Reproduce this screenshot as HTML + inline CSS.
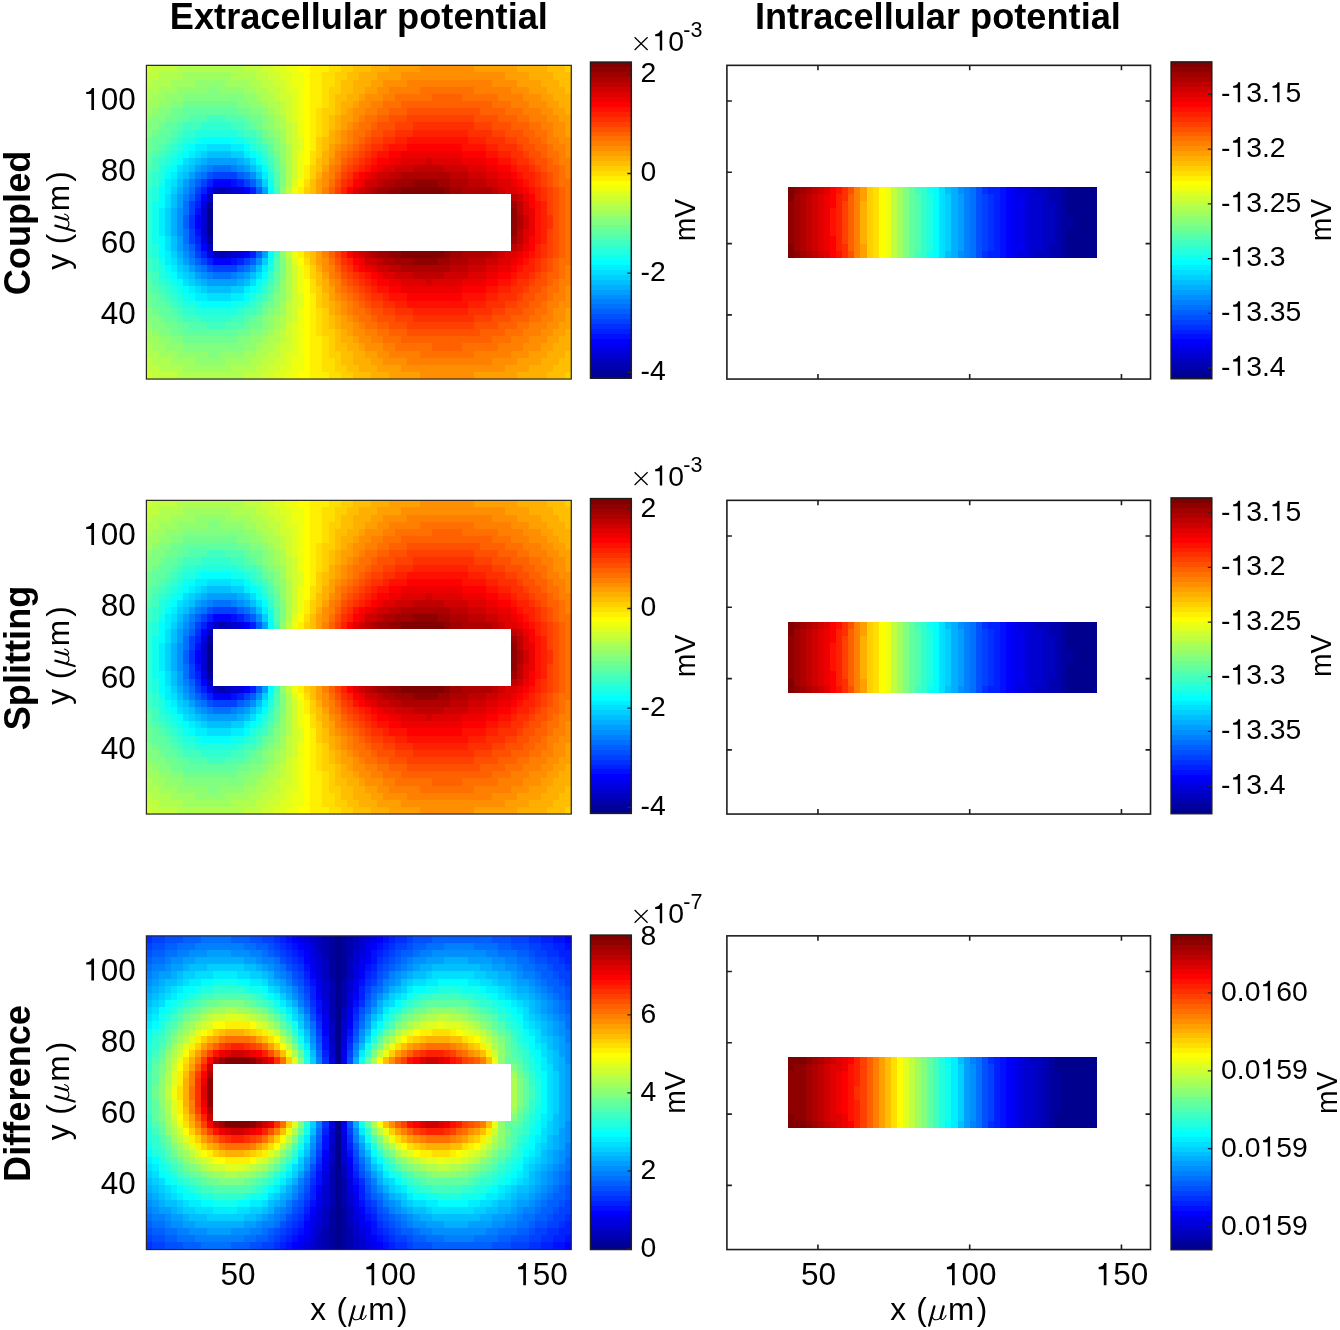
<!DOCTYPE html><html><head><meta charset="utf-8"><style>html,body{margin:0;padding:0;background:#fff;}svg{display:block;will-change:transform;}</style></head><body>
<svg width="1340" height="1330" viewBox="0 0 1340 1330">
<rect width="1340" height="1330" fill="#fff"/>
<g transform="translate(358.85 29.4) scale(1 1.0)">
<text x="0.00" y="0.00" font-size="36.20" text-anchor="middle" font-weight="bold" font-style="normal" font-family='"Liberation Sans", sans-serif' >Extracellular potential</text>
</g>
<g transform="translate(937.90 29.4) scale(1 1.0)">
<text x="0.00" y="0.00" font-size="36.20" text-anchor="middle" font-weight="bold" font-style="normal" font-family='"Liberation Sans", sans-serif' >Intracellular potential</text>
</g>
<g transform="translate(146.400 65.350) scale(6.07000 7.12955)" shape-rendering="crispEdges">
<path fill="#00008f" d="M10 20h1v1h-1zM10 21h1v1h-1zM10 22h1v1h-1zM10 23h1v1h-1z"/>
<path fill="#00009f" d="M10 19h1v1h-1zM10 24h1v1h-1z"/>
<path fill="#0000af" d="M12 17h1v1h-1zM12 26h1v1h-1z"/>
<path fill="#0000bf" d="M11 17h1v1h-1zM13 17h1v1h-1zM10 18h1v1h-1zM10 25h1v1h-1zM11 26h1v1h-1zM13 26h1v1h-1z"/>
<path fill="#0000cf" d="M14 17h1v1h-1zM9 20h1v1h-1zM9 21h1v1h-1zM9 22h1v1h-1zM9 23h1v1h-1zM14 26h1v1h-1z"/>
<path fill="#0000df" d="M15 17h1v1h-1zM9 19h1v1h-1zM9 24h1v1h-1zM15 26h1v1h-1z"/>
<path fill="#0000ef" d="M10 17h1v1h-1zM10 26h1v1h-1z"/>
<path fill="#0000ff" d="M11 16h3v1h-3zM16 17h1v1h-1zM9 18h1v1h-1zM8 21h1v1h-1zM8 22h1v1h-1zM9 25h1v1h-1zM16 26h1v1h-1zM11 27h3v1h-3z"/>
<path fill="#0010ff" d="M14 16h1v1h-1zM8 20h1v1h-1zM8 23h1v1h-1zM14 27h1v1h-1z"/>
<path fill="#0020ff" d="M10 16h1v1h-1zM15 16h1v1h-1zM9 17h1v1h-1zM17 17h1v1h-1zM8 19h1v1h-1zM8 24h1v1h-1zM9 26h1v1h-1zM17 26h1v1h-1zM10 27h1v1h-1zM15 27h1v1h-1z"/>
<path fill="#0030ff" d="M8 18h1v1h-1zM7 21h1v1h-1zM7 22h1v1h-1zM8 25h1v1h-1z"/>
<path fill="#0040ff" d="M11 15h4v1h-4zM9 16h1v1h-1zM16 16h1v1h-1zM8 17h1v1h-1zM7 19h1v1h-1zM7 20h1v1h-1zM7 23h1v1h-1zM7 24h1v1h-1zM8 26h1v1h-1zM9 27h1v1h-1zM16 27h1v1h-1zM11 28h4v1h-4z"/>
<path fill="#0050ff" d="M10 15h1v1h-1zM10 28h1v1h-1z"/>
<path fill="#0060ff" d="M15 15h1v1h-1zM8 16h1v1h-1zM17 16h1v1h-1zM18 17h1v1h-1zM7 18h1v1h-1zM6 21h1v1h-1zM6 22h1v1h-1zM7 25h1v1h-1zM18 26h1v1h-1zM8 27h1v1h-1zM17 27h1v1h-1zM15 28h1v1h-1z"/>
<path fill="#0070ff" d="M11 14h3v1h-3zM9 15h1v1h-1zM16 15h1v1h-1zM7 17h1v1h-1zM6 19h1v1h-1zM6 20h1v1h-1zM6 23h1v1h-1zM6 24h1v1h-1zM7 26h1v1h-1zM9 28h1v1h-1zM16 28h1v1h-1zM11 29h3v1h-3z"/>
<path fill="#0080ff" d="M10 14h1v1h-1zM14 14h1v1h-1zM8 15h1v1h-1zM7 16h1v1h-1zM6 18h1v1h-1zM6 25h1v1h-1zM7 27h1v1h-1zM8 28h1v1h-1zM10 29h1v1h-1zM14 29h1v1h-1z"/>
<path fill="#008fff" d="M9 14h1v1h-1zM15 14h1v1h-1zM17 15h1v1h-1zM18 16h1v1h-1zM6 17h1v1h-1zM5 20h1v1h-1zM5 21h1v1h-1zM5 22h1v1h-1zM5 23h1v1h-1zM6 26h1v1h-1zM18 27h1v1h-1zM17 28h1v1h-1zM9 29h1v1h-1zM15 29h1v1h-1z"/>
<path fill="#009fff" d="M10 13h5v1h-5zM8 14h1v1h-1zM16 14h1v1h-1zM7 15h1v1h-1zM6 16h1v1h-1zM19 17h1v1h-1zM5 18h1v1h-1zM5 19h1v1h-1zM5 24h1v1h-1zM5 25h1v1h-1zM19 26h1v1h-1zM6 27h1v1h-1zM7 28h1v1h-1zM8 29h1v1h-1zM16 29h1v1h-1zM10 30h5v1h-5z"/>
<path fill="#00afff" d="M9 13h1v1h-1zM15 13h1v1h-1zM5 17h1v1h-1zM4 20h1v1h-1zM4 21h1v1h-1zM4 22h1v1h-1zM4 23h1v1h-1zM5 26h1v1h-1zM9 30h1v1h-1zM15 30h1v1h-1z"/>
<path fill="#00bfff" d="M10 12h4v1h-4zM8 13h1v1h-1zM16 13h1v1h-1zM7 14h1v1h-1zM17 14h1v1h-1zM6 15h1v1h-1zM18 15h1v1h-1zM5 16h1v1h-1zM4 18h1v1h-1zM4 19h1v1h-1zM4 24h1v1h-1zM4 25h1v1h-1zM5 27h1v1h-1zM6 28h1v1h-1zM18 28h1v1h-1zM7 29h1v1h-1zM17 29h1v1h-1zM8 30h1v1h-1zM16 30h1v1h-1zM10 31h4v1h-4z"/>
<path fill="#00cfff" d="M9 12h1v1h-1zM14 12h2v1h-2zM7 13h1v1h-1zM6 14h1v1h-1zM5 15h1v1h-1zM19 16h1v1h-1zM4 17h1v1h-1zM3 20h1v1h-1zM3 21h1v1h-1zM3 22h1v1h-1zM3 23h1v1h-1zM4 26h1v1h-1zM19 27h1v1h-1zM5 28h1v1h-1zM6 29h1v1h-1zM7 30h1v1h-1zM9 31h1v1h-1zM14 31h2v1h-2z"/>
<path fill="#00dfff" d="M10 11h4v1h-4zM8 12h1v1h-1zM6 13h1v1h-1zM17 13h1v1h-1zM5 14h1v1h-1zM18 14h1v1h-1zM4 16h1v1h-1zM3 18h1v1h-1zM3 19h1v1h-1zM3 24h1v1h-1zM3 25h1v1h-1zM4 27h1v1h-1zM5 29h1v1h-1zM18 29h1v1h-1zM6 30h1v1h-1zM17 30h1v1h-1zM8 31h1v1h-1zM10 32h4v1h-4z"/>
<path fill="#00efff" d="M8 11h2v1h-2zM14 11h2v1h-2zM7 12h1v1h-1zM16 12h1v1h-1zM4 15h1v1h-1zM19 15h1v1h-1zM3 16h1v1h-1zM3 17h1v1h-1zM2 20h1v1h-1zM2 21h1v1h-1zM2 22h1v1h-1zM2 23h1v1h-1zM3 26h1v1h-1zM3 27h1v1h-1zM4 28h1v1h-1zM19 28h1v1h-1zM7 31h1v1h-1zM16 31h1v1h-1zM8 32h2v1h-2zM14 32h2v1h-2z"/>
<path fill="#00ffff" d="M9 10h5v1h-5zM7 11h1v1h-1zM16 11h1v1h-1zM6 12h1v1h-1zM17 12h1v1h-1zM5 13h1v1h-1zM18 13h1v1h-1zM4 14h1v1h-1zM19 14h1v1h-1zM3 15h1v1h-1zM2 17h1v1h-1zM20 17h1v1h-1zM2 18h1v1h-1zM2 19h1v1h-1zM2 24h1v1h-1zM2 25h1v1h-1zM2 26h1v1h-1zM20 26h1v1h-1zM3 28h1v1h-1zM4 29h1v1h-1zM19 29h1v1h-1zM5 30h1v1h-1zM18 30h1v1h-1zM6 31h1v1h-1zM17 31h1v1h-1zM7 32h1v1h-1zM16 32h1v1h-1zM9 33h5v1h-5z"/>
<path fill="#10ffef" d="M8 10h1v1h-1zM14 10h2v1h-2zM6 11h1v1h-1zM5 12h1v1h-1zM18 12h1v1h-1zM4 13h1v1h-1zM3 14h1v1h-1zM2 16h1v1h-1zM20 16h1v1h-1zM1 19h1v1h-1zM1 20h1v1h-1zM1 21h1v1h-1zM1 22h1v1h-1zM1 23h1v1h-1zM1 24h1v1h-1zM2 27h1v1h-1zM20 27h1v1h-1zM3 29h1v1h-1zM4 30h1v1h-1zM5 31h1v1h-1zM18 31h1v1h-1zM6 32h1v1h-1zM8 33h1v1h-1zM14 33h2v1h-2z"/>
<path fill="#20ffdf" d="M8 9h7v1h-7zM6 10h2v1h-2zM16 10h1v1h-1zM5 11h1v1h-1zM17 11h1v1h-1zM4 12h1v1h-1zM3 13h1v1h-1zM19 13h1v1h-1zM2 14h1v1h-1zM2 15h1v1h-1zM20 15h1v1h-1zM1 17h1v1h-1zM1 18h1v1h-1zM1 25h1v1h-1zM1 26h1v1h-1zM2 28h1v1h-1zM20 28h1v1h-1zM2 29h1v1h-1zM3 30h1v1h-1zM19 30h1v1h-1zM4 31h1v1h-1zM5 32h1v1h-1zM17 32h1v1h-1zM6 33h2v1h-2zM16 33h1v1h-1zM8 34h7v1h-7z"/>
<path fill="#30ffcf" d="M9 8h5v1h-5zM6 9h2v1h-2zM15 9h1v1h-1zM5 10h1v1h-1zM17 10h1v1h-1zM4 11h1v1h-1zM18 11h1v1h-1zM3 12h1v1h-1zM19 12h1v1h-1zM2 13h1v1h-1zM20 14h1v1h-1zM1 15h1v1h-1zM1 16h1v1h-1zM0 17h1v1h-1zM0 18h1v1h-1zM0 19h1v1h-1zM0 20h1v1h-1zM0 21h1v1h-1zM0 22h1v1h-1zM0 23h1v1h-1zM0 24h1v1h-1zM0 25h1v1h-1zM0 26h1v1h-1zM1 27h1v1h-1zM1 28h1v1h-1zM20 29h1v1h-1zM2 30h1v1h-1zM3 31h1v1h-1zM19 31h1v1h-1zM4 32h1v1h-1zM18 32h1v1h-1zM5 33h1v1h-1zM17 33h1v1h-1zM6 34h2v1h-2zM15 34h1v1h-1zM9 35h5v1h-5z"/>
<path fill="#40ffbf" d="M10 7h3v1h-3zM6 8h3v1h-3zM14 8h2v1h-2zM5 9h1v1h-1zM16 9h2v1h-2zM4 10h1v1h-1zM18 10h1v1h-1zM3 11h1v1h-1zM19 11h1v1h-1zM2 12h1v1h-1zM1 13h1v1h-1zM20 13h1v1h-1zM1 14h1v1h-1zM0 15h1v1h-1zM0 16h1v1h-1zM21 17h1v1h-1zM21 26h1v1h-1zM0 27h1v1h-1zM0 28h1v1h-1zM1 29h1v1h-1zM1 30h1v1h-1zM20 30h1v1h-1zM2 31h1v1h-1zM3 32h1v1h-1zM19 32h1v1h-1zM4 33h1v1h-1zM18 33h1v1h-1zM5 34h1v1h-1zM16 34h2v1h-2zM6 35h3v1h-3zM14 35h2v1h-2zM10 36h3v1h-3z"/>
<path fill="#50ffaf" d="M7 7h3v1h-3zM13 7h3v1h-3zM5 8h1v1h-1zM16 8h1v1h-1zM4 9h1v1h-1zM18 9h1v1h-1zM3 10h1v1h-1zM2 11h1v1h-1zM1 12h1v1h-1zM20 12h1v1h-1zM0 14h1v1h-1zM21 15h1v1h-1zM21 16h1v1h-1zM21 27h1v1h-1zM21 28h1v1h-1zM0 29h1v1h-1zM1 31h1v1h-1zM20 31h1v1h-1zM2 32h1v1h-1zM3 33h1v1h-1zM4 34h1v1h-1zM18 34h1v1h-1zM5 35h1v1h-1zM16 35h1v1h-1zM7 36h3v1h-3zM13 36h3v1h-3z"/>
<path fill="#60ff9f" d="M6 6h9v1h-9zM5 7h2v1h-2zM16 7h1v1h-1zM3 8h2v1h-2zM17 8h1v1h-1zM2 9h2v1h-2zM1 10h2v1h-2zM19 10h1v1h-1zM1 11h1v1h-1zM20 11h1v1h-1zM0 12h1v1h-1zM0 13h1v1h-1zM21 13h1v1h-1zM21 14h1v1h-1zM21 29h1v1h-1zM0 30h1v1h-1zM21 30h1v1h-1zM0 31h1v1h-1zM1 32h1v1h-1zM20 32h1v1h-1zM1 33h2v1h-2zM19 33h1v1h-1zM2 34h2v1h-2zM3 35h2v1h-2zM17 35h1v1h-1zM5 36h2v1h-2zM16 36h1v1h-1zM6 37h9v1h-9z"/>
<path fill="#70ff8f" d="M6 5h9v1h-9zM4 6h2v1h-2zM15 6h2v1h-2zM3 7h2v1h-2zM17 7h2v1h-2zM2 8h1v1h-1zM18 8h1v1h-1zM1 9h1v1h-1zM19 9h1v1h-1zM0 10h1v1h-1zM20 10h1v1h-1zM0 11h1v1h-1zM21 12h1v1h-1zM21 31h1v1h-1zM0 32h1v1h-1zM0 33h1v1h-1zM20 33h1v1h-1zM1 34h1v1h-1zM19 34h1v1h-1zM2 35h1v1h-1zM18 35h1v1h-1zM3 36h2v1h-2zM17 36h2v1h-2zM4 37h2v1h-2zM15 37h2v1h-2zM6 38h9v1h-9z"/>
<path fill="#80ff80" d="M10 3h2v1h-2zM6 4h10v1h-10zM4 5h2v1h-2zM15 5h2v1h-2zM2 6h2v1h-2zM17 6h2v1h-2zM1 7h2v1h-2zM19 7h1v1h-1zM0 8h2v1h-2zM19 8h1v1h-1zM0 9h1v1h-1zM20 9h1v1h-1zM21 10h1v1h-1zM21 11h1v1h-1zM22 14h1v1h-1zM22 15h1v1h-1zM22 16h1v1h-1zM22 27h1v1h-1zM22 28h1v1h-1zM22 29h1v1h-1zM21 32h1v1h-1zM21 33h1v1h-1zM0 34h1v1h-1zM20 34h1v1h-1zM0 35h2v1h-2zM19 35h1v1h-1zM1 36h2v1h-2zM19 36h1v1h-1zM2 37h2v1h-2zM17 37h2v1h-2zM4 38h2v1h-2zM15 38h2v1h-2zM6 39h10v1h-10zM10 40h2v1h-2z"/>
<path fill="#8fff70" d="M8 2h5v1h-5zM5 3h5v1h-5zM12 3h4v1h-4zM3 4h3v1h-3zM16 4h2v1h-2zM2 5h2v1h-2zM17 5h2v1h-2zM1 6h1v1h-1zM19 6h1v1h-1zM0 7h1v1h-1zM20 7h1v1h-1zM20 8h1v1h-1zM21 9h1v1h-1zM22 11h1v1h-1zM22 12h1v1h-1zM22 13h1v1h-1zM22 17h1v1h-1zM22 26h1v1h-1zM22 30h1v1h-1zM22 31h1v1h-1zM22 32h1v1h-1zM21 34h1v1h-1zM20 35h1v1h-1zM0 36h1v1h-1zM20 36h1v1h-1zM1 37h1v1h-1zM19 37h1v1h-1zM2 38h2v1h-2zM17 38h2v1h-2zM3 39h3v1h-3zM16 39h2v1h-2zM5 40h5v1h-5zM12 40h4v1h-4zM8 41h5v1h-5z"/>
<path fill="#9fff60" d="M6 1h8v1h-8zM4 2h4v1h-4zM13 2h4v1h-4zM2 3h3v1h-3zM16 3h2v1h-2zM1 4h2v1h-2zM18 4h1v1h-1zM0 5h2v1h-2zM19 5h1v1h-1zM0 6h1v1h-1zM20 6h1v1h-1zM21 7h1v1h-1zM21 8h1v1h-1zM22 9h1v1h-1zM22 10h1v1h-1zM22 33h1v1h-1zM22 34h1v1h-1zM21 35h1v1h-1zM21 36h1v1h-1zM0 37h1v1h-1zM20 37h1v1h-1zM0 38h2v1h-2zM19 38h1v1h-1zM1 39h2v1h-2zM18 39h1v1h-1zM2 40h3v1h-3zM16 40h2v1h-2zM4 41h4v1h-4zM13 41h4v1h-4zM6 42h8v1h-8z"/>
<path fill="#afff50" d="M5 0h11v1h-11zM2 1h4v1h-4zM14 1h4v1h-4zM1 2h3v1h-3zM17 2h2v1h-2zM0 3h2v1h-2zM18 3h2v1h-2zM0 4h1v1h-1zM19 4h2v1h-2zM20 5h2v1h-2zM21 6h1v1h-1zM22 7h1v1h-1zM22 8h1v1h-1zM23 11h1v1h-1zM23 12h1v1h-1zM23 13h1v1h-1zM23 14h1v1h-1zM23 15h1v1h-1zM23 16h1v1h-1zM23 27h1v1h-1zM23 28h1v1h-1zM23 29h1v1h-1zM23 30h1v1h-1zM23 31h1v1h-1zM23 32h1v1h-1zM22 35h1v1h-1zM22 36h1v1h-1zM21 37h1v1h-1zM20 38h2v1h-2zM0 39h1v1h-1zM19 39h2v1h-2zM0 40h2v1h-2zM18 40h2v1h-2zM1 41h3v1h-3zM17 41h2v1h-2zM2 42h4v1h-4zM14 42h4v1h-4zM5 43h11v1h-11z"/>
<path fill="#bfff40" d="M1 0h4v1h-4zM16 0h3v1h-3zM0 1h2v1h-2zM18 1h2v1h-2zM0 2h1v1h-1zM19 2h2v1h-2zM20 3h2v1h-2zM21 4h1v1h-1zM22 5h1v1h-1zM22 6h1v1h-1zM23 8h1v1h-1zM23 9h1v1h-1zM23 10h1v1h-1zM23 17h1v1h-1zM23 26h1v1h-1zM23 33h1v1h-1zM23 34h1v1h-1zM23 35h1v1h-1zM22 37h1v1h-1zM22 38h1v1h-1zM21 39h1v1h-1zM20 40h2v1h-2zM0 41h1v1h-1zM19 41h2v1h-2zM0 42h2v1h-2zM18 42h2v1h-2zM1 43h4v1h-4zM16 43h3v1h-3z"/>
<path fill="#cfff30" d="M0 0h1v1h-1zM19 0h2v1h-2zM20 1h2v1h-2zM21 2h2v1h-2zM22 3h1v1h-1zM22 4h2v1h-2zM23 5h1v1h-1zM23 6h1v1h-1zM23 7h1v1h-1zM24 8h1v1h-1zM24 9h1v1h-1zM24 10h1v1h-1zM24 11h1v1h-1zM24 12h1v1h-1zM24 13h1v1h-1zM24 14h1v1h-1zM24 15h1v1h-1zM24 28h1v1h-1zM24 29h1v1h-1zM24 30h1v1h-1zM24 31h1v1h-1zM24 32h1v1h-1zM24 33h1v1h-1zM24 34h1v1h-1zM24 35h1v1h-1zM23 36h1v1h-1zM23 37h1v1h-1zM23 38h1v1h-1zM22 39h2v1h-2zM22 40h1v1h-1zM21 41h2v1h-2zM20 42h2v1h-2zM0 43h1v1h-1zM19 43h2v1h-2z"/>
<path fill="#dfff20" d="M21 0h2v1h-2zM22 1h2v1h-2zM23 2h1v1h-1zM23 3h2v1h-2zM24 4h1v1h-1zM24 5h1v1h-1zM24 6h1v1h-1zM24 7h1v1h-1zM25 10h1v1h-1zM25 11h1v1h-1zM24 16h1v1h-1zM24 27h1v1h-1zM25 32h1v1h-1zM25 33h1v1h-1zM24 36h1v1h-1zM24 37h1v1h-1zM24 38h1v1h-1zM24 39h1v1h-1zM23 40h2v1h-2zM23 41h1v1h-1zM22 42h2v1h-2zM21 43h2v1h-2z"/>
<path fill="#efff10" d="M23 0h2v1h-2zM24 1h2v1h-2zM24 2h2v1h-2zM25 3h1v1h-1zM25 4h1v1h-1zM25 5h1v1h-1zM25 6h1v1h-1zM25 7h1v1h-1zM25 8h1v1h-1zM25 9h1v1h-1zM25 12h1v1h-1zM25 13h1v1h-1zM25 14h1v1h-1zM25 15h1v1h-1zM24 17h1v1h-1zM24 26h1v1h-1zM25 28h1v1h-1zM25 29h1v1h-1zM25 30h1v1h-1zM25 31h1v1h-1zM25 34h1v1h-1zM25 35h1v1h-1zM25 36h1v1h-1zM25 37h1v1h-1zM25 38h1v1h-1zM25 39h1v1h-1zM25 40h1v1h-1zM24 41h2v1h-2zM24 42h2v1h-2zM23 43h2v1h-2z"/>
<path fill="#ffff00" d="M25 0h2v1h-2zM26 1h1v1h-1zM26 2h1v1h-1zM26 3h1v1h-1zM26 4h1v1h-1zM26 5h1v1h-1zM26 6h1v1h-1zM26 7h1v1h-1zM26 8h1v1h-1zM26 9h1v1h-1zM26 10h1v1h-1zM26 11h1v1h-1zM26 12h1v1h-1zM26 13h1v1h-1zM25 16h1v1h-1zM25 27h1v1h-1zM26 30h1v1h-1zM26 31h1v1h-1zM26 32h1v1h-1zM26 33h1v1h-1zM26 34h1v1h-1zM26 35h1v1h-1zM26 36h1v1h-1zM26 37h1v1h-1zM26 38h1v1h-1zM26 39h1v1h-1zM26 40h1v1h-1zM26 41h1v1h-1zM26 42h1v1h-1zM25 43h2v1h-2z"/>
<path fill="#ffef00" d="M27 0h3v1h-3zM27 1h2v1h-2zM27 2h2v1h-2zM27 3h2v1h-2zM27 4h2v1h-2zM27 5h2v1h-2zM27 6h1v1h-1zM27 7h1v1h-1zM27 8h1v1h-1zM27 9h1v1h-1zM27 10h1v1h-1zM27 11h1v1h-1zM26 14h1v1h-1zM26 15h1v1h-1zM25 17h1v1h-1zM25 26h1v1h-1zM26 28h1v1h-1zM26 29h1v1h-1zM27 32h1v1h-1zM27 33h1v1h-1zM27 34h1v1h-1zM27 35h1v1h-1zM27 36h1v1h-1zM27 37h1v1h-1zM27 38h2v1h-2zM27 39h2v1h-2zM27 40h2v1h-2zM27 41h2v1h-2zM27 42h2v1h-2zM27 43h3v1h-3z"/>
<path fill="#ffdf00" d="M30 0h2v1h-2zM29 1h2v1h-2zM29 2h2v1h-2zM29 3h1v1h-1zM29 4h1v1h-1zM29 5h1v1h-1zM28 6h1v1h-1zM28 7h1v1h-1zM28 8h1v1h-1zM28 9h1v1h-1zM27 12h1v1h-1zM27 13h1v1h-1zM26 16h1v1h-1zM26 27h1v1h-1zM27 30h1v1h-1zM27 31h1v1h-1zM28 34h1v1h-1zM28 35h1v1h-1zM28 36h1v1h-1zM28 37h1v1h-1zM29 38h1v1h-1zM29 39h1v1h-1zM29 40h1v1h-1zM29 41h2v1h-2zM29 42h2v1h-2zM30 43h2v1h-2z"/>
<path fill="#ffcf00" d="M32 0h2v1h-2zM69 0h1v1h-1zM31 1h2v1h-2zM31 2h1v1h-1zM30 3h2v1h-2zM30 4h1v1h-1zM30 5h1v1h-1zM29 6h2v1h-2zM29 7h1v1h-1zM29 8h1v1h-1zM29 9h1v1h-1zM28 10h1v1h-1zM28 11h1v1h-1zM28 12h1v1h-1zM27 14h1v1h-1zM27 15h1v1h-1zM26 17h1v1h-1zM26 26h1v1h-1zM27 28h1v1h-1zM27 29h1v1h-1zM28 31h1v1h-1zM28 32h1v1h-1zM28 33h1v1h-1zM29 34h1v1h-1zM29 35h1v1h-1zM29 36h1v1h-1zM29 37h2v1h-2zM30 38h1v1h-1zM30 39h1v1h-1zM30 40h2v1h-2zM31 41h1v1h-1zM31 42h2v1h-2zM32 43h2v1h-2zM69 43h1v1h-1z"/>
<path fill="#ffbf00" d="M34 0h3v1h-3zM66 0h3v1h-3zM33 1h2v1h-2zM67 1h3v1h-3zM32 2h2v1h-2zM68 2h2v1h-2zM32 3h2v1h-2zM69 3h1v1h-1zM31 4h2v1h-2zM31 5h1v1h-1zM31 6h1v1h-1zM30 7h1v1h-1zM30 8h1v1h-1zM29 10h1v1h-1zM29 11h1v1h-1zM28 13h1v1h-1zM28 14h1v1h-1zM27 16h1v1h-1zM27 17h1v1h-1zM27 26h1v1h-1zM27 27h1v1h-1zM28 29h1v1h-1zM28 30h1v1h-1zM29 32h1v1h-1zM29 33h1v1h-1zM30 35h1v1h-1zM30 36h1v1h-1zM31 37h1v1h-1zM31 38h1v1h-1zM31 39h2v1h-2zM32 40h2v1h-2zM69 40h1v1h-1zM32 41h2v1h-2zM68 41h2v1h-2zM33 42h2v1h-2zM67 42h3v1h-3zM34 43h3v1h-3zM66 43h3v1h-3z"/>
<path fill="#ffaf00" d="M37 0h3v1h-3zM61 0h5v1h-5zM35 1h3v1h-3zM63 1h4v1h-4zM34 2h3v1h-3zM65 2h3v1h-3zM34 3h2v1h-2zM66 3h3v1h-3zM33 4h2v1h-2zM67 4h3v1h-3zM32 5h2v1h-2zM68 5h2v1h-2zM32 6h1v1h-1zM69 6h1v1h-1zM31 7h1v1h-1zM31 8h1v1h-1zM30 9h1v1h-1zM30 10h1v1h-1zM29 12h1v1h-1zM29 13h1v1h-1zM28 15h1v1h-1zM28 28h1v1h-1zM29 30h1v1h-1zM29 31h1v1h-1zM30 33h1v1h-1zM30 34h1v1h-1zM31 35h1v1h-1zM31 36h1v1h-1zM32 37h1v1h-1zM69 37h1v1h-1zM32 38h2v1h-2zM68 38h2v1h-2zM33 39h2v1h-2zM67 39h3v1h-3zM34 40h2v1h-2zM66 40h3v1h-3zM34 41h3v1h-3zM65 41h3v1h-3zM35 42h3v1h-3zM63 42h4v1h-4zM37 43h3v1h-3zM61 43h5v1h-5z"/>
<path fill="#ff9f00" d="M40 0h5v1h-5zM54 0h7v1h-7zM38 1h4v1h-4zM59 1h4v1h-4zM37 2h2v1h-2zM61 2h4v1h-4zM36 3h2v1h-2zM63 3h3v1h-3zM35 4h1v1h-1zM65 4h2v1h-2zM34 5h1v1h-1zM66 5h2v1h-2zM33 6h1v1h-1zM67 6h2v1h-2zM32 7h2v1h-2zM68 7h2v1h-2zM32 8h1v1h-1zM69 8h1v1h-1zM31 9h1v1h-1zM69 9h1v1h-1zM31 10h1v1h-1zM30 11h1v1h-1zM30 12h1v1h-1zM29 14h1v1h-1zM28 16h1v1h-1zM28 17h1v1h-1zM28 26h1v1h-1zM28 27h1v1h-1zM29 29h1v1h-1zM30 31h1v1h-1zM30 32h1v1h-1zM31 33h1v1h-1zM31 34h1v1h-1zM69 34h1v1h-1zM32 35h1v1h-1zM69 35h1v1h-1zM32 36h2v1h-2zM68 36h2v1h-2zM33 37h1v1h-1zM67 37h2v1h-2zM34 38h1v1h-1zM66 38h2v1h-2zM35 39h1v1h-1zM65 39h2v1h-2zM36 40h2v1h-2zM63 40h3v1h-3zM37 41h2v1h-2zM61 41h4v1h-4zM38 42h4v1h-4zM59 42h4v1h-4zM40 43h5v1h-5zM54 43h7v1h-7z"/>
<path fill="#ff8f00" d="M45 0h9v1h-9zM42 1h17v1h-17zM39 2h4v1h-4zM57 2h4v1h-4zM38 3h2v1h-2zM60 3h3v1h-3zM36 4h3v1h-3zM62 4h3v1h-3zM35 5h2v1h-2zM63 5h3v1h-3zM34 6h2v1h-2zM65 6h2v1h-2zM34 7h1v1h-1zM66 7h2v1h-2zM33 8h1v1h-1zM67 8h2v1h-2zM32 9h1v1h-1zM67 9h2v1h-2zM32 10h1v1h-1zM68 10h2v1h-2zM31 11h1v1h-1zM69 11h1v1h-1zM69 12h1v1h-1zM30 13h1v1h-1zM29 15h1v1h-1zM29 16h1v1h-1zM29 27h1v1h-1zM29 28h1v1h-1zM30 30h1v1h-1zM69 31h1v1h-1zM31 32h1v1h-1zM69 32h1v1h-1zM32 33h1v1h-1zM68 33h2v1h-2zM32 34h1v1h-1zM67 34h2v1h-2zM33 35h1v1h-1zM67 35h2v1h-2zM34 36h1v1h-1zM66 36h2v1h-2zM34 37h2v1h-2zM65 37h2v1h-2zM35 38h2v1h-2zM63 38h3v1h-3zM36 39h3v1h-3zM62 39h3v1h-3zM38 40h2v1h-2zM60 40h3v1h-3zM39 41h4v1h-4zM57 41h4v1h-4zM42 42h17v1h-17zM45 43h9v1h-9z"/>
<path fill="#ff8000" d="M43 2h14v1h-14zM40 3h5v1h-5zM54 3h6v1h-6zM39 4h2v1h-2zM58 4h4v1h-4zM37 5h2v1h-2zM60 5h3v1h-3zM36 6h2v1h-2zM62 6h3v1h-3zM35 7h1v1h-1zM63 7h3v1h-3zM34 8h1v1h-1zM65 8h2v1h-2zM33 9h1v1h-1zM66 9h1v1h-1zM33 10h1v1h-1zM66 10h2v1h-2zM32 11h1v1h-1zM67 11h2v1h-2zM31 12h1v1h-1zM68 12h1v1h-1zM31 13h1v1h-1zM68 13h2v1h-2zM30 14h1v1h-1zM69 14h1v1h-1zM30 15h1v1h-1zM69 15h1v1h-1zM29 17h1v1h-1zM29 26h1v1h-1zM30 28h1v1h-1zM69 28h1v1h-1zM30 29h1v1h-1zM69 29h1v1h-1zM31 30h1v1h-1zM68 30h2v1h-2zM31 31h1v1h-1zM68 31h1v1h-1zM32 32h1v1h-1zM67 32h2v1h-2zM33 33h1v1h-1zM66 33h2v1h-2zM33 34h1v1h-1zM66 34h1v1h-1zM34 35h1v1h-1zM65 35h2v1h-2zM35 36h1v1h-1zM63 36h3v1h-3zM36 37h2v1h-2zM62 37h3v1h-3zM37 38h2v1h-2zM60 38h3v1h-3zM39 39h2v1h-2zM58 39h4v1h-4zM40 40h5v1h-5zM54 40h6v1h-6zM43 41h14v1h-14z"/>
<path fill="#ff7000" d="M45 3h9v1h-9zM41 4h6v1h-6zM52 4h6v1h-6zM39 5h3v1h-3zM57 5h3v1h-3zM38 6h2v1h-2zM59 6h3v1h-3zM36 7h2v1h-2zM61 7h2v1h-2zM35 8h2v1h-2zM63 8h2v1h-2zM34 9h2v1h-2zM64 9h2v1h-2zM34 10h1v1h-1zM65 10h1v1h-1zM33 11h1v1h-1zM66 11h1v1h-1zM32 12h1v1h-1zM66 12h2v1h-2zM67 13h1v1h-1zM31 14h1v1h-1zM68 14h1v1h-1zM68 15h1v1h-1zM30 16h1v1h-1zM68 16h2v1h-2zM69 17h1v1h-1zM69 18h1v1h-1zM69 19h1v1h-1zM69 20h1v1h-1zM69 21h1v1h-1zM69 22h1v1h-1zM69 23h1v1h-1zM69 24h1v1h-1zM69 25h1v1h-1zM69 26h1v1h-1zM30 27h1v1h-1zM68 27h2v1h-2zM68 28h1v1h-1zM31 29h1v1h-1zM68 29h1v1h-1zM67 30h1v1h-1zM32 31h1v1h-1zM66 31h2v1h-2zM33 32h1v1h-1zM66 32h1v1h-1zM34 33h1v1h-1zM65 33h1v1h-1zM34 34h2v1h-2zM64 34h2v1h-2zM35 35h2v1h-2zM63 35h2v1h-2zM36 36h2v1h-2zM61 36h2v1h-2zM38 37h2v1h-2zM59 37h3v1h-3zM39 38h3v1h-3zM57 38h3v1h-3zM41 39h6v1h-6zM52 39h6v1h-6zM45 40h9v1h-9z"/>
<path fill="#ff6000" d="M47 4h5v1h-5zM42 5h15v1h-15zM40 6h3v1h-3zM55 6h4v1h-4zM38 7h2v1h-2zM58 7h3v1h-3zM37 8h1v1h-1zM60 8h3v1h-3zM36 9h1v1h-1zM62 9h2v1h-2zM35 10h1v1h-1zM63 10h2v1h-2zM34 11h1v1h-1zM64 11h2v1h-2zM33 12h1v1h-1zM65 12h1v1h-1zM32 13h1v1h-1zM66 13h1v1h-1zM66 14h2v1h-2zM31 15h1v1h-1zM67 15h1v1h-1zM67 16h1v1h-1zM30 17h1v1h-1zM68 17h1v1h-1zM68 18h1v1h-1zM68 19h1v1h-1zM68 20h1v1h-1zM68 21h1v1h-1zM68 22h1v1h-1zM68 23h1v1h-1zM68 24h1v1h-1zM68 25h1v1h-1zM30 26h1v1h-1zM68 26h1v1h-1zM67 27h1v1h-1zM31 28h1v1h-1zM67 28h1v1h-1zM66 29h2v1h-2zM32 30h1v1h-1zM66 30h1v1h-1zM33 31h1v1h-1zM65 31h1v1h-1zM34 32h1v1h-1zM64 32h2v1h-2zM35 33h1v1h-1zM63 33h2v1h-2zM36 34h1v1h-1zM62 34h2v1h-2zM37 35h1v1h-1zM60 35h3v1h-3zM38 36h2v1h-2zM58 36h3v1h-3zM40 37h3v1h-3zM55 37h4v1h-4zM42 38h15v1h-15zM47 39h5v1h-5z"/>
<path fill="#ff5000" d="M43 6h12v1h-12zM40 7h3v1h-3zM54 7h4v1h-4zM38 8h3v1h-3zM57 8h3v1h-3zM37 9h2v1h-2zM59 9h3v1h-3zM36 10h1v1h-1zM61 10h2v1h-2zM35 11h1v1h-1zM62 11h2v1h-2zM34 12h1v1h-1zM63 12h2v1h-2zM33 13h1v1h-1zM64 13h2v1h-2zM32 14h1v1h-1zM65 14h1v1h-1zM66 15h1v1h-1zM31 16h1v1h-1zM66 16h1v1h-1zM67 17h1v1h-1zM67 18h1v1h-1zM67 19h1v1h-1zM67 20h1v1h-1zM67 21h1v1h-1zM67 22h1v1h-1zM67 23h1v1h-1zM67 24h1v1h-1zM67 25h1v1h-1zM67 26h1v1h-1zM31 27h1v1h-1zM66 27h1v1h-1zM66 28h1v1h-1zM32 29h1v1h-1zM65 29h1v1h-1zM33 30h1v1h-1zM64 30h2v1h-2zM34 31h1v1h-1zM63 31h2v1h-2zM35 32h1v1h-1zM62 32h2v1h-2zM36 33h1v1h-1zM61 33h2v1h-2zM37 34h2v1h-2zM59 34h3v1h-3zM38 35h3v1h-3zM57 35h3v1h-3zM40 36h3v1h-3zM54 36h4v1h-4zM43 37h12v1h-12z"/>
<path fill="#ff4000" d="M43 7h11v1h-11zM41 8h3v1h-3zM54 8h3v1h-3zM39 9h2v1h-2zM57 9h2v1h-2zM37 10h2v1h-2zM59 10h2v1h-2zM36 11h1v1h-1zM61 11h1v1h-1zM35 12h1v1h-1zM62 12h1v1h-1zM34 13h1v1h-1zM63 13h1v1h-1zM33 14h1v1h-1zM64 14h1v1h-1zM32 15h1v1h-1zM65 15h1v1h-1zM65 16h1v1h-1zM31 17h1v1h-1zM66 17h1v1h-1zM66 18h1v1h-1zM66 19h1v1h-1zM66 20h1v1h-1zM66 23h1v1h-1zM66 24h1v1h-1zM66 25h1v1h-1zM31 26h1v1h-1zM66 26h1v1h-1zM65 27h1v1h-1zM32 28h1v1h-1zM65 28h1v1h-1zM33 29h1v1h-1zM64 29h1v1h-1zM34 30h1v1h-1zM63 30h1v1h-1zM35 31h1v1h-1zM62 31h1v1h-1zM36 32h1v1h-1zM61 32h1v1h-1zM37 33h2v1h-2zM59 33h2v1h-2zM39 34h2v1h-2zM57 34h2v1h-2zM41 35h3v1h-3zM54 35h3v1h-3zM43 36h11v1h-11z"/>
<path fill="#ff3000" d="M44 8h10v1h-10zM41 9h3v1h-3zM53 9h4v1h-4zM39 10h2v1h-2zM56 10h3v1h-3zM37 11h2v1h-2zM58 11h3v1h-3zM36 12h1v1h-1zM60 12h2v1h-2zM35 13h1v1h-1zM61 13h2v1h-2zM34 14h1v1h-1zM63 14h1v1h-1zM33 15h1v1h-1zM64 15h1v1h-1zM32 16h1v1h-1zM64 16h1v1h-1zM65 17h1v1h-1zM65 18h1v1h-1zM66 21h1v1h-1zM66 22h1v1h-1zM65 25h1v1h-1zM65 26h1v1h-1zM32 27h1v1h-1zM64 27h1v1h-1zM33 28h1v1h-1zM64 28h1v1h-1zM34 29h1v1h-1zM63 29h1v1h-1zM35 30h1v1h-1zM61 30h2v1h-2zM36 31h1v1h-1zM60 31h2v1h-2zM37 32h2v1h-2zM58 32h3v1h-3zM39 33h2v1h-2zM56 33h3v1h-3zM41 34h3v1h-3zM53 34h4v1h-4zM44 35h10v1h-10z"/>
<path fill="#ff2000" d="M44 9h9v1h-9zM41 10h2v1h-2zM53 10h3v1h-3zM39 11h1v1h-1zM56 11h2v1h-2zM37 12h1v1h-1zM58 12h2v1h-2zM36 13h1v1h-1zM60 13h1v1h-1zM35 14h1v1h-1zM61 14h2v1h-2zM62 15h2v1h-2zM33 16h1v1h-1zM63 16h1v1h-1zM32 17h1v1h-1zM64 17h1v1h-1zM64 18h1v1h-1zM65 19h1v1h-1zM65 20h1v1h-1zM65 21h1v1h-1zM65 22h1v1h-1zM65 23h1v1h-1zM65 24h1v1h-1zM64 25h1v1h-1zM32 26h1v1h-1zM64 26h1v1h-1zM33 27h1v1h-1zM63 27h1v1h-1zM62 28h2v1h-2zM35 29h1v1h-1zM61 29h2v1h-2zM36 30h1v1h-1zM60 30h1v1h-1zM37 31h1v1h-1zM58 31h2v1h-2zM39 32h1v1h-1zM56 32h2v1h-2zM41 33h2v1h-2zM53 33h3v1h-3zM44 34h9v1h-9z"/>
<path fill="#ff1000" d="M43 10h10v1h-10zM40 11h3v1h-3zM52 11h4v1h-4zM38 12h2v1h-2zM56 12h2v1h-2zM37 13h1v1h-1zM58 13h2v1h-2zM36 14h1v1h-1zM60 14h1v1h-1zM34 15h1v1h-1zM61 15h1v1h-1zM62 16h1v1h-1zM63 17h1v1h-1zM64 19h1v1h-1zM64 20h1v1h-1zM64 21h1v1h-1zM64 22h1v1h-1zM64 23h1v1h-1zM64 24h1v1h-1zM63 26h1v1h-1zM62 27h1v1h-1zM34 28h1v1h-1zM61 28h1v1h-1zM36 29h1v1h-1zM60 29h1v1h-1zM37 30h1v1h-1zM58 30h2v1h-2zM38 31h2v1h-2zM56 31h2v1h-2zM40 32h3v1h-3zM52 32h4v1h-4zM43 33h10v1h-10z"/>
<path fill="#ff0000" d="M43 11h9v1h-9zM40 12h2v1h-2zM52 12h4v1h-4zM38 13h2v1h-2zM56 13h2v1h-2zM37 14h1v1h-1zM58 14h2v1h-2zM35 15h1v1h-1zM60 15h1v1h-1zM34 16h1v1h-1zM61 16h1v1h-1zM33 17h1v1h-1zM62 17h1v1h-1zM63 18h1v1h-1zM63 19h1v1h-1zM63 24h1v1h-1zM63 25h1v1h-1zM33 26h1v1h-1zM62 26h1v1h-1zM34 27h1v1h-1zM61 27h1v1h-1zM35 28h1v1h-1zM60 28h1v1h-1zM37 29h1v1h-1zM58 29h2v1h-2zM38 30h2v1h-2zM56 30h2v1h-2zM40 31h2v1h-2zM52 31h4v1h-4zM43 32h9v1h-9z"/>
<path fill="#ef0000" d="M42 12h10v1h-10zM40 13h2v1h-2zM52 13h4v1h-4zM38 14h1v1h-1zM56 14h2v1h-2zM36 15h1v1h-1zM58 15h2v1h-2zM35 16h1v1h-1zM60 16h1v1h-1zM61 17h1v1h-1zM62 18h1v1h-1zM63 20h1v1h-1zM63 21h1v1h-1zM63 22h1v1h-1zM63 23h1v1h-1zM62 25h1v1h-1zM61 26h1v1h-1zM35 27h1v1h-1zM60 27h1v1h-1zM36 28h1v1h-1zM58 28h2v1h-2zM38 29h1v1h-1zM56 29h2v1h-2zM40 30h2v1h-2zM52 30h4v1h-4zM42 31h10v1h-10z"/>
<path fill="#df0000" d="M42 13h4v1h-4zM47 13h5v1h-5zM39 14h2v1h-2zM53 14h3v1h-3zM37 15h1v1h-1zM56 15h2v1h-2zM58 16h2v1h-2zM34 17h1v1h-1zM59 17h2v1h-2zM62 19h1v1h-1zM62 20h1v1h-1zM62 23h1v1h-1zM62 24h1v1h-1zM34 26h1v1h-1zM59 26h2v1h-2zM58 27h2v1h-2zM37 28h1v1h-1zM56 28h2v1h-2zM39 29h2v1h-2zM53 29h3v1h-3zM42 30h4v1h-4zM47 30h5v1h-5z"/>
<path fill="#cf0000" d="M46 13h1v1h-1zM41 14h3v1h-3zM49 14h4v1h-4zM38 15h2v1h-2zM53 15h3v1h-3zM36 16h2v1h-2zM56 16h2v1h-2zM35 17h1v1h-1zM58 17h1v1h-1zM61 18h1v1h-1zM62 21h1v1h-1zM62 22h1v1h-1zM61 25h1v1h-1zM35 26h1v1h-1zM58 26h1v1h-1zM36 27h2v1h-2zM56 27h2v1h-2zM38 28h2v1h-2zM53 28h3v1h-3zM41 29h3v1h-3zM49 29h4v1h-4zM46 30h1v1h-1z"/>
<path fill="#bf0000" d="M44 14h5v1h-5zM40 15h2v1h-2zM50 15h3v1h-3zM38 16h1v1h-1zM53 16h3v1h-3zM36 17h1v1h-1zM57 17h1v1h-1zM60 18h1v1h-1zM61 19h1v1h-1zM61 20h1v1h-1zM61 23h1v1h-1zM61 24h1v1h-1zM60 25h1v1h-1zM36 26h1v1h-1zM57 26h1v1h-1zM38 27h1v1h-1zM53 27h3v1h-3zM40 28h2v1h-2zM50 28h3v1h-3zM44 29h5v1h-5z"/>
<path fill="#af0000" d="M42 15h8v1h-8zM39 16h2v1h-2zM50 16h3v1h-3zM37 17h1v1h-1zM52 17h5v1h-5zM61 21h1v1h-1zM61 22h1v1h-1zM37 26h1v1h-1zM52 26h5v1h-5zM39 27h2v1h-2zM50 27h3v1h-3zM42 28h8v1h-8z"/>
<path fill="#9f0000" d="M41 16h3v1h-3zM48 16h2v1h-2zM38 17h2v1h-2zM50 17h2v1h-2zM60 19h1v1h-1zM60 24h1v1h-1zM38 26h2v1h-2zM50 26h2v1h-2zM41 27h3v1h-3zM48 27h2v1h-2z"/>
<path fill="#8f0000" d="M44 16h4v1h-4zM40 17h2v1h-2zM49 17h1v1h-1zM60 20h1v1h-1zM60 21h1v1h-1zM60 22h1v1h-1zM60 23h1v1h-1zM40 26h2v1h-2zM49 26h1v1h-1zM44 27h4v1h-4z"/>
<path fill="#800000" d="M42 17h7v1h-7zM42 26h7v1h-7z"/>
</g>
<rect x="146.40" y="65.35" width="424.90" height="313.70" fill="none" stroke="#262626" stroke-width="1.2"/>
<g transform="translate(787.600 186.552) scale(6.07000 7.12955)" shape-rendering="crispEdges">
<path fill="#00008f" d="M46 0h5v1h-5zM46 1h5v1h-5zM46 2h5v1h-5zM46 3h5v1h-5zM47 4h4v1h-4zM47 5h4v1h-4zM46 6h5v1h-5zM46 7h5v1h-5zM46 8h5v1h-5zM46 9h5v1h-5z"/>
<path fill="#00009f" d="M45 0h1v1h-1zM45 1h1v1h-1zM45 2h1v1h-1zM45 3h1v1h-1zM45 4h2v1h-2zM45 5h2v1h-2zM45 6h1v1h-1zM45 7h1v1h-1zM45 8h1v1h-1zM45 9h1v1h-1z"/>
<path fill="#0000af" d="M43 0h2v1h-2zM43 1h2v1h-2zM44 2h1v1h-1zM44 3h1v1h-1zM44 4h1v1h-1zM44 5h1v1h-1zM44 6h1v1h-1zM44 7h1v1h-1zM43 8h2v1h-2zM43 9h2v1h-2z"/>
<path fill="#0000bf" d="M41 0h2v1h-2zM42 1h1v1h-1zM42 2h2v1h-2zM42 3h2v1h-2zM42 4h2v1h-2zM42 5h2v1h-2zM42 6h2v1h-2zM42 7h2v1h-2zM42 8h1v1h-1zM41 9h2v1h-2z"/>
<path fill="#0000cf" d="M40 0h1v1h-1zM40 1h2v1h-2zM40 2h2v1h-2zM40 3h2v1h-2zM40 4h2v1h-2zM40 5h2v1h-2zM40 6h2v1h-2zM40 7h2v1h-2zM40 8h2v1h-2zM40 9h1v1h-1z"/>
<path fill="#0000df" d="M38 0h2v1h-2zM39 1h1v1h-1zM39 2h1v1h-1zM39 3h1v1h-1zM39 4h1v1h-1zM39 5h1v1h-1zM39 6h1v1h-1zM39 7h1v1h-1zM39 8h1v1h-1zM38 9h2v1h-2z"/>
<path fill="#0000ef" d="M37 0h1v1h-1zM37 1h2v1h-2zM37 2h2v1h-2zM37 3h2v1h-2zM37 4h2v1h-2zM37 5h2v1h-2zM37 6h2v1h-2zM37 7h2v1h-2zM37 8h2v1h-2zM37 9h1v1h-1z"/>
<path fill="#0000ff" d="M36 0h1v1h-1zM36 1h1v1h-1zM36 2h1v1h-1zM36 3h1v1h-1zM36 4h1v1h-1zM36 5h1v1h-1zM36 6h1v1h-1zM36 7h1v1h-1zM36 8h1v1h-1zM36 9h1v1h-1z"/>
<path fill="#0010ff" d="M35 0h1v1h-1zM35 1h1v1h-1zM35 2h1v1h-1zM35 3h1v1h-1zM35 4h1v1h-1zM35 5h1v1h-1zM35 6h1v1h-1zM35 7h1v1h-1zM35 8h1v1h-1zM35 9h1v1h-1z"/>
<path fill="#0020ff" d="M33 0h2v1h-2zM34 1h1v1h-1zM34 2h1v1h-1zM34 3h1v1h-1zM34 4h1v1h-1zM34 5h1v1h-1zM34 6h1v1h-1zM34 7h1v1h-1zM34 8h1v1h-1zM33 9h2v1h-2z"/>
<path fill="#0030ff" d="M32 0h1v1h-1zM33 1h1v1h-1zM33 2h1v1h-1zM33 3h1v1h-1zM33 4h1v1h-1zM33 5h1v1h-1zM33 6h1v1h-1zM33 7h1v1h-1zM33 8h1v1h-1zM32 9h1v1h-1z"/>
<path fill="#0040ff" d="M32 1h1v1h-1zM32 2h1v1h-1zM32 3h1v1h-1zM32 4h1v1h-1zM32 5h1v1h-1zM32 6h1v1h-1zM32 7h1v1h-1zM32 8h1v1h-1z"/>
<path fill="#0050ff" d="M31 0h1v1h-1zM31 1h1v1h-1zM31 2h1v1h-1zM31 3h1v1h-1zM31 4h1v1h-1zM31 5h1v1h-1zM31 6h1v1h-1zM31 7h1v1h-1zM31 8h1v1h-1zM31 9h1v1h-1z"/>
<path fill="#0070ff" d="M30 0h1v1h-1zM30 1h1v1h-1zM30 2h1v1h-1zM30 3h1v1h-1zM30 4h1v1h-1zM30 5h1v1h-1zM30 6h1v1h-1zM30 7h1v1h-1zM30 8h1v1h-1zM30 9h1v1h-1z"/>
<path fill="#0080ff" d="M29 0h1v1h-1zM29 1h1v1h-1zM29 2h1v1h-1zM29 3h1v1h-1zM29 4h1v1h-1zM29 5h1v1h-1zM29 6h1v1h-1zM29 7h1v1h-1zM29 8h1v1h-1zM29 9h1v1h-1z"/>
<path fill="#008fff" d="M28 0h1v1h-1zM28 9h1v1h-1z"/>
<path fill="#009fff" d="M28 1h1v1h-1zM28 2h1v1h-1zM28 3h1v1h-1zM28 4h1v1h-1zM28 5h1v1h-1zM28 6h1v1h-1zM28 7h1v1h-1zM28 8h1v1h-1z"/>
<path fill="#00afff" d="M27 0h1v1h-1zM27 1h1v1h-1zM27 2h1v1h-1zM27 3h1v1h-1zM27 4h1v1h-1zM27 5h1v1h-1zM27 6h1v1h-1zM27 7h1v1h-1zM27 8h1v1h-1zM27 9h1v1h-1z"/>
<path fill="#00bfff" d="M26 0h1v1h-1zM26 9h1v1h-1z"/>
<path fill="#00cfff" d="M26 1h1v1h-1zM26 2h1v1h-1zM26 3h1v1h-1zM26 4h1v1h-1zM26 5h1v1h-1zM26 6h1v1h-1zM26 7h1v1h-1zM26 8h1v1h-1z"/>
<path fill="#00dfff" d="M25 0h1v1h-1zM25 1h1v1h-1zM25 2h1v1h-1zM25 3h1v1h-1zM25 4h1v1h-1zM25 5h1v1h-1zM25 6h1v1h-1zM25 7h1v1h-1zM25 8h1v1h-1zM25 9h1v1h-1z"/>
<path fill="#00ffff" d="M24 0h1v1h-1zM24 1h1v1h-1zM24 2h1v1h-1zM24 3h1v1h-1zM24 4h1v1h-1zM24 5h1v1h-1zM24 6h1v1h-1zM24 7h1v1h-1zM24 8h1v1h-1zM24 9h1v1h-1z"/>
<path fill="#10ffef" d="M23 0h1v1h-1zM23 9h1v1h-1z"/>
<path fill="#20ffdf" d="M23 1h1v1h-1zM23 2h1v1h-1zM23 3h1v1h-1zM23 4h1v1h-1zM23 5h1v1h-1zM23 6h1v1h-1zM23 7h1v1h-1zM23 8h1v1h-1z"/>
<path fill="#30ffcf" d="M22 0h1v1h-1zM22 1h1v1h-1zM22 2h1v1h-1zM22 3h1v1h-1zM22 4h1v1h-1zM22 5h1v1h-1zM22 6h1v1h-1zM22 7h1v1h-1zM22 8h1v1h-1zM22 9h1v1h-1z"/>
<path fill="#40ffbf" d="M21 0h1v1h-1zM21 9h1v1h-1z"/>
<path fill="#50ffaf" d="M21 1h1v1h-1zM21 2h1v1h-1zM21 3h1v1h-1zM21 4h1v1h-1zM21 5h1v1h-1zM21 6h1v1h-1zM21 7h1v1h-1zM21 8h1v1h-1z"/>
<path fill="#60ff9f" d="M20 0h1v1h-1zM20 1h1v1h-1zM20 2h1v1h-1zM20 3h1v1h-1zM20 4h1v1h-1zM20 5h1v1h-1zM20 6h1v1h-1zM20 7h1v1h-1zM20 8h1v1h-1zM20 9h1v1h-1z"/>
<path fill="#80ff80" d="M19 0h1v1h-1zM19 1h1v1h-1zM19 2h1v1h-1zM19 3h1v1h-1zM19 4h1v1h-1zM19 5h1v1h-1zM19 6h1v1h-1zM19 7h1v1h-1zM19 8h1v1h-1zM19 9h1v1h-1z"/>
<path fill="#9fff60" d="M18 0h1v1h-1zM18 1h1v1h-1zM18 2h1v1h-1zM18 3h1v1h-1zM18 4h1v1h-1zM18 5h1v1h-1zM18 6h1v1h-1zM18 7h1v1h-1zM18 8h1v1h-1zM18 9h1v1h-1z"/>
<path fill="#bfff40" d="M17 0h1v1h-1zM17 1h1v1h-1zM17 2h1v1h-1zM17 3h1v1h-1zM17 4h1v1h-1zM17 5h1v1h-1zM17 6h1v1h-1zM17 7h1v1h-1zM17 8h1v1h-1zM17 9h1v1h-1z"/>
<path fill="#efff10" d="M16 0h1v1h-1zM16 1h1v1h-1zM16 2h1v1h-1zM16 3h1v1h-1zM16 4h1v1h-1zM16 5h1v1h-1zM16 6h1v1h-1zM16 7h1v1h-1zM16 8h1v1h-1zM16 9h1v1h-1z"/>
<path fill="#ffff00" d="M15 0h1v1h-1zM15 1h1v1h-1zM15 2h1v1h-1zM15 3h1v1h-1zM15 4h1v1h-1zM15 5h1v1h-1zM15 6h1v1h-1zM15 7h1v1h-1zM15 8h1v1h-1zM15 9h1v1h-1z"/>
<path fill="#ffdf00" d="M14 0h1v1h-1zM14 1h1v1h-1zM14 2h1v1h-1zM14 3h1v1h-1zM14 4h1v1h-1zM14 5h1v1h-1zM14 6h1v1h-1zM14 7h1v1h-1zM14 8h1v1h-1zM14 9h1v1h-1z"/>
<path fill="#ffcf00" d="M13 0h1v1h-1zM13 1h1v1h-1zM13 2h1v1h-1zM13 3h1v1h-1zM13 4h1v1h-1zM13 5h1v1h-1zM13 6h1v1h-1zM13 7h1v1h-1zM13 8h1v1h-1zM13 9h1v1h-1z"/>
<path fill="#ffaf00" d="M12 2h1v1h-1zM12 3h1v1h-1zM12 4h1v1h-1zM12 5h1v1h-1zM12 6h1v1h-1zM12 7h1v1h-1z"/>
<path fill="#ff9f00" d="M12 0h1v1h-1zM12 1h1v1h-1zM12 8h1v1h-1zM12 9h1v1h-1z"/>
<path fill="#ff8000" d="M11 0h1v1h-1zM11 1h1v1h-1zM11 2h1v1h-1zM11 3h1v1h-1zM11 4h1v1h-1zM11 5h1v1h-1zM11 6h1v1h-1zM11 7h1v1h-1zM11 8h1v1h-1zM11 9h1v1h-1z"/>
<path fill="#ff6000" d="M10 1h1v1h-1zM10 2h1v1h-1zM10 3h1v1h-1zM10 4h1v1h-1zM10 5h1v1h-1zM10 6h1v1h-1zM10 7h1v1h-1zM10 8h1v1h-1z"/>
<path fill="#ff5000" d="M10 0h1v1h-1zM10 9h1v1h-1z"/>
<path fill="#ff4000" d="M9 2h1v1h-1zM9 3h1v1h-1zM9 4h1v1h-1zM9 5h1v1h-1zM9 6h1v1h-1zM9 7h1v1h-1z"/>
<path fill="#ff3000" d="M9 0h1v1h-1zM9 1h1v1h-1zM9 8h1v1h-1zM9 9h1v1h-1z"/>
<path fill="#ff2000" d="M8 1h1v1h-1zM8 2h1v1h-1zM8 3h1v1h-1zM8 4h1v1h-1zM8 5h1v1h-1zM8 6h1v1h-1zM8 7h1v1h-1zM8 8h1v1h-1z"/>
<path fill="#ff1000" d="M8 0h1v1h-1zM7 3h1v1h-1zM7 4h1v1h-1zM7 5h1v1h-1zM7 6h1v1h-1zM8 9h1v1h-1z"/>
<path fill="#ff0000" d="M7 0h1v1h-1zM7 1h1v1h-1zM7 2h1v1h-1zM7 7h1v1h-1zM7 8h1v1h-1zM7 9h1v1h-1z"/>
<path fill="#ef0000" d="M6 1h1v1h-1zM6 2h1v1h-1zM6 3h1v1h-1zM6 4h1v1h-1zM6 5h1v1h-1zM6 6h1v1h-1zM6 7h1v1h-1zM6 8h1v1h-1z"/>
<path fill="#df0000" d="M6 0h1v1h-1zM5 1h1v1h-1zM5 2h1v1h-1zM5 3h1v1h-1zM5 4h1v1h-1zM5 5h1v1h-1zM5 6h1v1h-1zM5 7h1v1h-1zM5 8h1v1h-1zM6 9h1v1h-1z"/>
<path fill="#cf0000" d="M5 0h1v1h-1zM4 1h1v1h-1zM4 2h1v1h-1zM4 3h1v1h-1zM4 4h1v1h-1zM4 5h1v1h-1zM4 6h1v1h-1zM4 7h1v1h-1zM4 8h1v1h-1zM5 9h1v1h-1z"/>
<path fill="#bf0000" d="M4 0h1v1h-1zM3 1h1v1h-1zM3 2h1v1h-1zM3 3h1v1h-1zM3 4h1v1h-1zM3 5h1v1h-1zM3 6h1v1h-1zM3 7h1v1h-1zM3 8h1v1h-1zM4 9h1v1h-1z"/>
<path fill="#af0000" d="M3 0h1v1h-1zM2 1h1v1h-1zM2 2h1v1h-1zM2 3h1v1h-1zM2 4h1v1h-1zM2 5h1v1h-1zM2 6h1v1h-1zM2 7h1v1h-1zM2 8h1v1h-1zM3 9h1v1h-1z"/>
<path fill="#9f0000" d="M2 0h1v1h-1zM1 1h1v1h-1zM1 2h1v1h-1zM1 3h1v1h-1zM1 4h1v1h-1zM1 5h1v1h-1zM1 6h1v1h-1zM1 7h1v1h-1zM1 8h1v1h-1zM2 9h1v1h-1z"/>
<path fill="#8f0000" d="M1 0h1v1h-1zM0 2h1v1h-1zM0 3h1v1h-1zM0 4h1v1h-1zM0 5h1v1h-1zM0 6h1v1h-1zM0 7h1v1h-1zM1 9h1v1h-1z"/>
<path fill="#800000" d="M0 0h1v1h-1zM0 1h1v1h-1zM0 8h1v1h-1zM0 9h1v1h-1z"/>
</g>
<rect x="726.90" y="65.35" width="423.60" height="313.70" fill="none" stroke="#1e1e1e" stroke-width="1.6"/>
<path d="M817.95 379.05v-5M817.95 65.35v5M969.70 379.05v-5M969.70 65.35v5M1121.45 379.05v-5M1121.45 65.35v5M726.90 314.88h5M1150.50 314.88h-5M726.90 243.59h5M1150.50 243.59h-5M726.90 172.29h5M1150.50 172.29h-5M726.90 101.00h5M1150.50 101.00h-5" stroke="#1e1e1e" stroke-width="1.6" fill="none"/>
<text x="100.77 118.29" y="110.05" font-size="31.50" font-family='"Liberation Sans", sans-serif'>00</text>
<path transform="translate(83.26 110.05) scale(31.500)" d="M0.342 0L0.342 -0.703L0.273 -0.703C0.258 -0.632 0.200 -0.582 0.094 -0.575L0.094 -0.506L0.257 -0.506L0.257 0Z"/>
<text x="100.77 118.29" y="181.34" font-size="31.50" font-family='"Liberation Sans", sans-serif'>80</text>
<text x="100.77 118.29" y="252.64" font-size="31.50" font-family='"Liberation Sans", sans-serif'>60</text>
<text x="100.77 118.29" y="323.93" font-size="31.50" font-family='"Liberation Sans", sans-serif'>40</text>
<g transform="translate(29.5 223.00) rotate(-90) scale(1 1.0)">
<text x="0.00" y="0.00" font-size="36.20" text-anchor="middle" font-weight="bold" font-style="normal" font-family='"Liberation Sans", sans-serif' >Coupled</text>
</g>
<g transform="translate(68.6 222.20) rotate(-90)">
<text y="0" font-size="31.50" font-family='"Liberation Sans", sans-serif'><tspan x="-47.56">y</tspan><tspan x="-22.10">(</tspan><tspan x="10.86">m</tspan><tspan x="40.50">)</tspan></text>
<g transform="translate(-9.80 0.00)" fill="none" stroke="#000" stroke-linecap="round">
<path d="M6.3 -13.2L1.0 6.0M15.5 -13.2L12.4 -1.6" stroke-width="2.3"/>
<path d="M4.3 -2.2C4.9 0.8 9.9 1.2 12.4 -1.8M12.4 -1.8C12.8 1.2 16.2 0.6 17.9 -4.1" stroke-width="1.1"/>
</g>
</g>
<g shape-rendering="crispEdges">
<rect x="590.50" y="373.26" width="40.80" height="5.24" fill="#00008f"/>
<rect x="590.50" y="368.32" width="40.80" height="5.24" fill="#00009f"/>
<rect x="590.50" y="363.38" width="40.80" height="5.24" fill="#0000af"/>
<rect x="590.50" y="358.44" width="40.80" height="5.24" fill="#0000bf"/>
<rect x="590.50" y="353.50" width="40.80" height="5.24" fill="#0000cf"/>
<rect x="590.50" y="348.57" width="40.80" height="5.24" fill="#0000df"/>
<rect x="590.50" y="343.63" width="40.80" height="5.24" fill="#0000ef"/>
<rect x="590.50" y="338.69" width="40.80" height="5.24" fill="#0000ff"/>
<rect x="590.50" y="333.75" width="40.80" height="5.24" fill="#0010ff"/>
<rect x="590.50" y="328.81" width="40.80" height="5.24" fill="#0020ff"/>
<rect x="590.50" y="323.87" width="40.80" height="5.24" fill="#0030ff"/>
<rect x="590.50" y="318.93" width="40.80" height="5.24" fill="#0040ff"/>
<rect x="590.50" y="313.99" width="40.80" height="5.24" fill="#0050ff"/>
<rect x="590.50" y="309.05" width="40.80" height="5.24" fill="#0060ff"/>
<rect x="590.50" y="304.11" width="40.80" height="5.24" fill="#0070ff"/>
<rect x="590.50" y="299.18" width="40.80" height="5.24" fill="#0080ff"/>
<rect x="590.50" y="294.24" width="40.80" height="5.24" fill="#008fff"/>
<rect x="590.50" y="289.30" width="40.80" height="5.24" fill="#009fff"/>
<rect x="590.50" y="284.36" width="40.80" height="5.24" fill="#00afff"/>
<rect x="590.50" y="279.42" width="40.80" height="5.24" fill="#00bfff"/>
<rect x="590.50" y="274.48" width="40.80" height="5.24" fill="#00cfff"/>
<rect x="590.50" y="269.54" width="40.80" height="5.24" fill="#00dfff"/>
<rect x="590.50" y="264.60" width="40.80" height="5.24" fill="#00efff"/>
<rect x="590.50" y="259.66" width="40.80" height="5.24" fill="#00ffff"/>
<rect x="590.50" y="254.72" width="40.80" height="5.24" fill="#10ffef"/>
<rect x="590.50" y="249.78" width="40.80" height="5.24" fill="#20ffdf"/>
<rect x="590.50" y="244.85" width="40.80" height="5.24" fill="#30ffcf"/>
<rect x="590.50" y="239.91" width="40.80" height="5.24" fill="#40ffbf"/>
<rect x="590.50" y="234.97" width="40.80" height="5.24" fill="#50ffaf"/>
<rect x="590.50" y="230.03" width="40.80" height="5.24" fill="#60ff9f"/>
<rect x="590.50" y="225.09" width="40.80" height="5.24" fill="#70ff8f"/>
<rect x="590.50" y="220.15" width="40.80" height="5.24" fill="#80ff80"/>
<rect x="590.50" y="215.21" width="40.80" height="5.24" fill="#8fff70"/>
<rect x="590.50" y="210.27" width="40.80" height="5.24" fill="#9fff60"/>
<rect x="590.50" y="205.33" width="40.80" height="5.24" fill="#afff50"/>
<rect x="590.50" y="200.39" width="40.80" height="5.24" fill="#bfff40"/>
<rect x="590.50" y="195.45" width="40.80" height="5.24" fill="#cfff30"/>
<rect x="590.50" y="190.52" width="40.80" height="5.24" fill="#dfff20"/>
<rect x="590.50" y="185.58" width="40.80" height="5.24" fill="#efff10"/>
<rect x="590.50" y="180.64" width="40.80" height="5.24" fill="#ffff00"/>
<rect x="590.50" y="175.70" width="40.80" height="5.24" fill="#ffef00"/>
<rect x="590.50" y="170.76" width="40.80" height="5.24" fill="#ffdf00"/>
<rect x="590.50" y="165.82" width="40.80" height="5.24" fill="#ffcf00"/>
<rect x="590.50" y="160.88" width="40.80" height="5.24" fill="#ffbf00"/>
<rect x="590.50" y="155.94" width="40.80" height="5.24" fill="#ffaf00"/>
<rect x="590.50" y="151.00" width="40.80" height="5.24" fill="#ff9f00"/>
<rect x="590.50" y="146.06" width="40.80" height="5.24" fill="#ff8f00"/>
<rect x="590.50" y="141.12" width="40.80" height="5.24" fill="#ff8000"/>
<rect x="590.50" y="136.19" width="40.80" height="5.24" fill="#ff7000"/>
<rect x="590.50" y="131.25" width="40.80" height="5.24" fill="#ff6000"/>
<rect x="590.50" y="126.31" width="40.80" height="5.24" fill="#ff5000"/>
<rect x="590.50" y="121.37" width="40.80" height="5.24" fill="#ff4000"/>
<rect x="590.50" y="116.43" width="40.80" height="5.24" fill="#ff3000"/>
<rect x="590.50" y="111.49" width="40.80" height="5.24" fill="#ff2000"/>
<rect x="590.50" y="106.55" width="40.80" height="5.24" fill="#ff1000"/>
<rect x="590.50" y="101.61" width="40.80" height="5.24" fill="#ff0000"/>
<rect x="590.50" y="96.67" width="40.80" height="5.24" fill="#ef0000"/>
<rect x="590.50" y="91.73" width="40.80" height="5.24" fill="#df0000"/>
<rect x="590.50" y="86.80" width="40.80" height="5.24" fill="#cf0000"/>
<rect x="590.50" y="81.86" width="40.80" height="5.24" fill="#bf0000"/>
<rect x="590.50" y="76.92" width="40.80" height="5.24" fill="#af0000"/>
<rect x="590.50" y="71.98" width="40.80" height="5.24" fill="#9f0000"/>
<rect x="590.50" y="67.04" width="40.80" height="5.24" fill="#8f0000"/>
<rect x="590.50" y="62.10" width="40.80" height="4.94" fill="#800000"/>
</g>
<rect x="590.50" y="62.10" width="40.80" height="316.10" fill="none" stroke="#1e1e1e" stroke-width="1.5"/>
<g shape-rendering="crispEdges">
<rect x="1171.10" y="373.75" width="40.70" height="5.25" fill="#00008f"/>
<rect x="1171.10" y="368.80" width="40.70" height="5.25" fill="#00009f"/>
<rect x="1171.10" y="363.85" width="40.70" height="5.25" fill="#0000af"/>
<rect x="1171.10" y="358.90" width="40.70" height="5.25" fill="#0000bf"/>
<rect x="1171.10" y="353.95" width="40.70" height="5.25" fill="#0000cf"/>
<rect x="1171.10" y="349.00" width="40.70" height="5.25" fill="#0000df"/>
<rect x="1171.10" y="344.05" width="40.70" height="5.25" fill="#0000ef"/>
<rect x="1171.10" y="339.10" width="40.70" height="5.25" fill="#0000ff"/>
<rect x="1171.10" y="334.15" width="40.70" height="5.25" fill="#0010ff"/>
<rect x="1171.10" y="329.20" width="40.70" height="5.25" fill="#0020ff"/>
<rect x="1171.10" y="324.25" width="40.70" height="5.25" fill="#0030ff"/>
<rect x="1171.10" y="319.30" width="40.70" height="5.25" fill="#0040ff"/>
<rect x="1171.10" y="314.35" width="40.70" height="5.25" fill="#0050ff"/>
<rect x="1171.10" y="309.40" width="40.70" height="5.25" fill="#0060ff"/>
<rect x="1171.10" y="304.45" width="40.70" height="5.25" fill="#0070ff"/>
<rect x="1171.10" y="299.50" width="40.70" height="5.25" fill="#0080ff"/>
<rect x="1171.10" y="294.55" width="40.70" height="5.25" fill="#008fff"/>
<rect x="1171.10" y="289.60" width="40.70" height="5.25" fill="#009fff"/>
<rect x="1171.10" y="284.65" width="40.70" height="5.25" fill="#00afff"/>
<rect x="1171.10" y="279.70" width="40.70" height="5.25" fill="#00bfff"/>
<rect x="1171.10" y="274.75" width="40.70" height="5.25" fill="#00cfff"/>
<rect x="1171.10" y="269.80" width="40.70" height="5.25" fill="#00dfff"/>
<rect x="1171.10" y="264.85" width="40.70" height="5.25" fill="#00efff"/>
<rect x="1171.10" y="259.90" width="40.70" height="5.25" fill="#00ffff"/>
<rect x="1171.10" y="254.95" width="40.70" height="5.25" fill="#10ffef"/>
<rect x="1171.10" y="250.00" width="40.70" height="5.25" fill="#20ffdf"/>
<rect x="1171.10" y="245.05" width="40.70" height="5.25" fill="#30ffcf"/>
<rect x="1171.10" y="240.10" width="40.70" height="5.25" fill="#40ffbf"/>
<rect x="1171.10" y="235.15" width="40.70" height="5.25" fill="#50ffaf"/>
<rect x="1171.10" y="230.20" width="40.70" height="5.25" fill="#60ff9f"/>
<rect x="1171.10" y="225.25" width="40.70" height="5.25" fill="#70ff8f"/>
<rect x="1171.10" y="220.30" width="40.70" height="5.25" fill="#80ff80"/>
<rect x="1171.10" y="215.35" width="40.70" height="5.25" fill="#8fff70"/>
<rect x="1171.10" y="210.40" width="40.70" height="5.25" fill="#9fff60"/>
<rect x="1171.10" y="205.45" width="40.70" height="5.25" fill="#afff50"/>
<rect x="1171.10" y="200.50" width="40.70" height="5.25" fill="#bfff40"/>
<rect x="1171.10" y="195.55" width="40.70" height="5.25" fill="#cfff30"/>
<rect x="1171.10" y="190.60" width="40.70" height="5.25" fill="#dfff20"/>
<rect x="1171.10" y="185.65" width="40.70" height="5.25" fill="#efff10"/>
<rect x="1171.10" y="180.70" width="40.70" height="5.25" fill="#ffff00"/>
<rect x="1171.10" y="175.75" width="40.70" height="5.25" fill="#ffef00"/>
<rect x="1171.10" y="170.80" width="40.70" height="5.25" fill="#ffdf00"/>
<rect x="1171.10" y="165.85" width="40.70" height="5.25" fill="#ffcf00"/>
<rect x="1171.10" y="160.90" width="40.70" height="5.25" fill="#ffbf00"/>
<rect x="1171.10" y="155.95" width="40.70" height="5.25" fill="#ffaf00"/>
<rect x="1171.10" y="151.00" width="40.70" height="5.25" fill="#ff9f00"/>
<rect x="1171.10" y="146.05" width="40.70" height="5.25" fill="#ff8f00"/>
<rect x="1171.10" y="141.10" width="40.70" height="5.25" fill="#ff8000"/>
<rect x="1171.10" y="136.15" width="40.70" height="5.25" fill="#ff7000"/>
<rect x="1171.10" y="131.20" width="40.70" height="5.25" fill="#ff6000"/>
<rect x="1171.10" y="126.25" width="40.70" height="5.25" fill="#ff5000"/>
<rect x="1171.10" y="121.30" width="40.70" height="5.25" fill="#ff4000"/>
<rect x="1171.10" y="116.35" width="40.70" height="5.25" fill="#ff3000"/>
<rect x="1171.10" y="111.40" width="40.70" height="5.25" fill="#ff2000"/>
<rect x="1171.10" y="106.45" width="40.70" height="5.25" fill="#ff1000"/>
<rect x="1171.10" y="101.50" width="40.70" height="5.25" fill="#ff0000"/>
<rect x="1171.10" y="96.55" width="40.70" height="5.25" fill="#ef0000"/>
<rect x="1171.10" y="91.60" width="40.70" height="5.25" fill="#df0000"/>
<rect x="1171.10" y="86.65" width="40.70" height="5.25" fill="#cf0000"/>
<rect x="1171.10" y="81.70" width="40.70" height="5.25" fill="#bf0000"/>
<rect x="1171.10" y="76.75" width="40.70" height="5.25" fill="#af0000"/>
<rect x="1171.10" y="71.80" width="40.70" height="5.25" fill="#9f0000"/>
<rect x="1171.10" y="66.85" width="40.70" height="5.25" fill="#8f0000"/>
<rect x="1171.10" y="61.90" width="40.70" height="4.95" fill="#800000"/>
</g>
<rect x="1171.10" y="61.90" width="40.70" height="316.80" fill="none" stroke="#1e1e1e" stroke-width="1.5"/>
<g transform="translate(146.400 500.350) scale(6.07000 7.12955)" shape-rendering="crispEdges">
<path fill="#00008f" d="M10 20h1v1h-1zM10 21h1v1h-1zM10 22h1v1h-1zM10 23h1v1h-1z"/>
<path fill="#00009f" d="M10 19h1v1h-1zM10 24h1v1h-1z"/>
<path fill="#0000af" d="M12 17h1v1h-1zM12 26h1v1h-1z"/>
<path fill="#0000bf" d="M11 17h1v1h-1zM13 17h1v1h-1zM10 18h1v1h-1zM10 25h1v1h-1zM11 26h1v1h-1zM13 26h1v1h-1z"/>
<path fill="#0000cf" d="M14 17h1v1h-1zM9 20h1v1h-1zM9 21h1v1h-1zM9 22h1v1h-1zM9 23h1v1h-1zM14 26h1v1h-1z"/>
<path fill="#0000df" d="M15 17h1v1h-1zM9 19h1v1h-1zM9 24h1v1h-1zM15 26h1v1h-1z"/>
<path fill="#0000ef" d="M10 17h1v1h-1zM10 26h1v1h-1z"/>
<path fill="#0000ff" d="M11 16h3v1h-3zM16 17h1v1h-1zM9 18h1v1h-1zM8 21h1v1h-1zM8 22h1v1h-1zM9 25h1v1h-1zM16 26h1v1h-1zM11 27h3v1h-3z"/>
<path fill="#0010ff" d="M14 16h1v1h-1zM8 20h1v1h-1zM8 23h1v1h-1zM14 27h1v1h-1z"/>
<path fill="#0020ff" d="M10 16h1v1h-1zM15 16h1v1h-1zM9 17h1v1h-1zM17 17h1v1h-1zM8 19h1v1h-1zM8 24h1v1h-1zM9 26h1v1h-1zM17 26h1v1h-1zM10 27h1v1h-1zM15 27h1v1h-1z"/>
<path fill="#0030ff" d="M8 18h1v1h-1zM7 21h1v1h-1zM7 22h1v1h-1zM8 25h1v1h-1z"/>
<path fill="#0040ff" d="M11 15h4v1h-4zM9 16h1v1h-1zM16 16h1v1h-1zM8 17h1v1h-1zM7 19h1v1h-1zM7 20h1v1h-1zM7 23h1v1h-1zM7 24h1v1h-1zM8 26h1v1h-1zM9 27h1v1h-1zM16 27h1v1h-1zM11 28h4v1h-4z"/>
<path fill="#0050ff" d="M10 15h1v1h-1zM10 28h1v1h-1z"/>
<path fill="#0060ff" d="M15 15h1v1h-1zM8 16h1v1h-1zM17 16h1v1h-1zM18 17h1v1h-1zM7 18h1v1h-1zM6 21h1v1h-1zM6 22h1v1h-1zM7 25h1v1h-1zM18 26h1v1h-1zM8 27h1v1h-1zM17 27h1v1h-1zM15 28h1v1h-1z"/>
<path fill="#0070ff" d="M11 14h3v1h-3zM9 15h1v1h-1zM16 15h1v1h-1zM7 17h1v1h-1zM6 19h1v1h-1zM6 20h1v1h-1zM6 23h1v1h-1zM6 24h1v1h-1zM7 26h1v1h-1zM9 28h1v1h-1zM16 28h1v1h-1zM11 29h3v1h-3z"/>
<path fill="#0080ff" d="M10 14h1v1h-1zM14 14h1v1h-1zM8 15h1v1h-1zM7 16h1v1h-1zM6 18h1v1h-1zM6 25h1v1h-1zM7 27h1v1h-1zM8 28h1v1h-1zM10 29h1v1h-1zM14 29h1v1h-1z"/>
<path fill="#008fff" d="M9 14h1v1h-1zM15 14h1v1h-1zM17 15h1v1h-1zM18 16h1v1h-1zM6 17h1v1h-1zM5 20h1v1h-1zM5 21h1v1h-1zM5 22h1v1h-1zM5 23h1v1h-1zM6 26h1v1h-1zM18 27h1v1h-1zM17 28h1v1h-1zM9 29h1v1h-1zM15 29h1v1h-1z"/>
<path fill="#009fff" d="M10 13h5v1h-5zM8 14h1v1h-1zM16 14h1v1h-1zM7 15h1v1h-1zM6 16h1v1h-1zM19 17h1v1h-1zM5 18h1v1h-1zM5 19h1v1h-1zM5 24h1v1h-1zM5 25h1v1h-1zM19 26h1v1h-1zM6 27h1v1h-1zM7 28h1v1h-1zM8 29h1v1h-1zM16 29h1v1h-1zM10 30h5v1h-5z"/>
<path fill="#00afff" d="M9 13h1v1h-1zM15 13h1v1h-1zM5 17h1v1h-1zM4 20h1v1h-1zM4 21h1v1h-1zM4 22h1v1h-1zM4 23h1v1h-1zM5 26h1v1h-1zM9 30h1v1h-1zM15 30h1v1h-1z"/>
<path fill="#00bfff" d="M10 12h4v1h-4zM8 13h1v1h-1zM16 13h1v1h-1zM7 14h1v1h-1zM17 14h1v1h-1zM6 15h1v1h-1zM18 15h1v1h-1zM5 16h1v1h-1zM4 18h1v1h-1zM4 19h1v1h-1zM4 24h1v1h-1zM4 25h1v1h-1zM5 27h1v1h-1zM6 28h1v1h-1zM18 28h1v1h-1zM7 29h1v1h-1zM17 29h1v1h-1zM8 30h1v1h-1zM16 30h1v1h-1zM10 31h4v1h-4z"/>
<path fill="#00cfff" d="M9 12h1v1h-1zM14 12h2v1h-2zM7 13h1v1h-1zM6 14h1v1h-1zM5 15h1v1h-1zM19 16h1v1h-1zM4 17h1v1h-1zM3 20h1v1h-1zM3 21h1v1h-1zM3 22h1v1h-1zM3 23h1v1h-1zM4 26h1v1h-1zM19 27h1v1h-1zM5 28h1v1h-1zM6 29h1v1h-1zM7 30h1v1h-1zM9 31h1v1h-1zM14 31h2v1h-2z"/>
<path fill="#00dfff" d="M10 11h4v1h-4zM8 12h1v1h-1zM6 13h1v1h-1zM17 13h1v1h-1zM5 14h1v1h-1zM18 14h1v1h-1zM4 16h1v1h-1zM3 18h1v1h-1zM3 19h1v1h-1zM3 24h1v1h-1zM3 25h1v1h-1zM4 27h1v1h-1zM5 29h1v1h-1zM18 29h1v1h-1zM6 30h1v1h-1zM17 30h1v1h-1zM8 31h1v1h-1zM10 32h4v1h-4z"/>
<path fill="#00efff" d="M8 11h2v1h-2zM14 11h2v1h-2zM7 12h1v1h-1zM16 12h1v1h-1zM4 15h1v1h-1zM19 15h1v1h-1zM3 16h1v1h-1zM3 17h1v1h-1zM2 20h1v1h-1zM2 21h1v1h-1zM2 22h1v1h-1zM2 23h1v1h-1zM3 26h1v1h-1zM3 27h1v1h-1zM4 28h1v1h-1zM19 28h1v1h-1zM7 31h1v1h-1zM16 31h1v1h-1zM8 32h2v1h-2zM14 32h2v1h-2z"/>
<path fill="#00ffff" d="M9 10h5v1h-5zM7 11h1v1h-1zM16 11h1v1h-1zM6 12h1v1h-1zM17 12h1v1h-1zM5 13h1v1h-1zM18 13h1v1h-1zM4 14h1v1h-1zM19 14h1v1h-1zM3 15h1v1h-1zM2 17h1v1h-1zM20 17h1v1h-1zM2 18h1v1h-1zM2 19h1v1h-1zM2 24h1v1h-1zM2 25h1v1h-1zM2 26h1v1h-1zM20 26h1v1h-1zM3 28h1v1h-1zM4 29h1v1h-1zM19 29h1v1h-1zM5 30h1v1h-1zM18 30h1v1h-1zM6 31h1v1h-1zM17 31h1v1h-1zM7 32h1v1h-1zM16 32h1v1h-1zM9 33h5v1h-5z"/>
<path fill="#10ffef" d="M8 10h1v1h-1zM14 10h2v1h-2zM6 11h1v1h-1zM5 12h1v1h-1zM18 12h1v1h-1zM4 13h1v1h-1zM3 14h1v1h-1zM2 16h1v1h-1zM20 16h1v1h-1zM1 19h1v1h-1zM1 20h1v1h-1zM1 21h1v1h-1zM1 22h1v1h-1zM1 23h1v1h-1zM1 24h1v1h-1zM2 27h1v1h-1zM20 27h1v1h-1zM3 29h1v1h-1zM4 30h1v1h-1zM5 31h1v1h-1zM18 31h1v1h-1zM6 32h1v1h-1zM8 33h1v1h-1zM14 33h2v1h-2z"/>
<path fill="#20ffdf" d="M8 9h7v1h-7zM6 10h2v1h-2zM16 10h1v1h-1zM5 11h1v1h-1zM17 11h1v1h-1zM4 12h1v1h-1zM3 13h1v1h-1zM19 13h1v1h-1zM2 14h1v1h-1zM2 15h1v1h-1zM20 15h1v1h-1zM1 17h1v1h-1zM1 18h1v1h-1zM1 25h1v1h-1zM1 26h1v1h-1zM2 28h1v1h-1zM20 28h1v1h-1zM2 29h1v1h-1zM3 30h1v1h-1zM19 30h1v1h-1zM4 31h1v1h-1zM5 32h1v1h-1zM17 32h1v1h-1zM6 33h2v1h-2zM16 33h1v1h-1zM8 34h7v1h-7z"/>
<path fill="#30ffcf" d="M9 8h5v1h-5zM6 9h2v1h-2zM15 9h1v1h-1zM5 10h1v1h-1zM17 10h1v1h-1zM4 11h1v1h-1zM18 11h1v1h-1zM3 12h1v1h-1zM19 12h1v1h-1zM2 13h1v1h-1zM20 14h1v1h-1zM1 15h1v1h-1zM1 16h1v1h-1zM0 17h1v1h-1zM0 18h1v1h-1zM0 19h1v1h-1zM0 20h1v1h-1zM0 21h1v1h-1zM0 22h1v1h-1zM0 23h1v1h-1zM0 24h1v1h-1zM0 25h1v1h-1zM0 26h1v1h-1zM1 27h1v1h-1zM1 28h1v1h-1zM20 29h1v1h-1zM2 30h1v1h-1zM3 31h1v1h-1zM19 31h1v1h-1zM4 32h1v1h-1zM18 32h1v1h-1zM5 33h1v1h-1zM17 33h1v1h-1zM6 34h2v1h-2zM15 34h1v1h-1zM9 35h5v1h-5z"/>
<path fill="#40ffbf" d="M10 7h3v1h-3zM6 8h3v1h-3zM14 8h2v1h-2zM5 9h1v1h-1zM16 9h2v1h-2zM4 10h1v1h-1zM18 10h1v1h-1zM3 11h1v1h-1zM19 11h1v1h-1zM2 12h1v1h-1zM1 13h1v1h-1zM20 13h1v1h-1zM1 14h1v1h-1zM0 15h1v1h-1zM0 16h1v1h-1zM21 17h1v1h-1zM21 26h1v1h-1zM0 27h1v1h-1zM0 28h1v1h-1zM1 29h1v1h-1zM1 30h1v1h-1zM20 30h1v1h-1zM2 31h1v1h-1zM3 32h1v1h-1zM19 32h1v1h-1zM4 33h1v1h-1zM18 33h1v1h-1zM5 34h1v1h-1zM16 34h2v1h-2zM6 35h3v1h-3zM14 35h2v1h-2zM10 36h3v1h-3z"/>
<path fill="#50ffaf" d="M7 7h3v1h-3zM13 7h3v1h-3zM5 8h1v1h-1zM16 8h1v1h-1zM4 9h1v1h-1zM18 9h1v1h-1zM3 10h1v1h-1zM2 11h1v1h-1zM1 12h1v1h-1zM20 12h1v1h-1zM0 14h1v1h-1zM21 15h1v1h-1zM21 16h1v1h-1zM21 27h1v1h-1zM21 28h1v1h-1zM0 29h1v1h-1zM1 31h1v1h-1zM20 31h1v1h-1zM2 32h1v1h-1zM3 33h1v1h-1zM4 34h1v1h-1zM18 34h1v1h-1zM5 35h1v1h-1zM16 35h1v1h-1zM7 36h3v1h-3zM13 36h3v1h-3z"/>
<path fill="#60ff9f" d="M6 6h9v1h-9zM5 7h2v1h-2zM16 7h1v1h-1zM3 8h2v1h-2zM17 8h1v1h-1zM2 9h2v1h-2zM1 10h2v1h-2zM19 10h1v1h-1zM1 11h1v1h-1zM20 11h1v1h-1zM0 12h1v1h-1zM0 13h1v1h-1zM21 13h1v1h-1zM21 14h1v1h-1zM21 29h1v1h-1zM0 30h1v1h-1zM21 30h1v1h-1zM0 31h1v1h-1zM1 32h1v1h-1zM20 32h1v1h-1zM1 33h2v1h-2zM19 33h1v1h-1zM2 34h2v1h-2zM3 35h2v1h-2zM17 35h1v1h-1zM5 36h2v1h-2zM16 36h1v1h-1zM6 37h9v1h-9z"/>
<path fill="#70ff8f" d="M6 5h9v1h-9zM4 6h2v1h-2zM15 6h2v1h-2zM3 7h2v1h-2zM17 7h2v1h-2zM2 8h1v1h-1zM18 8h1v1h-1zM1 9h1v1h-1zM19 9h1v1h-1zM0 10h1v1h-1zM20 10h1v1h-1zM0 11h1v1h-1zM21 12h1v1h-1zM21 31h1v1h-1zM0 32h1v1h-1zM0 33h1v1h-1zM20 33h1v1h-1zM1 34h1v1h-1zM19 34h1v1h-1zM2 35h1v1h-1zM18 35h1v1h-1zM3 36h2v1h-2zM17 36h2v1h-2zM4 37h2v1h-2zM15 37h2v1h-2zM6 38h9v1h-9z"/>
<path fill="#80ff80" d="M10 3h2v1h-2zM6 4h10v1h-10zM4 5h2v1h-2zM15 5h2v1h-2zM2 6h2v1h-2zM17 6h2v1h-2zM1 7h2v1h-2zM19 7h1v1h-1zM0 8h2v1h-2zM19 8h1v1h-1zM0 9h1v1h-1zM20 9h1v1h-1zM21 10h1v1h-1zM21 11h1v1h-1zM22 14h1v1h-1zM22 15h1v1h-1zM22 16h1v1h-1zM22 27h1v1h-1zM22 28h1v1h-1zM22 29h1v1h-1zM21 32h1v1h-1zM21 33h1v1h-1zM0 34h1v1h-1zM20 34h1v1h-1zM0 35h2v1h-2zM19 35h1v1h-1zM1 36h2v1h-2zM19 36h1v1h-1zM2 37h2v1h-2zM17 37h2v1h-2zM4 38h2v1h-2zM15 38h2v1h-2zM6 39h10v1h-10zM10 40h2v1h-2z"/>
<path fill="#8fff70" d="M8 2h5v1h-5zM5 3h5v1h-5zM12 3h4v1h-4zM3 4h3v1h-3zM16 4h2v1h-2zM2 5h2v1h-2zM17 5h2v1h-2zM1 6h1v1h-1zM19 6h1v1h-1zM0 7h1v1h-1zM20 7h1v1h-1zM20 8h1v1h-1zM21 9h1v1h-1zM22 11h1v1h-1zM22 12h1v1h-1zM22 13h1v1h-1zM22 17h1v1h-1zM22 26h1v1h-1zM22 30h1v1h-1zM22 31h1v1h-1zM22 32h1v1h-1zM21 34h1v1h-1zM20 35h1v1h-1zM0 36h1v1h-1zM20 36h1v1h-1zM1 37h1v1h-1zM19 37h1v1h-1zM2 38h2v1h-2zM17 38h2v1h-2zM3 39h3v1h-3zM16 39h2v1h-2zM5 40h5v1h-5zM12 40h4v1h-4zM8 41h5v1h-5z"/>
<path fill="#9fff60" d="M6 1h8v1h-8zM4 2h4v1h-4zM13 2h4v1h-4zM2 3h3v1h-3zM16 3h2v1h-2zM1 4h2v1h-2zM18 4h1v1h-1zM0 5h2v1h-2zM19 5h1v1h-1zM0 6h1v1h-1zM20 6h1v1h-1zM21 7h1v1h-1zM21 8h1v1h-1zM22 9h1v1h-1zM22 10h1v1h-1zM22 33h1v1h-1zM22 34h1v1h-1zM21 35h1v1h-1zM21 36h1v1h-1zM0 37h1v1h-1zM20 37h1v1h-1zM0 38h2v1h-2zM19 38h1v1h-1zM1 39h2v1h-2zM18 39h1v1h-1zM2 40h3v1h-3zM16 40h2v1h-2zM4 41h4v1h-4zM13 41h4v1h-4zM6 42h8v1h-8z"/>
<path fill="#afff50" d="M5 0h11v1h-11zM2 1h4v1h-4zM14 1h4v1h-4zM1 2h3v1h-3zM17 2h2v1h-2zM0 3h2v1h-2zM18 3h2v1h-2zM0 4h1v1h-1zM19 4h2v1h-2zM20 5h2v1h-2zM21 6h1v1h-1zM22 7h1v1h-1zM22 8h1v1h-1zM23 11h1v1h-1zM23 12h1v1h-1zM23 13h1v1h-1zM23 14h1v1h-1zM23 15h1v1h-1zM23 16h1v1h-1zM23 27h1v1h-1zM23 28h1v1h-1zM23 29h1v1h-1zM23 30h1v1h-1zM23 31h1v1h-1zM23 32h1v1h-1zM22 35h1v1h-1zM22 36h1v1h-1zM21 37h1v1h-1zM20 38h2v1h-2zM0 39h1v1h-1zM19 39h2v1h-2zM0 40h2v1h-2zM18 40h2v1h-2zM1 41h3v1h-3zM17 41h2v1h-2zM2 42h4v1h-4zM14 42h4v1h-4zM5 43h11v1h-11z"/>
<path fill="#bfff40" d="M1 0h4v1h-4zM16 0h3v1h-3zM0 1h2v1h-2zM18 1h2v1h-2zM0 2h1v1h-1zM19 2h2v1h-2zM20 3h2v1h-2zM21 4h1v1h-1zM22 5h1v1h-1zM22 6h1v1h-1zM23 8h1v1h-1zM23 9h1v1h-1zM23 10h1v1h-1zM23 17h1v1h-1zM23 26h1v1h-1zM23 33h1v1h-1zM23 34h1v1h-1zM23 35h1v1h-1zM22 37h1v1h-1zM22 38h1v1h-1zM21 39h1v1h-1zM20 40h2v1h-2zM0 41h1v1h-1zM19 41h2v1h-2zM0 42h2v1h-2zM18 42h2v1h-2zM1 43h4v1h-4zM16 43h3v1h-3z"/>
<path fill="#cfff30" d="M0 0h1v1h-1zM19 0h2v1h-2zM20 1h2v1h-2zM21 2h2v1h-2zM22 3h1v1h-1zM22 4h2v1h-2zM23 5h1v1h-1zM23 6h1v1h-1zM23 7h1v1h-1zM24 8h1v1h-1zM24 9h1v1h-1zM24 10h1v1h-1zM24 11h1v1h-1zM24 12h1v1h-1zM24 13h1v1h-1zM24 14h1v1h-1zM24 15h1v1h-1zM24 28h1v1h-1zM24 29h1v1h-1zM24 30h1v1h-1zM24 31h1v1h-1zM24 32h1v1h-1zM24 33h1v1h-1zM24 34h1v1h-1zM24 35h1v1h-1zM23 36h1v1h-1zM23 37h1v1h-1zM23 38h1v1h-1zM22 39h2v1h-2zM22 40h1v1h-1zM21 41h2v1h-2zM20 42h2v1h-2zM0 43h1v1h-1zM19 43h2v1h-2z"/>
<path fill="#dfff20" d="M21 0h2v1h-2zM22 1h2v1h-2zM23 2h1v1h-1zM23 3h2v1h-2zM24 4h1v1h-1zM24 5h1v1h-1zM24 6h1v1h-1zM24 7h1v1h-1zM25 10h1v1h-1zM25 11h1v1h-1zM24 16h1v1h-1zM24 27h1v1h-1zM25 32h1v1h-1zM25 33h1v1h-1zM24 36h1v1h-1zM24 37h1v1h-1zM24 38h1v1h-1zM24 39h1v1h-1zM23 40h2v1h-2zM23 41h1v1h-1zM22 42h2v1h-2zM21 43h2v1h-2z"/>
<path fill="#efff10" d="M23 0h2v1h-2zM24 1h2v1h-2zM24 2h2v1h-2zM25 3h1v1h-1zM25 4h1v1h-1zM25 5h1v1h-1zM25 6h1v1h-1zM25 7h1v1h-1zM25 8h1v1h-1zM25 9h1v1h-1zM25 12h1v1h-1zM25 13h1v1h-1zM25 14h1v1h-1zM25 15h1v1h-1zM24 17h1v1h-1zM24 26h1v1h-1zM25 28h1v1h-1zM25 29h1v1h-1zM25 30h1v1h-1zM25 31h1v1h-1zM25 34h1v1h-1zM25 35h1v1h-1zM25 36h1v1h-1zM25 37h1v1h-1zM25 38h1v1h-1zM25 39h1v1h-1zM25 40h1v1h-1zM24 41h2v1h-2zM24 42h2v1h-2zM23 43h2v1h-2z"/>
<path fill="#ffff00" d="M25 0h2v1h-2zM26 1h1v1h-1zM26 2h1v1h-1zM26 3h1v1h-1zM26 4h1v1h-1zM26 5h1v1h-1zM26 6h1v1h-1zM26 7h1v1h-1zM26 8h1v1h-1zM26 9h1v1h-1zM26 10h1v1h-1zM26 11h1v1h-1zM26 12h1v1h-1zM26 13h1v1h-1zM25 16h1v1h-1zM25 27h1v1h-1zM26 30h1v1h-1zM26 31h1v1h-1zM26 32h1v1h-1zM26 33h1v1h-1zM26 34h1v1h-1zM26 35h1v1h-1zM26 36h1v1h-1zM26 37h1v1h-1zM26 38h1v1h-1zM26 39h1v1h-1zM26 40h1v1h-1zM26 41h1v1h-1zM26 42h1v1h-1zM25 43h2v1h-2z"/>
<path fill="#ffef00" d="M27 0h3v1h-3zM27 1h2v1h-2zM27 2h2v1h-2zM27 3h2v1h-2zM27 4h2v1h-2zM27 5h2v1h-2zM27 6h1v1h-1zM27 7h1v1h-1zM27 8h1v1h-1zM27 9h1v1h-1zM27 10h1v1h-1zM27 11h1v1h-1zM26 14h1v1h-1zM26 15h1v1h-1zM25 17h1v1h-1zM25 26h1v1h-1zM26 28h1v1h-1zM26 29h1v1h-1zM27 32h1v1h-1zM27 33h1v1h-1zM27 34h1v1h-1zM27 35h1v1h-1zM27 36h1v1h-1zM27 37h1v1h-1zM27 38h2v1h-2zM27 39h2v1h-2zM27 40h2v1h-2zM27 41h2v1h-2zM27 42h2v1h-2zM27 43h3v1h-3z"/>
<path fill="#ffdf00" d="M30 0h2v1h-2zM29 1h2v1h-2zM29 2h2v1h-2zM29 3h1v1h-1zM29 4h1v1h-1zM29 5h1v1h-1zM28 6h1v1h-1zM28 7h1v1h-1zM28 8h1v1h-1zM28 9h1v1h-1zM27 12h1v1h-1zM27 13h1v1h-1zM26 16h1v1h-1zM26 27h1v1h-1zM27 30h1v1h-1zM27 31h1v1h-1zM28 34h1v1h-1zM28 35h1v1h-1zM28 36h1v1h-1zM28 37h1v1h-1zM29 38h1v1h-1zM29 39h1v1h-1zM29 40h1v1h-1zM29 41h2v1h-2zM29 42h2v1h-2zM30 43h2v1h-2z"/>
<path fill="#ffcf00" d="M32 0h2v1h-2zM69 0h1v1h-1zM31 1h2v1h-2zM31 2h1v1h-1zM30 3h2v1h-2zM30 4h1v1h-1zM30 5h1v1h-1zM29 6h2v1h-2zM29 7h1v1h-1zM29 8h1v1h-1zM29 9h1v1h-1zM28 10h1v1h-1zM28 11h1v1h-1zM28 12h1v1h-1zM27 14h1v1h-1zM27 15h1v1h-1zM26 17h1v1h-1zM26 26h1v1h-1zM27 28h1v1h-1zM27 29h1v1h-1zM28 31h1v1h-1zM28 32h1v1h-1zM28 33h1v1h-1zM29 34h1v1h-1zM29 35h1v1h-1zM29 36h1v1h-1zM29 37h2v1h-2zM30 38h1v1h-1zM30 39h1v1h-1zM30 40h2v1h-2zM31 41h1v1h-1zM31 42h2v1h-2zM32 43h2v1h-2zM69 43h1v1h-1z"/>
<path fill="#ffbf00" d="M34 0h3v1h-3zM66 0h3v1h-3zM33 1h2v1h-2zM67 1h3v1h-3zM32 2h2v1h-2zM68 2h2v1h-2zM32 3h2v1h-2zM69 3h1v1h-1zM31 4h2v1h-2zM31 5h1v1h-1zM31 6h1v1h-1zM30 7h1v1h-1zM30 8h1v1h-1zM29 10h1v1h-1zM29 11h1v1h-1zM28 13h1v1h-1zM28 14h1v1h-1zM27 16h1v1h-1zM27 17h1v1h-1zM27 26h1v1h-1zM27 27h1v1h-1zM28 29h1v1h-1zM28 30h1v1h-1zM29 32h1v1h-1zM29 33h1v1h-1zM30 35h1v1h-1zM30 36h1v1h-1zM31 37h1v1h-1zM31 38h1v1h-1zM31 39h2v1h-2zM32 40h2v1h-2zM69 40h1v1h-1zM32 41h2v1h-2zM68 41h2v1h-2zM33 42h2v1h-2zM67 42h3v1h-3zM34 43h3v1h-3zM66 43h3v1h-3z"/>
<path fill="#ffaf00" d="M37 0h3v1h-3zM61 0h5v1h-5zM35 1h3v1h-3zM63 1h4v1h-4zM34 2h3v1h-3zM65 2h3v1h-3zM34 3h2v1h-2zM66 3h3v1h-3zM33 4h2v1h-2zM67 4h3v1h-3zM32 5h2v1h-2zM68 5h2v1h-2zM32 6h1v1h-1zM69 6h1v1h-1zM31 7h1v1h-1zM31 8h1v1h-1zM30 9h1v1h-1zM30 10h1v1h-1zM29 12h1v1h-1zM29 13h1v1h-1zM28 15h1v1h-1zM28 28h1v1h-1zM29 30h1v1h-1zM29 31h1v1h-1zM30 33h1v1h-1zM30 34h1v1h-1zM31 35h1v1h-1zM31 36h1v1h-1zM32 37h1v1h-1zM69 37h1v1h-1zM32 38h2v1h-2zM68 38h2v1h-2zM33 39h2v1h-2zM67 39h3v1h-3zM34 40h2v1h-2zM66 40h3v1h-3zM34 41h3v1h-3zM65 41h3v1h-3zM35 42h3v1h-3zM63 42h4v1h-4zM37 43h3v1h-3zM61 43h5v1h-5z"/>
<path fill="#ff9f00" d="M40 0h5v1h-5zM54 0h7v1h-7zM38 1h4v1h-4zM59 1h4v1h-4zM37 2h2v1h-2zM61 2h4v1h-4zM36 3h2v1h-2zM63 3h3v1h-3zM35 4h1v1h-1zM65 4h2v1h-2zM34 5h1v1h-1zM66 5h2v1h-2zM33 6h1v1h-1zM67 6h2v1h-2zM32 7h2v1h-2zM68 7h2v1h-2zM32 8h1v1h-1zM69 8h1v1h-1zM31 9h1v1h-1zM69 9h1v1h-1zM31 10h1v1h-1zM30 11h1v1h-1zM30 12h1v1h-1zM29 14h1v1h-1zM28 16h1v1h-1zM28 17h1v1h-1zM28 26h1v1h-1zM28 27h1v1h-1zM29 29h1v1h-1zM30 31h1v1h-1zM30 32h1v1h-1zM31 33h1v1h-1zM31 34h1v1h-1zM69 34h1v1h-1zM32 35h1v1h-1zM69 35h1v1h-1zM32 36h2v1h-2zM68 36h2v1h-2zM33 37h1v1h-1zM67 37h2v1h-2zM34 38h1v1h-1zM66 38h2v1h-2zM35 39h1v1h-1zM65 39h2v1h-2zM36 40h2v1h-2zM63 40h3v1h-3zM37 41h2v1h-2zM61 41h4v1h-4zM38 42h4v1h-4zM59 42h4v1h-4zM40 43h5v1h-5zM54 43h7v1h-7z"/>
<path fill="#ff8f00" d="M45 0h9v1h-9zM42 1h17v1h-17zM39 2h4v1h-4zM57 2h4v1h-4zM38 3h2v1h-2zM60 3h3v1h-3zM36 4h3v1h-3zM62 4h3v1h-3zM35 5h2v1h-2zM63 5h3v1h-3zM34 6h2v1h-2zM65 6h2v1h-2zM34 7h1v1h-1zM66 7h2v1h-2zM33 8h1v1h-1zM67 8h2v1h-2zM32 9h1v1h-1zM67 9h2v1h-2zM32 10h1v1h-1zM68 10h2v1h-2zM31 11h1v1h-1zM69 11h1v1h-1zM69 12h1v1h-1zM30 13h1v1h-1zM29 15h1v1h-1zM29 16h1v1h-1zM29 27h1v1h-1zM29 28h1v1h-1zM30 30h1v1h-1zM69 31h1v1h-1zM31 32h1v1h-1zM69 32h1v1h-1zM32 33h1v1h-1zM68 33h2v1h-2zM32 34h1v1h-1zM67 34h2v1h-2zM33 35h1v1h-1zM67 35h2v1h-2zM34 36h1v1h-1zM66 36h2v1h-2zM34 37h2v1h-2zM65 37h2v1h-2zM35 38h2v1h-2zM63 38h3v1h-3zM36 39h3v1h-3zM62 39h3v1h-3zM38 40h2v1h-2zM60 40h3v1h-3zM39 41h4v1h-4zM57 41h4v1h-4zM42 42h17v1h-17zM45 43h9v1h-9z"/>
<path fill="#ff8000" d="M43 2h14v1h-14zM40 3h5v1h-5zM54 3h6v1h-6zM39 4h2v1h-2zM58 4h4v1h-4zM37 5h2v1h-2zM60 5h3v1h-3zM36 6h2v1h-2zM62 6h3v1h-3zM35 7h1v1h-1zM63 7h3v1h-3zM34 8h1v1h-1zM65 8h2v1h-2zM33 9h1v1h-1zM66 9h1v1h-1zM33 10h1v1h-1zM66 10h2v1h-2zM32 11h1v1h-1zM67 11h2v1h-2zM31 12h1v1h-1zM68 12h1v1h-1zM31 13h1v1h-1zM68 13h2v1h-2zM30 14h1v1h-1zM69 14h1v1h-1zM30 15h1v1h-1zM69 15h1v1h-1zM29 17h1v1h-1zM29 26h1v1h-1zM30 28h1v1h-1zM69 28h1v1h-1zM30 29h1v1h-1zM69 29h1v1h-1zM31 30h1v1h-1zM68 30h2v1h-2zM31 31h1v1h-1zM68 31h1v1h-1zM32 32h1v1h-1zM67 32h2v1h-2zM33 33h1v1h-1zM66 33h2v1h-2zM33 34h1v1h-1zM66 34h1v1h-1zM34 35h1v1h-1zM65 35h2v1h-2zM35 36h1v1h-1zM63 36h3v1h-3zM36 37h2v1h-2zM62 37h3v1h-3zM37 38h2v1h-2zM60 38h3v1h-3zM39 39h2v1h-2zM58 39h4v1h-4zM40 40h5v1h-5zM54 40h6v1h-6zM43 41h14v1h-14z"/>
<path fill="#ff7000" d="M45 3h9v1h-9zM41 4h6v1h-6zM52 4h6v1h-6zM39 5h3v1h-3zM57 5h3v1h-3zM38 6h2v1h-2zM59 6h3v1h-3zM36 7h2v1h-2zM61 7h2v1h-2zM35 8h2v1h-2zM63 8h2v1h-2zM34 9h2v1h-2zM64 9h2v1h-2zM34 10h1v1h-1zM65 10h1v1h-1zM33 11h1v1h-1zM66 11h1v1h-1zM32 12h1v1h-1zM66 12h2v1h-2zM67 13h1v1h-1zM31 14h1v1h-1zM68 14h1v1h-1zM68 15h1v1h-1zM30 16h1v1h-1zM68 16h2v1h-2zM69 17h1v1h-1zM69 18h1v1h-1zM69 19h1v1h-1zM69 20h1v1h-1zM69 21h1v1h-1zM69 22h1v1h-1zM69 23h1v1h-1zM69 24h1v1h-1zM69 25h1v1h-1zM69 26h1v1h-1zM30 27h1v1h-1zM68 27h2v1h-2zM68 28h1v1h-1zM31 29h1v1h-1zM68 29h1v1h-1zM67 30h1v1h-1zM32 31h1v1h-1zM66 31h2v1h-2zM33 32h1v1h-1zM66 32h1v1h-1zM34 33h1v1h-1zM65 33h1v1h-1zM34 34h2v1h-2zM64 34h2v1h-2zM35 35h2v1h-2zM63 35h2v1h-2zM36 36h2v1h-2zM61 36h2v1h-2zM38 37h2v1h-2zM59 37h3v1h-3zM39 38h3v1h-3zM57 38h3v1h-3zM41 39h6v1h-6zM52 39h6v1h-6zM45 40h9v1h-9z"/>
<path fill="#ff6000" d="M47 4h5v1h-5zM42 5h15v1h-15zM40 6h3v1h-3zM55 6h4v1h-4zM38 7h2v1h-2zM58 7h3v1h-3zM37 8h1v1h-1zM60 8h3v1h-3zM36 9h1v1h-1zM62 9h2v1h-2zM35 10h1v1h-1zM63 10h2v1h-2zM34 11h1v1h-1zM64 11h2v1h-2zM33 12h1v1h-1zM65 12h1v1h-1zM32 13h1v1h-1zM66 13h1v1h-1zM66 14h2v1h-2zM31 15h1v1h-1zM67 15h1v1h-1zM67 16h1v1h-1zM30 17h1v1h-1zM68 17h1v1h-1zM68 18h1v1h-1zM68 19h1v1h-1zM68 20h1v1h-1zM68 21h1v1h-1zM68 22h1v1h-1zM68 23h1v1h-1zM68 24h1v1h-1zM68 25h1v1h-1zM30 26h1v1h-1zM68 26h1v1h-1zM67 27h1v1h-1zM31 28h1v1h-1zM67 28h1v1h-1zM66 29h2v1h-2zM32 30h1v1h-1zM66 30h1v1h-1zM33 31h1v1h-1zM65 31h1v1h-1zM34 32h1v1h-1zM64 32h2v1h-2zM35 33h1v1h-1zM63 33h2v1h-2zM36 34h1v1h-1zM62 34h2v1h-2zM37 35h1v1h-1zM60 35h3v1h-3zM38 36h2v1h-2zM58 36h3v1h-3zM40 37h3v1h-3zM55 37h4v1h-4zM42 38h15v1h-15zM47 39h5v1h-5z"/>
<path fill="#ff5000" d="M43 6h12v1h-12zM40 7h3v1h-3zM54 7h4v1h-4zM38 8h3v1h-3zM57 8h3v1h-3zM37 9h2v1h-2zM59 9h3v1h-3zM36 10h1v1h-1zM61 10h2v1h-2zM35 11h1v1h-1zM62 11h2v1h-2zM34 12h1v1h-1zM63 12h2v1h-2zM33 13h1v1h-1zM64 13h2v1h-2zM32 14h1v1h-1zM65 14h1v1h-1zM66 15h1v1h-1zM31 16h1v1h-1zM66 16h1v1h-1zM67 17h1v1h-1zM67 18h1v1h-1zM67 19h1v1h-1zM67 20h1v1h-1zM67 21h1v1h-1zM67 22h1v1h-1zM67 23h1v1h-1zM67 24h1v1h-1zM67 25h1v1h-1zM67 26h1v1h-1zM31 27h1v1h-1zM66 27h1v1h-1zM66 28h1v1h-1zM32 29h1v1h-1zM65 29h1v1h-1zM33 30h1v1h-1zM64 30h2v1h-2zM34 31h1v1h-1zM63 31h2v1h-2zM35 32h1v1h-1zM62 32h2v1h-2zM36 33h1v1h-1zM61 33h2v1h-2zM37 34h2v1h-2zM59 34h3v1h-3zM38 35h3v1h-3zM57 35h3v1h-3zM40 36h3v1h-3zM54 36h4v1h-4zM43 37h12v1h-12z"/>
<path fill="#ff4000" d="M43 7h11v1h-11zM41 8h3v1h-3zM54 8h3v1h-3zM39 9h2v1h-2zM57 9h2v1h-2zM37 10h2v1h-2zM59 10h2v1h-2zM36 11h1v1h-1zM61 11h1v1h-1zM35 12h1v1h-1zM62 12h1v1h-1zM34 13h1v1h-1zM63 13h1v1h-1zM33 14h1v1h-1zM64 14h1v1h-1zM32 15h1v1h-1zM65 15h1v1h-1zM65 16h1v1h-1zM31 17h1v1h-1zM66 17h1v1h-1zM66 18h1v1h-1zM66 19h1v1h-1zM66 20h1v1h-1zM66 23h1v1h-1zM66 24h1v1h-1zM66 25h1v1h-1zM31 26h1v1h-1zM66 26h1v1h-1zM65 27h1v1h-1zM32 28h1v1h-1zM65 28h1v1h-1zM33 29h1v1h-1zM64 29h1v1h-1zM34 30h1v1h-1zM63 30h1v1h-1zM35 31h1v1h-1zM62 31h1v1h-1zM36 32h1v1h-1zM61 32h1v1h-1zM37 33h2v1h-2zM59 33h2v1h-2zM39 34h2v1h-2zM57 34h2v1h-2zM41 35h3v1h-3zM54 35h3v1h-3zM43 36h11v1h-11z"/>
<path fill="#ff3000" d="M44 8h10v1h-10zM41 9h3v1h-3zM53 9h4v1h-4zM39 10h2v1h-2zM56 10h3v1h-3zM37 11h2v1h-2zM58 11h3v1h-3zM36 12h1v1h-1zM60 12h2v1h-2zM35 13h1v1h-1zM61 13h2v1h-2zM34 14h1v1h-1zM63 14h1v1h-1zM33 15h1v1h-1zM64 15h1v1h-1zM32 16h1v1h-1zM64 16h1v1h-1zM65 17h1v1h-1zM65 18h1v1h-1zM66 21h1v1h-1zM66 22h1v1h-1zM65 25h1v1h-1zM65 26h1v1h-1zM32 27h1v1h-1zM64 27h1v1h-1zM33 28h1v1h-1zM64 28h1v1h-1zM34 29h1v1h-1zM63 29h1v1h-1zM35 30h1v1h-1zM61 30h2v1h-2zM36 31h1v1h-1zM60 31h2v1h-2zM37 32h2v1h-2zM58 32h3v1h-3zM39 33h2v1h-2zM56 33h3v1h-3zM41 34h3v1h-3zM53 34h4v1h-4zM44 35h10v1h-10z"/>
<path fill="#ff2000" d="M44 9h9v1h-9zM41 10h2v1h-2zM53 10h3v1h-3zM39 11h1v1h-1zM56 11h2v1h-2zM37 12h1v1h-1zM58 12h2v1h-2zM36 13h1v1h-1zM60 13h1v1h-1zM35 14h1v1h-1zM61 14h2v1h-2zM62 15h2v1h-2zM33 16h1v1h-1zM63 16h1v1h-1zM32 17h1v1h-1zM64 17h1v1h-1zM64 18h1v1h-1zM65 19h1v1h-1zM65 20h1v1h-1zM65 21h1v1h-1zM65 22h1v1h-1zM65 23h1v1h-1zM65 24h1v1h-1zM64 25h1v1h-1zM32 26h1v1h-1zM64 26h1v1h-1zM33 27h1v1h-1zM63 27h1v1h-1zM62 28h2v1h-2zM35 29h1v1h-1zM61 29h2v1h-2zM36 30h1v1h-1zM60 30h1v1h-1zM37 31h1v1h-1zM58 31h2v1h-2zM39 32h1v1h-1zM56 32h2v1h-2zM41 33h2v1h-2zM53 33h3v1h-3zM44 34h9v1h-9z"/>
<path fill="#ff1000" d="M43 10h10v1h-10zM40 11h3v1h-3zM52 11h4v1h-4zM38 12h2v1h-2zM56 12h2v1h-2zM37 13h1v1h-1zM58 13h2v1h-2zM36 14h1v1h-1zM60 14h1v1h-1zM34 15h1v1h-1zM61 15h1v1h-1zM62 16h1v1h-1zM63 17h1v1h-1zM64 19h1v1h-1zM64 20h1v1h-1zM64 21h1v1h-1zM64 22h1v1h-1zM64 23h1v1h-1zM64 24h1v1h-1zM63 26h1v1h-1zM62 27h1v1h-1zM34 28h1v1h-1zM61 28h1v1h-1zM36 29h1v1h-1zM60 29h1v1h-1zM37 30h1v1h-1zM58 30h2v1h-2zM38 31h2v1h-2zM56 31h2v1h-2zM40 32h3v1h-3zM52 32h4v1h-4zM43 33h10v1h-10z"/>
<path fill="#ff0000" d="M43 11h9v1h-9zM40 12h2v1h-2zM52 12h4v1h-4zM38 13h2v1h-2zM56 13h2v1h-2zM37 14h1v1h-1zM58 14h2v1h-2zM35 15h1v1h-1zM60 15h1v1h-1zM34 16h1v1h-1zM61 16h1v1h-1zM33 17h1v1h-1zM62 17h1v1h-1zM63 18h1v1h-1zM63 19h1v1h-1zM63 24h1v1h-1zM63 25h1v1h-1zM33 26h1v1h-1zM62 26h1v1h-1zM34 27h1v1h-1zM61 27h1v1h-1zM35 28h1v1h-1zM60 28h1v1h-1zM37 29h1v1h-1zM58 29h2v1h-2zM38 30h2v1h-2zM56 30h2v1h-2zM40 31h2v1h-2zM52 31h4v1h-4zM43 32h9v1h-9z"/>
<path fill="#ef0000" d="M42 12h10v1h-10zM40 13h2v1h-2zM52 13h4v1h-4zM38 14h1v1h-1zM56 14h2v1h-2zM36 15h1v1h-1zM58 15h2v1h-2zM35 16h1v1h-1zM60 16h1v1h-1zM61 17h1v1h-1zM62 18h1v1h-1zM63 20h1v1h-1zM63 21h1v1h-1zM63 22h1v1h-1zM63 23h1v1h-1zM62 25h1v1h-1zM61 26h1v1h-1zM35 27h1v1h-1zM60 27h1v1h-1zM36 28h1v1h-1zM58 28h2v1h-2zM38 29h1v1h-1zM56 29h2v1h-2zM40 30h2v1h-2zM52 30h4v1h-4zM42 31h10v1h-10z"/>
<path fill="#df0000" d="M42 13h4v1h-4zM47 13h5v1h-5zM39 14h2v1h-2zM53 14h3v1h-3zM37 15h1v1h-1zM56 15h2v1h-2zM58 16h2v1h-2zM34 17h1v1h-1zM59 17h2v1h-2zM62 19h1v1h-1zM62 20h1v1h-1zM62 23h1v1h-1zM62 24h1v1h-1zM34 26h1v1h-1zM59 26h2v1h-2zM58 27h2v1h-2zM37 28h1v1h-1zM56 28h2v1h-2zM39 29h2v1h-2zM53 29h3v1h-3zM42 30h4v1h-4zM47 30h5v1h-5z"/>
<path fill="#cf0000" d="M46 13h1v1h-1zM41 14h3v1h-3zM49 14h4v1h-4zM38 15h2v1h-2zM53 15h3v1h-3zM36 16h2v1h-2zM56 16h2v1h-2zM35 17h1v1h-1zM58 17h1v1h-1zM61 18h1v1h-1zM62 21h1v1h-1zM62 22h1v1h-1zM61 25h1v1h-1zM35 26h1v1h-1zM58 26h1v1h-1zM36 27h2v1h-2zM56 27h2v1h-2zM38 28h2v1h-2zM53 28h3v1h-3zM41 29h3v1h-3zM49 29h4v1h-4zM46 30h1v1h-1z"/>
<path fill="#bf0000" d="M44 14h5v1h-5zM40 15h2v1h-2zM50 15h3v1h-3zM38 16h1v1h-1zM53 16h3v1h-3zM36 17h1v1h-1zM57 17h1v1h-1zM60 18h1v1h-1zM61 19h1v1h-1zM61 20h1v1h-1zM61 23h1v1h-1zM61 24h1v1h-1zM60 25h1v1h-1zM36 26h1v1h-1zM57 26h1v1h-1zM38 27h1v1h-1zM53 27h3v1h-3zM40 28h2v1h-2zM50 28h3v1h-3zM44 29h5v1h-5z"/>
<path fill="#af0000" d="M42 15h8v1h-8zM39 16h2v1h-2zM50 16h3v1h-3zM37 17h1v1h-1zM52 17h5v1h-5zM61 21h1v1h-1zM61 22h1v1h-1zM37 26h1v1h-1zM52 26h5v1h-5zM39 27h2v1h-2zM50 27h3v1h-3zM42 28h8v1h-8z"/>
<path fill="#9f0000" d="M41 16h3v1h-3zM48 16h2v1h-2zM38 17h2v1h-2zM50 17h2v1h-2zM60 19h1v1h-1zM60 24h1v1h-1zM38 26h2v1h-2zM50 26h2v1h-2zM41 27h3v1h-3zM48 27h2v1h-2z"/>
<path fill="#8f0000" d="M44 16h4v1h-4zM40 17h2v1h-2zM49 17h1v1h-1zM60 20h1v1h-1zM60 21h1v1h-1zM60 22h1v1h-1zM60 23h1v1h-1zM40 26h2v1h-2zM49 26h1v1h-1zM44 27h4v1h-4z"/>
<path fill="#800000" d="M42 17h7v1h-7zM42 26h7v1h-7z"/>
</g>
<rect x="146.40" y="500.35" width="424.90" height="313.70" fill="none" stroke="#262626" stroke-width="1.2"/>
<g transform="translate(787.600 621.552) scale(6.07000 7.12955)" shape-rendering="crispEdges">
<path fill="#00008f" d="M46 0h5v1h-5zM46 1h5v1h-5zM46 2h5v1h-5zM46 3h5v1h-5zM47 4h4v1h-4zM47 5h4v1h-4zM46 6h5v1h-5zM46 7h5v1h-5zM46 8h5v1h-5zM46 9h5v1h-5z"/>
<path fill="#00009f" d="M45 0h1v1h-1zM45 1h1v1h-1zM45 2h1v1h-1zM45 3h1v1h-1zM45 4h2v1h-2zM45 5h2v1h-2zM45 6h1v1h-1zM45 7h1v1h-1zM45 8h1v1h-1zM45 9h1v1h-1z"/>
<path fill="#0000af" d="M43 0h2v1h-2zM43 1h2v1h-2zM44 2h1v1h-1zM44 3h1v1h-1zM44 4h1v1h-1zM44 5h1v1h-1zM44 6h1v1h-1zM44 7h1v1h-1zM43 8h2v1h-2zM43 9h2v1h-2z"/>
<path fill="#0000bf" d="M41 0h2v1h-2zM42 1h1v1h-1zM42 2h2v1h-2zM42 3h2v1h-2zM42 4h2v1h-2zM42 5h2v1h-2zM42 6h2v1h-2zM42 7h2v1h-2zM42 8h1v1h-1zM41 9h2v1h-2z"/>
<path fill="#0000cf" d="M40 0h1v1h-1zM40 1h2v1h-2zM40 2h2v1h-2zM40 3h2v1h-2zM40 4h2v1h-2zM40 5h2v1h-2zM40 6h2v1h-2zM40 7h2v1h-2zM40 8h2v1h-2zM40 9h1v1h-1z"/>
<path fill="#0000df" d="M38 0h2v1h-2zM39 1h1v1h-1zM39 2h1v1h-1zM39 3h1v1h-1zM39 4h1v1h-1zM39 5h1v1h-1zM39 6h1v1h-1zM39 7h1v1h-1zM39 8h1v1h-1zM38 9h2v1h-2z"/>
<path fill="#0000ef" d="M37 0h1v1h-1zM37 1h2v1h-2zM37 2h2v1h-2zM37 3h2v1h-2zM37 4h2v1h-2zM37 5h2v1h-2zM37 6h2v1h-2zM37 7h2v1h-2zM37 8h2v1h-2zM37 9h1v1h-1z"/>
<path fill="#0000ff" d="M36 0h1v1h-1zM36 1h1v1h-1zM36 2h1v1h-1zM36 3h1v1h-1zM36 4h1v1h-1zM36 5h1v1h-1zM36 6h1v1h-1zM36 7h1v1h-1zM36 8h1v1h-1zM36 9h1v1h-1z"/>
<path fill="#0010ff" d="M35 0h1v1h-1zM35 1h1v1h-1zM35 2h1v1h-1zM35 3h1v1h-1zM35 4h1v1h-1zM35 5h1v1h-1zM35 6h1v1h-1zM35 7h1v1h-1zM35 8h1v1h-1zM35 9h1v1h-1z"/>
<path fill="#0020ff" d="M33 0h2v1h-2zM34 1h1v1h-1zM34 2h1v1h-1zM34 3h1v1h-1zM34 4h1v1h-1zM34 5h1v1h-1zM34 6h1v1h-1zM34 7h1v1h-1zM34 8h1v1h-1zM33 9h2v1h-2z"/>
<path fill="#0030ff" d="M32 0h1v1h-1zM33 1h1v1h-1zM33 2h1v1h-1zM33 3h1v1h-1zM33 4h1v1h-1zM33 5h1v1h-1zM33 6h1v1h-1zM33 7h1v1h-1zM33 8h1v1h-1zM32 9h1v1h-1z"/>
<path fill="#0040ff" d="M32 1h1v1h-1zM32 2h1v1h-1zM32 3h1v1h-1zM32 4h1v1h-1zM32 5h1v1h-1zM32 6h1v1h-1zM32 7h1v1h-1zM32 8h1v1h-1z"/>
<path fill="#0050ff" d="M31 0h1v1h-1zM31 1h1v1h-1zM31 2h1v1h-1zM31 3h1v1h-1zM31 4h1v1h-1zM31 5h1v1h-1zM31 6h1v1h-1zM31 7h1v1h-1zM31 8h1v1h-1zM31 9h1v1h-1z"/>
<path fill="#0070ff" d="M30 0h1v1h-1zM30 1h1v1h-1zM30 2h1v1h-1zM30 3h1v1h-1zM30 4h1v1h-1zM30 5h1v1h-1zM30 6h1v1h-1zM30 7h1v1h-1zM30 8h1v1h-1zM30 9h1v1h-1z"/>
<path fill="#0080ff" d="M29 0h1v1h-1zM29 1h1v1h-1zM29 2h1v1h-1zM29 3h1v1h-1zM29 4h1v1h-1zM29 5h1v1h-1zM29 6h1v1h-1zM29 7h1v1h-1zM29 8h1v1h-1zM29 9h1v1h-1z"/>
<path fill="#008fff" d="M28 0h1v1h-1zM28 9h1v1h-1z"/>
<path fill="#009fff" d="M28 1h1v1h-1zM28 2h1v1h-1zM28 3h1v1h-1zM28 4h1v1h-1zM28 5h1v1h-1zM28 6h1v1h-1zM28 7h1v1h-1zM28 8h1v1h-1z"/>
<path fill="#00afff" d="M27 0h1v1h-1zM27 1h1v1h-1zM27 2h1v1h-1zM27 3h1v1h-1zM27 4h1v1h-1zM27 5h1v1h-1zM27 6h1v1h-1zM27 7h1v1h-1zM27 8h1v1h-1zM27 9h1v1h-1z"/>
<path fill="#00bfff" d="M26 0h1v1h-1zM26 9h1v1h-1z"/>
<path fill="#00cfff" d="M26 1h1v1h-1zM26 2h1v1h-1zM26 3h1v1h-1zM26 4h1v1h-1zM26 5h1v1h-1zM26 6h1v1h-1zM26 7h1v1h-1zM26 8h1v1h-1z"/>
<path fill="#00dfff" d="M25 0h1v1h-1zM25 1h1v1h-1zM25 2h1v1h-1zM25 3h1v1h-1zM25 4h1v1h-1zM25 5h1v1h-1zM25 6h1v1h-1zM25 7h1v1h-1zM25 8h1v1h-1zM25 9h1v1h-1z"/>
<path fill="#00ffff" d="M24 0h1v1h-1zM24 1h1v1h-1zM24 2h1v1h-1zM24 3h1v1h-1zM24 4h1v1h-1zM24 5h1v1h-1zM24 6h1v1h-1zM24 7h1v1h-1zM24 8h1v1h-1zM24 9h1v1h-1z"/>
<path fill="#10ffef" d="M23 0h1v1h-1zM23 9h1v1h-1z"/>
<path fill="#20ffdf" d="M23 1h1v1h-1zM23 2h1v1h-1zM23 3h1v1h-1zM23 4h1v1h-1zM23 5h1v1h-1zM23 6h1v1h-1zM23 7h1v1h-1zM23 8h1v1h-1z"/>
<path fill="#30ffcf" d="M22 0h1v1h-1zM22 1h1v1h-1zM22 2h1v1h-1zM22 3h1v1h-1zM22 4h1v1h-1zM22 5h1v1h-1zM22 6h1v1h-1zM22 7h1v1h-1zM22 8h1v1h-1zM22 9h1v1h-1z"/>
<path fill="#40ffbf" d="M21 0h1v1h-1zM21 9h1v1h-1z"/>
<path fill="#50ffaf" d="M21 1h1v1h-1zM21 2h1v1h-1zM21 3h1v1h-1zM21 4h1v1h-1zM21 5h1v1h-1zM21 6h1v1h-1zM21 7h1v1h-1zM21 8h1v1h-1z"/>
<path fill="#60ff9f" d="M20 0h1v1h-1zM20 1h1v1h-1zM20 2h1v1h-1zM20 3h1v1h-1zM20 4h1v1h-1zM20 5h1v1h-1zM20 6h1v1h-1zM20 7h1v1h-1zM20 8h1v1h-1zM20 9h1v1h-1z"/>
<path fill="#80ff80" d="M19 0h1v1h-1zM19 1h1v1h-1zM19 2h1v1h-1zM19 3h1v1h-1zM19 4h1v1h-1zM19 5h1v1h-1zM19 6h1v1h-1zM19 7h1v1h-1zM19 8h1v1h-1zM19 9h1v1h-1z"/>
<path fill="#9fff60" d="M18 0h1v1h-1zM18 1h1v1h-1zM18 2h1v1h-1zM18 3h1v1h-1zM18 4h1v1h-1zM18 5h1v1h-1zM18 6h1v1h-1zM18 7h1v1h-1zM18 8h1v1h-1zM18 9h1v1h-1z"/>
<path fill="#bfff40" d="M17 0h1v1h-1zM17 1h1v1h-1zM17 2h1v1h-1zM17 3h1v1h-1zM17 4h1v1h-1zM17 5h1v1h-1zM17 6h1v1h-1zM17 7h1v1h-1zM17 8h1v1h-1zM17 9h1v1h-1z"/>
<path fill="#efff10" d="M16 0h1v1h-1zM16 1h1v1h-1zM16 2h1v1h-1zM16 3h1v1h-1zM16 4h1v1h-1zM16 5h1v1h-1zM16 6h1v1h-1zM16 7h1v1h-1zM16 8h1v1h-1zM16 9h1v1h-1z"/>
<path fill="#ffff00" d="M15 0h1v1h-1zM15 1h1v1h-1zM15 2h1v1h-1zM15 3h1v1h-1zM15 4h1v1h-1zM15 5h1v1h-1zM15 6h1v1h-1zM15 7h1v1h-1zM15 8h1v1h-1zM15 9h1v1h-1z"/>
<path fill="#ffdf00" d="M14 0h1v1h-1zM14 1h1v1h-1zM14 2h1v1h-1zM14 3h1v1h-1zM14 4h1v1h-1zM14 5h1v1h-1zM14 6h1v1h-1zM14 7h1v1h-1zM14 8h1v1h-1zM14 9h1v1h-1z"/>
<path fill="#ffcf00" d="M13 0h1v1h-1zM13 1h1v1h-1zM13 2h1v1h-1zM13 3h1v1h-1zM13 4h1v1h-1zM13 5h1v1h-1zM13 6h1v1h-1zM13 7h1v1h-1zM13 8h1v1h-1zM13 9h1v1h-1z"/>
<path fill="#ffaf00" d="M12 2h1v1h-1zM12 3h1v1h-1zM12 4h1v1h-1zM12 5h1v1h-1zM12 6h1v1h-1zM12 7h1v1h-1z"/>
<path fill="#ff9f00" d="M12 0h1v1h-1zM12 1h1v1h-1zM12 8h1v1h-1zM12 9h1v1h-1z"/>
<path fill="#ff8000" d="M11 0h1v1h-1zM11 1h1v1h-1zM11 2h1v1h-1zM11 3h1v1h-1zM11 4h1v1h-1zM11 5h1v1h-1zM11 6h1v1h-1zM11 7h1v1h-1zM11 8h1v1h-1zM11 9h1v1h-1z"/>
<path fill="#ff6000" d="M10 1h1v1h-1zM10 2h1v1h-1zM10 3h1v1h-1zM10 4h1v1h-1zM10 5h1v1h-1zM10 6h1v1h-1zM10 7h1v1h-1zM10 8h1v1h-1z"/>
<path fill="#ff5000" d="M10 0h1v1h-1zM10 9h1v1h-1z"/>
<path fill="#ff4000" d="M9 2h1v1h-1zM9 3h1v1h-1zM9 4h1v1h-1zM9 5h1v1h-1zM9 6h1v1h-1zM9 7h1v1h-1z"/>
<path fill="#ff3000" d="M9 0h1v1h-1zM9 1h1v1h-1zM9 8h1v1h-1zM9 9h1v1h-1z"/>
<path fill="#ff2000" d="M8 1h1v1h-1zM8 2h1v1h-1zM8 3h1v1h-1zM8 4h1v1h-1zM8 5h1v1h-1zM8 6h1v1h-1zM8 7h1v1h-1zM8 8h1v1h-1z"/>
<path fill="#ff1000" d="M8 0h1v1h-1zM7 3h1v1h-1zM7 4h1v1h-1zM7 5h1v1h-1zM7 6h1v1h-1zM8 9h1v1h-1z"/>
<path fill="#ff0000" d="M7 0h1v1h-1zM7 1h1v1h-1zM7 2h1v1h-1zM7 7h1v1h-1zM7 8h1v1h-1zM7 9h1v1h-1z"/>
<path fill="#ef0000" d="M6 1h1v1h-1zM6 2h1v1h-1zM6 3h1v1h-1zM6 4h1v1h-1zM6 5h1v1h-1zM6 6h1v1h-1zM6 7h1v1h-1zM6 8h1v1h-1z"/>
<path fill="#df0000" d="M6 0h1v1h-1zM5 1h1v1h-1zM5 2h1v1h-1zM5 3h1v1h-1zM5 4h1v1h-1zM5 5h1v1h-1zM5 6h1v1h-1zM5 7h1v1h-1zM5 8h1v1h-1zM6 9h1v1h-1z"/>
<path fill="#cf0000" d="M5 0h1v1h-1zM4 1h1v1h-1zM4 2h1v1h-1zM4 3h1v1h-1zM4 4h1v1h-1zM4 5h1v1h-1zM4 6h1v1h-1zM4 7h1v1h-1zM4 8h1v1h-1zM5 9h1v1h-1z"/>
<path fill="#bf0000" d="M4 0h1v1h-1zM3 1h1v1h-1zM3 2h1v1h-1zM3 3h1v1h-1zM3 4h1v1h-1zM3 5h1v1h-1zM3 6h1v1h-1zM3 7h1v1h-1zM3 8h1v1h-1zM4 9h1v1h-1z"/>
<path fill="#af0000" d="M3 0h1v1h-1zM2 1h1v1h-1zM2 2h1v1h-1zM2 3h1v1h-1zM2 4h1v1h-1zM2 5h1v1h-1zM2 6h1v1h-1zM2 7h1v1h-1zM2 8h1v1h-1zM3 9h1v1h-1z"/>
<path fill="#9f0000" d="M2 0h1v1h-1zM1 1h1v1h-1zM1 2h1v1h-1zM1 3h1v1h-1zM1 4h1v1h-1zM1 5h1v1h-1zM1 6h1v1h-1zM1 7h1v1h-1zM1 8h1v1h-1zM2 9h1v1h-1z"/>
<path fill="#8f0000" d="M1 0h1v1h-1zM0 2h1v1h-1zM0 3h1v1h-1zM0 4h1v1h-1zM0 5h1v1h-1zM0 6h1v1h-1zM0 7h1v1h-1zM1 9h1v1h-1z"/>
<path fill="#800000" d="M0 0h1v1h-1zM0 1h1v1h-1zM0 8h1v1h-1zM0 9h1v1h-1z"/>
</g>
<rect x="726.90" y="500.35" width="423.60" height="313.70" fill="none" stroke="#1e1e1e" stroke-width="1.6"/>
<path d="M817.95 814.05v-5M817.95 500.35v5M969.70 814.05v-5M969.70 500.35v5M1121.45 814.05v-5M1121.45 500.35v5M726.90 749.88h5M1150.50 749.88h-5M726.90 678.59h5M1150.50 678.59h-5M726.90 607.29h5M1150.50 607.29h-5M726.90 536.00h5M1150.50 536.00h-5" stroke="#1e1e1e" stroke-width="1.6" fill="none"/>
<text x="100.77 118.29" y="545.05" font-size="31.50" font-family='"Liberation Sans", sans-serif'>00</text>
<path transform="translate(83.26 545.05) scale(31.500)" d="M0.342 0L0.342 -0.703L0.273 -0.703C0.258 -0.632 0.200 -0.582 0.094 -0.575L0.094 -0.506L0.257 -0.506L0.257 0Z"/>
<text x="100.77 118.29" y="616.34" font-size="31.50" font-family='"Liberation Sans", sans-serif'>80</text>
<text x="100.77 118.29" y="687.64" font-size="31.50" font-family='"Liberation Sans", sans-serif'>60</text>
<text x="100.77 118.29" y="758.93" font-size="31.50" font-family='"Liberation Sans", sans-serif'>40</text>
<g transform="translate(29.5 658.00) rotate(-90) scale(1 1.0)">
<text x="0.00" y="0.00" font-size="36.20" text-anchor="middle" font-weight="bold" font-style="normal" font-family='"Liberation Sans", sans-serif' >Splitting</text>
</g>
<g transform="translate(68.6 657.20) rotate(-90)">
<text y="0" font-size="31.50" font-family='"Liberation Sans", sans-serif'><tspan x="-47.56">y</tspan><tspan x="-22.10">(</tspan><tspan x="10.86">m</tspan><tspan x="40.50">)</tspan></text>
<g transform="translate(-9.80 0.00)" fill="none" stroke="#000" stroke-linecap="round">
<path d="M6.3 -13.2L1.0 6.0M15.5 -13.2L12.4 -1.6" stroke-width="2.3"/>
<path d="M4.3 -2.2C4.9 0.8 9.9 1.2 12.4 -1.8M12.4 -1.8C12.8 1.2 16.2 0.6 17.9 -4.1" stroke-width="1.1"/>
</g>
</g>
<g shape-rendering="crispEdges">
<rect x="590.50" y="808.48" width="40.80" height="5.22" fill="#00008f"/>
<rect x="590.50" y="803.56" width="40.80" height="5.22" fill="#00009f"/>
<rect x="590.50" y="798.64" width="40.80" height="5.22" fill="#0000af"/>
<rect x="590.50" y="793.73" width="40.80" height="5.22" fill="#0000bf"/>
<rect x="590.50" y="788.81" width="40.80" height="5.22" fill="#0000cf"/>
<rect x="590.50" y="783.89" width="40.80" height="5.22" fill="#0000df"/>
<rect x="590.50" y="778.97" width="40.80" height="5.22" fill="#0000ef"/>
<rect x="590.50" y="774.05" width="40.80" height="5.22" fill="#0000ff"/>
<rect x="590.50" y="769.13" width="40.80" height="5.22" fill="#0010ff"/>
<rect x="590.50" y="764.21" width="40.80" height="5.22" fill="#0020ff"/>
<rect x="590.50" y="759.29" width="40.80" height="5.22" fill="#0030ff"/>
<rect x="590.50" y="754.38" width="40.80" height="5.22" fill="#0040ff"/>
<rect x="590.50" y="749.46" width="40.80" height="5.22" fill="#0050ff"/>
<rect x="590.50" y="744.54" width="40.80" height="5.22" fill="#0060ff"/>
<rect x="590.50" y="739.62" width="40.80" height="5.22" fill="#0070ff"/>
<rect x="590.50" y="734.70" width="40.80" height="5.22" fill="#0080ff"/>
<rect x="590.50" y="729.78" width="40.80" height="5.22" fill="#008fff"/>
<rect x="590.50" y="724.86" width="40.80" height="5.22" fill="#009fff"/>
<rect x="590.50" y="719.94" width="40.80" height="5.22" fill="#00afff"/>
<rect x="590.50" y="715.02" width="40.80" height="5.22" fill="#00bfff"/>
<rect x="590.50" y="710.11" width="40.80" height="5.22" fill="#00cfff"/>
<rect x="590.50" y="705.19" width="40.80" height="5.22" fill="#00dfff"/>
<rect x="590.50" y="700.27" width="40.80" height="5.22" fill="#00efff"/>
<rect x="590.50" y="695.35" width="40.80" height="5.22" fill="#00ffff"/>
<rect x="590.50" y="690.43" width="40.80" height="5.22" fill="#10ffef"/>
<rect x="590.50" y="685.51" width="40.80" height="5.22" fill="#20ffdf"/>
<rect x="590.50" y="680.59" width="40.80" height="5.22" fill="#30ffcf"/>
<rect x="590.50" y="675.67" width="40.80" height="5.22" fill="#40ffbf"/>
<rect x="590.50" y="670.76" width="40.80" height="5.22" fill="#50ffaf"/>
<rect x="590.50" y="665.84" width="40.80" height="5.22" fill="#60ff9f"/>
<rect x="590.50" y="660.92" width="40.80" height="5.22" fill="#70ff8f"/>
<rect x="590.50" y="656.00" width="40.80" height="5.22" fill="#80ff80"/>
<rect x="590.50" y="651.08" width="40.80" height="5.22" fill="#8fff70"/>
<rect x="590.50" y="646.16" width="40.80" height="5.22" fill="#9fff60"/>
<rect x="590.50" y="641.24" width="40.80" height="5.22" fill="#afff50"/>
<rect x="590.50" y="636.33" width="40.80" height="5.22" fill="#bfff40"/>
<rect x="590.50" y="631.41" width="40.80" height="5.22" fill="#cfff30"/>
<rect x="590.50" y="626.49" width="40.80" height="5.22" fill="#dfff20"/>
<rect x="590.50" y="621.57" width="40.80" height="5.22" fill="#efff10"/>
<rect x="590.50" y="616.65" width="40.80" height="5.22" fill="#ffff00"/>
<rect x="590.50" y="611.73" width="40.80" height="5.22" fill="#ffef00"/>
<rect x="590.50" y="606.81" width="40.80" height="5.22" fill="#ffdf00"/>
<rect x="590.50" y="601.89" width="40.80" height="5.22" fill="#ffcf00"/>
<rect x="590.50" y="596.98" width="40.80" height="5.22" fill="#ffbf00"/>
<rect x="590.50" y="592.06" width="40.80" height="5.22" fill="#ffaf00"/>
<rect x="590.50" y="587.14" width="40.80" height="5.22" fill="#ff9f00"/>
<rect x="590.50" y="582.22" width="40.80" height="5.22" fill="#ff8f00"/>
<rect x="590.50" y="577.30" width="40.80" height="5.22" fill="#ff8000"/>
<rect x="590.50" y="572.38" width="40.80" height="5.22" fill="#ff7000"/>
<rect x="590.50" y="567.46" width="40.80" height="5.22" fill="#ff6000"/>
<rect x="590.50" y="562.54" width="40.80" height="5.22" fill="#ff5000"/>
<rect x="590.50" y="557.62" width="40.80" height="5.22" fill="#ff4000"/>
<rect x="590.50" y="552.71" width="40.80" height="5.22" fill="#ff3000"/>
<rect x="590.50" y="547.79" width="40.80" height="5.22" fill="#ff2000"/>
<rect x="590.50" y="542.87" width="40.80" height="5.22" fill="#ff1000"/>
<rect x="590.50" y="537.95" width="40.80" height="5.22" fill="#ff0000"/>
<rect x="590.50" y="533.03" width="40.80" height="5.22" fill="#ef0000"/>
<rect x="590.50" y="528.11" width="40.80" height="5.22" fill="#df0000"/>
<rect x="590.50" y="523.19" width="40.80" height="5.22" fill="#cf0000"/>
<rect x="590.50" y="518.28" width="40.80" height="5.22" fill="#bf0000"/>
<rect x="590.50" y="513.36" width="40.80" height="5.22" fill="#af0000"/>
<rect x="590.50" y="508.44" width="40.80" height="5.22" fill="#9f0000"/>
<rect x="590.50" y="503.52" width="40.80" height="5.22" fill="#8f0000"/>
<rect x="590.50" y="498.60" width="40.80" height="4.92" fill="#800000"/>
</g>
<rect x="590.50" y="498.60" width="40.80" height="314.80" fill="none" stroke="#1e1e1e" stroke-width="1.5"/>
<g shape-rendering="crispEdges">
<rect x="1171.10" y="808.77" width="40.70" height="5.23" fill="#00008f"/>
<rect x="1171.10" y="803.83" width="40.70" height="5.23" fill="#00009f"/>
<rect x="1171.10" y="798.90" width="40.70" height="5.23" fill="#0000af"/>
<rect x="1171.10" y="793.96" width="40.70" height="5.23" fill="#0000bf"/>
<rect x="1171.10" y="789.03" width="40.70" height="5.23" fill="#0000cf"/>
<rect x="1171.10" y="784.09" width="40.70" height="5.23" fill="#0000df"/>
<rect x="1171.10" y="779.16" width="40.70" height="5.23" fill="#0000ef"/>
<rect x="1171.10" y="774.23" width="40.70" height="5.23" fill="#0000ff"/>
<rect x="1171.10" y="769.29" width="40.70" height="5.23" fill="#0010ff"/>
<rect x="1171.10" y="764.36" width="40.70" height="5.23" fill="#0020ff"/>
<rect x="1171.10" y="759.42" width="40.70" height="5.23" fill="#0030ff"/>
<rect x="1171.10" y="754.49" width="40.70" height="5.23" fill="#0040ff"/>
<rect x="1171.10" y="749.55" width="40.70" height="5.23" fill="#0050ff"/>
<rect x="1171.10" y="744.62" width="40.70" height="5.23" fill="#0060ff"/>
<rect x="1171.10" y="739.68" width="40.70" height="5.23" fill="#0070ff"/>
<rect x="1171.10" y="734.75" width="40.70" height="5.23" fill="#0080ff"/>
<rect x="1171.10" y="729.82" width="40.70" height="5.23" fill="#008fff"/>
<rect x="1171.10" y="724.88" width="40.70" height="5.23" fill="#009fff"/>
<rect x="1171.10" y="719.95" width="40.70" height="5.23" fill="#00afff"/>
<rect x="1171.10" y="715.01" width="40.70" height="5.23" fill="#00bfff"/>
<rect x="1171.10" y="710.08" width="40.70" height="5.23" fill="#00cfff"/>
<rect x="1171.10" y="705.14" width="40.70" height="5.23" fill="#00dfff"/>
<rect x="1171.10" y="700.21" width="40.70" height="5.23" fill="#00efff"/>
<rect x="1171.10" y="695.27" width="40.70" height="5.23" fill="#00ffff"/>
<rect x="1171.10" y="690.34" width="40.70" height="5.23" fill="#10ffef"/>
<rect x="1171.10" y="685.41" width="40.70" height="5.23" fill="#20ffdf"/>
<rect x="1171.10" y="680.47" width="40.70" height="5.23" fill="#30ffcf"/>
<rect x="1171.10" y="675.54" width="40.70" height="5.23" fill="#40ffbf"/>
<rect x="1171.10" y="670.60" width="40.70" height="5.23" fill="#50ffaf"/>
<rect x="1171.10" y="665.67" width="40.70" height="5.23" fill="#60ff9f"/>
<rect x="1171.10" y="660.73" width="40.70" height="5.23" fill="#70ff8f"/>
<rect x="1171.10" y="655.80" width="40.70" height="5.23" fill="#80ff80"/>
<rect x="1171.10" y="650.87" width="40.70" height="5.23" fill="#8fff70"/>
<rect x="1171.10" y="645.93" width="40.70" height="5.23" fill="#9fff60"/>
<rect x="1171.10" y="641.00" width="40.70" height="5.23" fill="#afff50"/>
<rect x="1171.10" y="636.06" width="40.70" height="5.23" fill="#bfff40"/>
<rect x="1171.10" y="631.13" width="40.70" height="5.23" fill="#cfff30"/>
<rect x="1171.10" y="626.19" width="40.70" height="5.23" fill="#dfff20"/>
<rect x="1171.10" y="621.26" width="40.70" height="5.23" fill="#efff10"/>
<rect x="1171.10" y="616.33" width="40.70" height="5.23" fill="#ffff00"/>
<rect x="1171.10" y="611.39" width="40.70" height="5.23" fill="#ffef00"/>
<rect x="1171.10" y="606.46" width="40.70" height="5.23" fill="#ffdf00"/>
<rect x="1171.10" y="601.52" width="40.70" height="5.23" fill="#ffcf00"/>
<rect x="1171.10" y="596.59" width="40.70" height="5.23" fill="#ffbf00"/>
<rect x="1171.10" y="591.65" width="40.70" height="5.23" fill="#ffaf00"/>
<rect x="1171.10" y="586.72" width="40.70" height="5.23" fill="#ff9f00"/>
<rect x="1171.10" y="581.78" width="40.70" height="5.23" fill="#ff8f00"/>
<rect x="1171.10" y="576.85" width="40.70" height="5.23" fill="#ff8000"/>
<rect x="1171.10" y="571.92" width="40.70" height="5.23" fill="#ff7000"/>
<rect x="1171.10" y="566.98" width="40.70" height="5.23" fill="#ff6000"/>
<rect x="1171.10" y="562.05" width="40.70" height="5.23" fill="#ff5000"/>
<rect x="1171.10" y="557.11" width="40.70" height="5.23" fill="#ff4000"/>
<rect x="1171.10" y="552.18" width="40.70" height="5.23" fill="#ff3000"/>
<rect x="1171.10" y="547.24" width="40.70" height="5.23" fill="#ff2000"/>
<rect x="1171.10" y="542.31" width="40.70" height="5.23" fill="#ff1000"/>
<rect x="1171.10" y="537.38" width="40.70" height="5.23" fill="#ff0000"/>
<rect x="1171.10" y="532.44" width="40.70" height="5.23" fill="#ef0000"/>
<rect x="1171.10" y="527.51" width="40.70" height="5.23" fill="#df0000"/>
<rect x="1171.10" y="522.57" width="40.70" height="5.23" fill="#cf0000"/>
<rect x="1171.10" y="517.64" width="40.70" height="5.23" fill="#bf0000"/>
<rect x="1171.10" y="512.70" width="40.70" height="5.23" fill="#af0000"/>
<rect x="1171.10" y="507.77" width="40.70" height="5.23" fill="#9f0000"/>
<rect x="1171.10" y="502.83" width="40.70" height="5.23" fill="#8f0000"/>
<rect x="1171.10" y="497.90" width="40.70" height="4.93" fill="#800000"/>
</g>
<rect x="1171.10" y="497.90" width="40.70" height="315.80" fill="none" stroke="#1e1e1e" stroke-width="1.5"/>
<g transform="translate(146.400 935.850) scale(6.07000 7.12955)" shape-rendering="crispEdges">
<path fill="#00008f" d="M31 0h1v1h-1zM31 1h1v1h-1zM31 2h1v1h-1zM31 3h1v1h-1zM31 4h1v1h-1zM31 5h1v1h-1zM31 6h1v1h-1zM31 7h1v1h-1zM31 8h1v1h-1zM31 9h1v1h-1zM31 10h1v1h-1zM31 11h1v1h-1zM31 12h1v1h-1zM31 13h1v1h-1zM31 14h1v1h-1zM31 15h1v1h-1zM31 16h1v1h-1zM31 17h1v1h-1zM31 26h1v1h-1zM31 27h1v1h-1zM31 28h1v1h-1zM31 29h1v1h-1zM31 30h1v1h-1zM31 31h1v1h-1zM31 32h1v1h-1zM31 33h1v1h-1zM31 34h1v1h-1zM31 35h1v1h-1zM31 36h1v1h-1zM31 37h1v1h-1zM31 38h1v1h-1zM31 39h1v1h-1zM31 40h1v1h-1zM31 41h1v1h-1zM31 42h1v1h-1zM31 43h1v1h-1z"/>
<path fill="#00009f" d="M30 0h1v1h-1zM32 0h1v1h-1zM30 1h1v1h-1zM32 1h1v1h-1zM30 2h1v1h-1zM32 2h1v1h-1zM30 3h1v1h-1zM32 3h1v1h-1zM30 4h1v1h-1zM32 4h1v1h-1zM30 5h1v1h-1zM32 5h1v1h-1zM30 38h1v1h-1zM32 38h1v1h-1zM30 39h1v1h-1zM32 39h1v1h-1zM30 40h1v1h-1zM32 40h1v1h-1zM30 41h1v1h-1zM32 41h1v1h-1zM30 42h1v1h-1zM32 42h1v1h-1zM30 43h1v1h-1zM32 43h1v1h-1z"/>
<path fill="#0000af" d="M29 0h1v1h-1zM33 0h1v1h-1zM29 1h1v1h-1zM33 1h1v1h-1zM29 2h1v1h-1zM33 2h1v1h-1zM30 6h1v1h-1zM32 6h1v1h-1zM30 7h1v1h-1zM32 7h1v1h-1zM30 8h1v1h-1zM32 8h1v1h-1zM30 9h1v1h-1zM32 9h1v1h-1zM30 10h1v1h-1zM30 11h1v1h-1zM30 32h1v1h-1zM30 33h1v1h-1zM30 34h1v1h-1zM32 34h1v1h-1zM30 35h1v1h-1zM32 35h1v1h-1zM30 36h1v1h-1zM32 36h1v1h-1zM30 37h1v1h-1zM32 37h1v1h-1zM29 41h1v1h-1zM33 41h1v1h-1zM29 42h1v1h-1zM33 42h1v1h-1zM29 43h1v1h-1zM33 43h1v1h-1z"/>
<path fill="#0000bf" d="M28 0h1v1h-1zM34 0h1v1h-1zM28 1h1v1h-1zM34 1h1v1h-1zM29 3h1v1h-1zM33 3h1v1h-1zM29 4h1v1h-1zM33 4h1v1h-1zM29 5h1v1h-1zM33 5h1v1h-1zM32 10h1v1h-1zM32 11h1v1h-1zM30 12h1v1h-1zM30 13h1v1h-1zM30 14h1v1h-1zM30 29h1v1h-1zM30 30h1v1h-1zM30 31h1v1h-1zM32 32h1v1h-1zM32 33h1v1h-1zM29 38h1v1h-1zM33 38h1v1h-1zM29 39h1v1h-1zM33 39h1v1h-1zM29 40h1v1h-1zM33 40h1v1h-1zM28 42h1v1h-1zM34 42h1v1h-1zM28 43h1v1h-1zM34 43h1v1h-1z"/>
<path fill="#0000cf" d="M27 0h1v1h-1zM35 0h1v1h-1zM35 1h1v1h-1zM28 2h1v1h-1zM34 2h1v1h-1zM28 3h1v1h-1zM34 3h1v1h-1zM29 6h1v1h-1zM33 6h1v1h-1zM29 7h1v1h-1zM33 7h1v1h-1zM29 8h1v1h-1zM32 12h1v1h-1zM32 13h1v1h-1zM30 15h1v1h-1zM30 16h1v1h-1zM30 27h1v1h-1zM30 28h1v1h-1zM32 30h1v1h-1zM32 31h1v1h-1zM29 35h1v1h-1zM29 36h1v1h-1zM33 36h1v1h-1zM29 37h1v1h-1zM33 37h1v1h-1zM28 40h1v1h-1zM34 40h1v1h-1zM28 41h1v1h-1zM34 41h1v1h-1zM35 42h1v1h-1zM27 43h1v1h-1zM35 43h1v1h-1z"/>
<path fill="#0000df" d="M26 0h1v1h-1zM36 0h1v1h-1zM27 1h1v1h-1zM27 2h1v1h-1zM35 2h1v1h-1zM28 4h1v1h-1zM34 4h1v1h-1zM28 5h1v1h-1zM34 5h1v1h-1zM33 8h1v1h-1zM29 9h1v1h-1zM33 9h1v1h-1zM29 10h1v1h-1zM32 14h1v1h-1zM32 15h1v1h-1zM30 17h1v1h-1zM30 26h1v1h-1zM32 28h1v1h-1zM32 29h1v1h-1zM29 33h1v1h-1zM29 34h1v1h-1zM33 34h1v1h-1zM33 35h1v1h-1zM28 38h1v1h-1zM34 38h1v1h-1zM28 39h1v1h-1zM34 39h1v1h-1zM27 41h1v1h-1zM35 41h1v1h-1zM27 42h1v1h-1zM26 43h1v1h-1zM36 43h1v1h-1z"/>
<path fill="#0000ef" d="M25 0h1v1h-1zM37 0h1v1h-1zM26 1h1v1h-1zM36 1h1v1h-1zM36 2h1v1h-1zM27 3h1v1h-1zM35 3h1v1h-1zM27 4h1v1h-1zM35 4h1v1h-1zM28 6h1v1h-1zM34 6h1v1h-1zM28 7h1v1h-1zM34 7h1v1h-1zM33 10h1v1h-1zM29 11h1v1h-1zM33 11h1v1h-1zM29 12h1v1h-1zM32 16h1v1h-1zM32 17h1v1h-1zM32 26h1v1h-1zM32 27h1v1h-1zM29 31h1v1h-1zM29 32h1v1h-1zM33 32h1v1h-1zM33 33h1v1h-1zM28 36h1v1h-1zM34 36h1v1h-1zM28 37h1v1h-1zM34 37h1v1h-1zM27 39h1v1h-1zM35 39h1v1h-1zM27 40h1v1h-1zM35 40h1v1h-1zM36 41h1v1h-1zM26 42h1v1h-1zM36 42h1v1h-1zM25 43h1v1h-1zM37 43h1v1h-1z"/>
<path fill="#0000ff" d="M24 0h1v1h-1zM38 0h1v1h-1zM69 0h1v1h-1zM25 1h1v1h-1zM37 1h1v1h-1zM26 2h1v1h-1zM26 3h1v1h-1zM36 3h1v1h-1zM27 5h1v1h-1zM35 5h1v1h-1zM28 8h1v1h-1zM34 8h1v1h-1zM33 12h1v1h-1zM29 13h1v1h-1zM29 30h1v1h-1zM33 31h1v1h-1zM28 35h1v1h-1zM34 35h1v1h-1zM27 38h1v1h-1zM35 38h1v1h-1zM26 40h1v1h-1zM36 40h1v1h-1zM26 41h1v1h-1zM25 42h1v1h-1zM37 42h1v1h-1zM24 43h1v1h-1zM38 43h1v1h-1zM69 43h1v1h-1z"/>
<path fill="#0010ff" d="M23 0h1v1h-1zM39 0h1v1h-1zM67 0h2v1h-2zM24 1h1v1h-1zM38 1h1v1h-1zM69 1h1v1h-1zM25 2h1v1h-1zM37 2h1v1h-1zM37 3h1v1h-1zM26 4h1v1h-1zM36 4h1v1h-1zM27 6h1v1h-1zM35 6h1v1h-1zM28 9h1v1h-1zM34 9h1v1h-1zM28 10h1v1h-1zM33 13h1v1h-1zM29 14h1v1h-1zM29 15h1v1h-1zM29 28h1v1h-1zM29 29h1v1h-1zM33 30h1v1h-1zM28 33h1v1h-1zM28 34h1v1h-1zM34 34h1v1h-1zM27 37h1v1h-1zM35 37h1v1h-1zM26 39h1v1h-1zM36 39h1v1h-1zM37 40h1v1h-1zM25 41h1v1h-1zM37 41h1v1h-1zM24 42h1v1h-1zM38 42h1v1h-1zM69 42h1v1h-1zM23 43h1v1h-1zM39 43h1v1h-1zM67 43h2v1h-2z"/>
<path fill="#0020ff" d="M22 0h1v1h-1zM40 0h1v1h-1zM65 0h2v1h-2zM23 1h1v1h-1zM39 1h1v1h-1zM67 1h2v1h-2zM24 2h1v1h-1zM38 2h1v1h-1zM68 2h2v1h-2zM25 3h1v1h-1zM69 3h1v1h-1zM37 4h1v1h-1zM26 5h1v1h-1zM36 5h1v1h-1zM27 7h1v1h-1zM35 7h1v1h-1zM27 8h1v1h-1zM35 8h1v1h-1zM34 10h1v1h-1zM28 11h1v1h-1zM33 14h1v1h-1zM29 16h1v1h-1zM29 27h1v1h-1zM33 29h1v1h-1zM28 32h1v1h-1zM34 33h1v1h-1zM27 35h1v1h-1zM35 35h1v1h-1zM27 36h1v1h-1zM35 36h1v1h-1zM26 38h1v1h-1zM36 38h1v1h-1zM37 39h1v1h-1zM25 40h1v1h-1zM69 40h1v1h-1zM24 41h1v1h-1zM38 41h1v1h-1zM68 41h2v1h-2zM23 42h1v1h-1zM39 42h1v1h-1zM67 42h2v1h-2zM22 43h1v1h-1zM40 43h1v1h-1zM65 43h2v1h-2z"/>
<path fill="#0030ff" d="M0 0h1v1h-1zM21 0h1v1h-1zM41 0h2v1h-2zM63 0h2v1h-2zM22 1h1v1h-1zM40 1h1v1h-1zM65 1h2v1h-2zM23 2h1v1h-1zM39 2h1v1h-1zM66 2h2v1h-2zM24 3h1v1h-1zM38 3h1v1h-1zM68 3h1v1h-1zM25 4h1v1h-1zM69 4h1v1h-1zM37 5h1v1h-1zM26 6h1v1h-1zM36 6h1v1h-1zM27 9h1v1h-1zM35 9h1v1h-1zM34 11h1v1h-1zM28 12h1v1h-1zM33 15h1v1h-1zM29 17h1v1h-1zM29 26h1v1h-1zM33 28h1v1h-1zM28 31h1v1h-1zM34 32h1v1h-1zM27 34h1v1h-1zM35 34h1v1h-1zM26 37h1v1h-1zM36 37h1v1h-1zM37 38h1v1h-1zM25 39h1v1h-1zM69 39h1v1h-1zM24 40h1v1h-1zM38 40h1v1h-1zM68 40h1v1h-1zM23 41h1v1h-1zM39 41h1v1h-1zM66 41h2v1h-2zM22 42h1v1h-1zM40 42h1v1h-1zM65 42h2v1h-2zM0 43h1v1h-1zM21 43h1v1h-1zM41 43h2v1h-2zM63 43h2v1h-2z"/>
<path fill="#0040ff" d="M1 0h2v1h-2zM19 0h2v1h-2zM43 0h1v1h-1zM60 0h3v1h-3zM0 1h1v1h-1zM21 1h1v1h-1zM41 1h2v1h-2zM63 1h2v1h-2zM22 2h1v1h-1zM40 2h1v1h-1zM64 2h2v1h-2zM23 3h1v1h-1zM39 3h1v1h-1zM66 3h2v1h-2zM24 4h1v1h-1zM38 4h1v1h-1zM67 4h2v1h-2zM25 5h1v1h-1zM68 5h2v1h-2zM37 6h1v1h-1zM69 6h1v1h-1zM26 7h1v1h-1zM36 7h1v1h-1zM27 10h1v1h-1zM34 12h1v1h-1zM28 13h1v1h-1zM33 16h1v1h-1zM33 27h1v1h-1zM28 30h1v1h-1zM34 31h1v1h-1zM27 33h1v1h-1zM26 36h1v1h-1zM36 36h1v1h-1zM37 37h1v1h-1zM69 37h1v1h-1zM25 38h1v1h-1zM68 38h2v1h-2zM24 39h1v1h-1zM38 39h1v1h-1zM67 39h2v1h-2zM23 40h1v1h-1zM39 40h1v1h-1zM66 40h2v1h-2zM22 41h1v1h-1zM40 41h1v1h-1zM64 41h2v1h-2zM0 42h1v1h-1zM21 42h1v1h-1zM41 42h2v1h-2zM63 42h2v1h-2zM1 43h2v1h-2zM19 43h2v1h-2zM43 43h1v1h-1zM60 43h3v1h-3z"/>
<path fill="#0050ff" d="M3 0h3v1h-3zM17 0h2v1h-2zM44 0h3v1h-3zM57 0h3v1h-3zM1 1h2v1h-2zM20 1h1v1h-1zM43 1h1v1h-1zM60 1h3v1h-3zM0 2h1v1h-1zM21 2h1v1h-1zM41 2h1v1h-1zM63 2h1v1h-1zM22 3h1v1h-1zM40 3h1v1h-1zM64 3h2v1h-2zM23 4h1v1h-1zM39 4h1v1h-1zM66 4h1v1h-1zM24 5h1v1h-1zM38 5h1v1h-1zM67 5h1v1h-1zM25 6h1v1h-1zM68 6h1v1h-1zM69 7h1v1h-1zM26 8h1v1h-1zM36 8h1v1h-1zM69 8h1v1h-1zM35 10h1v1h-1zM27 11h1v1h-1zM34 13h1v1h-1zM28 14h1v1h-1zM33 17h1v1h-1zM33 26h1v1h-1zM28 29h1v1h-1zM34 30h1v1h-1zM27 32h1v1h-1zM35 33h1v1h-1zM26 35h1v1h-1zM36 35h1v1h-1zM69 35h1v1h-1zM69 36h1v1h-1zM25 37h1v1h-1zM68 37h1v1h-1zM24 38h1v1h-1zM38 38h1v1h-1zM67 38h1v1h-1zM23 39h1v1h-1zM39 39h1v1h-1zM66 39h1v1h-1zM22 40h1v1h-1zM40 40h1v1h-1zM64 40h2v1h-2zM0 41h1v1h-1zM21 41h1v1h-1zM41 41h1v1h-1zM63 41h1v1h-1zM1 42h2v1h-2zM20 42h1v1h-1zM43 42h1v1h-1zM60 42h3v1h-3zM3 43h3v1h-3zM17 43h2v1h-2zM44 43h3v1h-3zM57 43h3v1h-3z"/>
<path fill="#0060ff" d="M6 0h3v1h-3zM14 0h3v1h-3zM47 0h10v1h-10zM3 1h2v1h-2zM18 1h2v1h-2zM44 1h2v1h-2zM58 1h2v1h-2zM1 2h2v1h-2zM20 2h1v1h-1zM42 2h2v1h-2zM61 2h2v1h-2zM0 3h1v1h-1zM41 3h1v1h-1zM63 3h1v1h-1zM40 4h1v1h-1zM64 4h2v1h-2zM39 5h1v1h-1zM65 5h2v1h-2zM24 6h1v1h-1zM38 6h1v1h-1zM66 6h2v1h-2zM25 7h1v1h-1zM37 7h1v1h-1zM67 7h2v1h-2zM68 8h1v1h-1zM26 9h1v1h-1zM36 9h1v1h-1zM69 9h1v1h-1zM69 10h1v1h-1zM35 11h1v1h-1zM34 14h1v1h-1zM28 15h1v1h-1zM28 28h1v1h-1zM34 29h1v1h-1zM35 32h1v1h-1zM69 33h1v1h-1zM26 34h1v1h-1zM36 34h1v1h-1zM69 34h1v1h-1zM68 35h1v1h-1zM25 36h1v1h-1zM37 36h1v1h-1zM67 36h2v1h-2zM24 37h1v1h-1zM38 37h1v1h-1zM66 37h2v1h-2zM39 38h1v1h-1zM65 38h2v1h-2zM40 39h1v1h-1zM64 39h2v1h-2zM0 40h1v1h-1zM41 40h1v1h-1zM63 40h1v1h-1zM1 41h2v1h-2zM20 41h1v1h-1zM42 41h2v1h-2zM61 41h2v1h-2zM3 42h2v1h-2zM18 42h2v1h-2zM44 42h2v1h-2zM58 42h2v1h-2zM6 43h3v1h-3zM14 43h3v1h-3zM47 43h10v1h-10z"/>
<path fill="#0070ff" d="M9 0h5v1h-5zM5 1h3v1h-3zM16 1h2v1h-2zM46 1h3v1h-3zM54 1h4v1h-4zM3 2h2v1h-2zM19 2h1v1h-1zM44 2h1v1h-1zM58 2h3v1h-3zM1 3h2v1h-2zM21 3h1v1h-1zM42 3h1v1h-1zM61 3h2v1h-2zM0 4h1v1h-1zM22 4h1v1h-1zM41 4h1v1h-1zM62 4h2v1h-2zM23 5h1v1h-1zM64 5h1v1h-1zM65 6h1v1h-1zM38 7h1v1h-1zM66 7h1v1h-1zM25 8h1v1h-1zM37 8h1v1h-1zM67 8h1v1h-1zM68 9h1v1h-1zM26 10h1v1h-1zM36 10h1v1h-1zM68 10h1v1h-1zM69 11h1v1h-1zM27 12h1v1h-1zM35 12h1v1h-1zM69 12h1v1h-1zM28 16h1v1h-1zM28 27h1v1h-1zM27 31h1v1h-1zM35 31h1v1h-1zM69 31h1v1h-1zM69 32h1v1h-1zM26 33h1v1h-1zM36 33h1v1h-1zM68 33h1v1h-1zM68 34h1v1h-1zM25 35h1v1h-1zM37 35h1v1h-1zM67 35h1v1h-1zM38 36h1v1h-1zM66 36h1v1h-1zM65 37h1v1h-1zM23 38h1v1h-1zM64 38h1v1h-1zM0 39h1v1h-1zM22 39h1v1h-1zM41 39h1v1h-1zM62 39h2v1h-2zM1 40h2v1h-2zM21 40h1v1h-1zM42 40h1v1h-1zM61 40h2v1h-2zM3 41h2v1h-2zM19 41h1v1h-1zM44 41h1v1h-1zM58 41h3v1h-3zM5 42h3v1h-3zM16 42h2v1h-2zM46 42h3v1h-3zM54 42h4v1h-4zM9 43h5v1h-5z"/>
<path fill="#0080ff" d="M8 1h8v1h-8zM49 1h5v1h-5zM5 2h2v1h-2zM17 2h2v1h-2zM45 2h2v1h-2zM56 2h2v1h-2zM3 3h1v1h-1zM19 3h2v1h-2zM43 3h1v1h-1zM59 3h2v1h-2zM1 4h2v1h-2zM21 4h1v1h-1zM42 4h1v1h-1zM61 4h1v1h-1zM0 5h1v1h-1zM22 5h1v1h-1zM40 5h1v1h-1zM62 5h2v1h-2zM23 6h1v1h-1zM39 6h1v1h-1zM64 6h1v1h-1zM24 7h1v1h-1zM65 7h1v1h-1zM66 8h1v1h-1zM25 9h1v1h-1zM37 9h1v1h-1zM67 9h1v1h-1zM67 10h1v1h-1zM68 11h1v1h-1zM27 13h1v1h-1zM69 13h1v1h-1zM69 14h1v1h-1zM34 15h1v1h-1zM28 17h1v1h-1zM28 26h1v1h-1zM34 28h1v1h-1zM69 29h1v1h-1zM27 30h1v1h-1zM69 30h1v1h-1zM68 32h1v1h-1zM67 33h1v1h-1zM25 34h1v1h-1zM37 34h1v1h-1zM67 34h1v1h-1zM66 35h1v1h-1zM24 36h1v1h-1zM65 36h1v1h-1zM23 37h1v1h-1zM39 37h1v1h-1zM64 37h1v1h-1zM0 38h1v1h-1zM22 38h1v1h-1zM40 38h1v1h-1zM62 38h2v1h-2zM1 39h2v1h-2zM21 39h1v1h-1zM42 39h1v1h-1zM61 39h1v1h-1zM3 40h1v1h-1zM19 40h2v1h-2zM43 40h1v1h-1zM59 40h2v1h-2zM5 41h2v1h-2zM17 41h2v1h-2zM45 41h2v1h-2zM56 41h2v1h-2zM8 42h8v1h-8zM49 42h5v1h-5z"/>
<path fill="#008fff" d="M7 2h3v1h-3zM14 2h3v1h-3zM47 2h9v1h-9zM4 3h2v1h-2zM18 3h1v1h-1zM44 3h2v1h-2zM57 3h2v1h-2zM3 4h1v1h-1zM20 4h1v1h-1zM43 4h1v1h-1zM59 4h2v1h-2zM1 5h1v1h-1zM21 5h1v1h-1zM41 5h1v1h-1zM61 5h1v1h-1zM0 6h1v1h-1zM40 6h1v1h-1zM63 6h1v1h-1zM39 7h1v1h-1zM64 7h1v1h-1zM24 8h1v1h-1zM38 8h1v1h-1zM65 8h1v1h-1zM66 9h1v1h-1zM66 10h1v1h-1zM26 11h1v1h-1zM36 11h1v1h-1zM67 11h1v1h-1zM68 12h1v1h-1zM35 13h1v1h-1zM68 13h1v1h-1zM27 14h1v1h-1zM69 15h1v1h-1zM34 16h1v1h-1zM69 16h1v1h-1zM69 17h1v1h-1zM69 26h1v1h-1zM34 27h1v1h-1zM69 27h1v1h-1zM69 28h1v1h-1zM27 29h1v1h-1zM35 30h1v1h-1zM68 30h1v1h-1zM68 31h1v1h-1zM26 32h1v1h-1zM36 32h1v1h-1zM67 32h1v1h-1zM66 33h1v1h-1zM66 34h1v1h-1zM24 35h1v1h-1zM38 35h1v1h-1zM65 35h1v1h-1zM39 36h1v1h-1zM64 36h1v1h-1zM0 37h1v1h-1zM40 37h1v1h-1zM63 37h1v1h-1zM1 38h1v1h-1zM21 38h1v1h-1zM41 38h1v1h-1zM61 38h1v1h-1zM3 39h1v1h-1zM20 39h1v1h-1zM43 39h1v1h-1zM59 39h2v1h-2zM4 40h2v1h-2zM18 40h1v1h-1zM44 40h2v1h-2zM57 40h2v1h-2zM7 41h3v1h-3zM14 41h3v1h-3zM47 41h9v1h-9z"/>
<path fill="#009fff" d="M10 2h4v1h-4zM6 3h2v1h-2zM16 3h2v1h-2zM46 3h3v1h-3zM53 3h4v1h-4zM4 4h2v1h-2zM19 4h1v1h-1zM44 4h1v1h-1zM57 4h2v1h-2zM2 5h2v1h-2zM42 5h1v1h-1zM60 5h1v1h-1zM1 6h1v1h-1zM22 6h1v1h-1zM41 6h1v1h-1zM61 6h2v1h-2zM0 7h1v1h-1zM23 7h1v1h-1zM63 7h1v1h-1zM64 8h1v1h-1zM65 9h1v1h-1zM25 10h1v1h-1zM37 10h1v1h-1zM65 10h1v1h-1zM66 11h1v1h-1zM26 12h1v1h-1zM36 12h1v1h-1zM67 12h1v1h-1zM67 13h1v1h-1zM35 14h1v1h-1zM68 14h1v1h-1zM27 15h1v1h-1zM68 15h1v1h-1zM68 16h1v1h-1zM69 18h1v1h-1zM69 19h1v1h-1zM69 20h1v1h-1zM69 21h1v1h-1zM69 22h1v1h-1zM69 23h1v1h-1zM69 24h1v1h-1zM69 25h1v1h-1zM68 27h1v1h-1zM27 28h1v1h-1zM68 28h1v1h-1zM35 29h1v1h-1zM68 29h1v1h-1zM67 30h1v1h-1zM26 31h1v1h-1zM36 31h1v1h-1zM67 31h1v1h-1zM66 32h1v1h-1zM25 33h1v1h-1zM37 33h1v1h-1zM65 33h1v1h-1zM65 34h1v1h-1zM64 35h1v1h-1zM0 36h1v1h-1zM23 36h1v1h-1zM63 36h1v1h-1zM1 37h1v1h-1zM22 37h1v1h-1zM41 37h1v1h-1zM61 37h2v1h-2zM2 38h2v1h-2zM42 38h1v1h-1zM60 38h1v1h-1zM4 39h2v1h-2zM19 39h1v1h-1zM44 39h1v1h-1zM57 39h2v1h-2zM6 40h2v1h-2zM16 40h2v1h-2zM46 40h3v1h-3zM53 40h4v1h-4zM10 41h4v1h-4z"/>
<path fill="#00afff" d="M8 3h8v1h-8zM49 3h4v1h-4zM6 4h1v1h-1zM18 4h1v1h-1zM45 4h2v1h-2zM55 4h2v1h-2zM4 5h1v1h-1zM20 5h1v1h-1zM43 5h1v1h-1zM58 5h2v1h-2zM2 6h1v1h-1zM21 6h1v1h-1zM60 6h1v1h-1zM1 7h1v1h-1zM22 7h1v1h-1zM40 7h1v1h-1zM61 7h2v1h-2zM0 8h1v1h-1zM23 8h1v1h-1zM39 8h1v1h-1zM63 8h1v1h-1zM24 9h1v1h-1zM38 9h1v1h-1zM64 9h1v1h-1zM64 10h1v1h-1zM65 11h1v1h-1zM66 12h1v1h-1zM66 13h1v1h-1zM67 14h1v1h-1zM67 15h1v1h-1zM34 17h1v1h-1zM68 17h1v1h-1zM68 18h1v1h-1zM68 19h1v1h-1zM68 20h1v1h-1zM68 21h1v1h-1zM68 22h1v1h-1zM68 23h1v1h-1zM68 24h1v1h-1zM68 25h1v1h-1zM34 26h1v1h-1zM68 26h1v1h-1zM67 28h1v1h-1zM67 29h1v1h-1zM66 30h1v1h-1zM66 31h1v1h-1zM65 32h1v1h-1zM64 33h1v1h-1zM24 34h1v1h-1zM38 34h1v1h-1zM64 34h1v1h-1zM0 35h1v1h-1zM23 35h1v1h-1zM39 35h1v1h-1zM63 35h1v1h-1zM1 36h1v1h-1zM22 36h1v1h-1zM40 36h1v1h-1zM61 36h2v1h-2zM2 37h1v1h-1zM21 37h1v1h-1zM60 37h1v1h-1zM4 38h1v1h-1zM20 38h1v1h-1zM43 38h1v1h-1zM58 38h2v1h-2zM6 39h1v1h-1zM18 39h1v1h-1zM45 39h2v1h-2zM55 39h2v1h-2zM8 40h8v1h-8zM49 40h4v1h-4z"/>
<path fill="#00bfff" d="M7 4h3v1h-3zM16 4h2v1h-2zM47 4h8v1h-8zM5 5h1v1h-1zM19 5h1v1h-1zM44 5h2v1h-2zM56 5h2v1h-2zM3 6h2v1h-2zM20 6h1v1h-1zM42 6h1v1h-1zM58 6h2v1h-2zM2 7h1v1h-1zM41 7h1v1h-1zM60 7h1v1h-1zM1 8h1v1h-1zM61 8h2v1h-2zM0 9h1v1h-1zM63 9h1v1h-1zM38 10h1v1h-1zM63 10h1v1h-1zM25 11h1v1h-1zM37 11h1v1h-1zM64 11h1v1h-1zM65 12h1v1h-1zM26 13h1v1h-1zM36 13h1v1h-1zM65 13h1v1h-1zM66 14h1v1h-1zM35 15h1v1h-1zM66 15h1v1h-1zM27 16h1v1h-1zM67 16h1v1h-1zM67 17h1v1h-1zM67 18h1v1h-1zM67 25h1v1h-1zM67 26h1v1h-1zM27 27h1v1h-1zM67 27h1v1h-1zM35 28h1v1h-1zM66 28h1v1h-1zM66 29h1v1h-1zM26 30h1v1h-1zM36 30h1v1h-1zM65 30h1v1h-1zM65 31h1v1h-1zM25 32h1v1h-1zM37 32h1v1h-1zM64 32h1v1h-1zM38 33h1v1h-1zM63 33h1v1h-1zM0 34h1v1h-1zM63 34h1v1h-1zM1 35h1v1h-1zM61 35h2v1h-2zM2 36h1v1h-1zM41 36h1v1h-1zM60 36h1v1h-1zM3 37h2v1h-2zM20 37h1v1h-1zM42 37h1v1h-1zM58 37h2v1h-2zM5 38h1v1h-1zM19 38h1v1h-1zM44 38h2v1h-2zM56 38h2v1h-2zM7 39h3v1h-3zM16 39h2v1h-2zM47 39h8v1h-8z"/>
<path fill="#00cfff" d="M10 4h6v1h-6zM6 5h2v1h-2zM17 5h2v1h-2zM46 5h1v1h-1zM54 5h2v1h-2zM5 6h1v1h-1zM43 6h1v1h-1zM57 6h1v1h-1zM3 7h1v1h-1zM21 7h1v1h-1zM42 7h1v1h-1zM59 7h1v1h-1zM2 8h1v1h-1zM22 8h1v1h-1zM40 8h1v1h-1zM60 8h1v1h-1zM1 9h1v1h-1zM23 9h1v1h-1zM39 9h1v1h-1zM62 9h1v1h-1zM0 10h1v1h-1zM24 10h1v1h-1zM63 11h1v1h-1zM25 12h1v1h-1zM64 12h1v1h-1zM26 14h1v1h-1zM65 14h1v1h-1zM66 16h1v1h-1zM27 17h1v1h-1zM66 17h1v1h-1zM67 19h1v1h-1zM67 20h1v1h-1zM67 21h1v1h-1zM67 22h1v1h-1zM67 23h1v1h-1zM67 24h1v1h-1zM27 26h1v1h-1zM66 26h1v1h-1zM66 27h1v1h-1zM26 29h1v1h-1zM65 29h1v1h-1zM25 31h1v1h-1zM64 31h1v1h-1zM63 32h1v1h-1zM0 33h1v1h-1zM24 33h1v1h-1zM1 34h1v1h-1zM23 34h1v1h-1zM39 34h1v1h-1zM62 34h1v1h-1zM2 35h1v1h-1zM22 35h1v1h-1zM40 35h1v1h-1zM60 35h1v1h-1zM3 36h1v1h-1zM21 36h1v1h-1zM42 36h1v1h-1zM59 36h1v1h-1zM5 37h1v1h-1zM43 37h1v1h-1zM57 37h1v1h-1zM6 38h2v1h-2zM17 38h2v1h-2zM46 38h1v1h-1zM54 38h2v1h-2zM10 39h6v1h-6z"/>
<path fill="#00dfff" d="M8 5h3v1h-3zM15 5h2v1h-2zM47 5h7v1h-7zM6 6h1v1h-1zM19 6h1v1h-1zM44 6h2v1h-2zM55 6h2v1h-2zM4 7h1v1h-1zM20 7h1v1h-1zM58 7h1v1h-1zM3 8h1v1h-1zM41 8h1v1h-1zM59 8h1v1h-1zM2 9h1v1h-1zM40 9h1v1h-1zM61 9h1v1h-1zM1 10h1v1h-1zM62 10h1v1h-1zM0 11h1v1h-1zM24 11h1v1h-1zM38 11h1v1h-1zM62 11h1v1h-1zM37 12h1v1h-1zM63 12h1v1h-1zM64 13h1v1h-1zM36 14h1v1h-1zM64 14h1v1h-1zM65 15h1v1h-1zM65 16h1v1h-1zM66 18h1v1h-1zM66 19h1v1h-1zM66 20h1v1h-1zM66 21h1v1h-1zM66 22h1v1h-1zM66 23h1v1h-1zM66 24h1v1h-1zM66 25h1v1h-1zM65 27h1v1h-1zM65 28h1v1h-1zM36 29h1v1h-1zM64 29h1v1h-1zM64 30h1v1h-1zM37 31h1v1h-1zM63 31h1v1h-1zM0 32h1v1h-1zM24 32h1v1h-1zM38 32h1v1h-1zM62 32h1v1h-1zM1 33h1v1h-1zM62 33h1v1h-1zM2 34h1v1h-1zM40 34h1v1h-1zM61 34h1v1h-1zM3 35h1v1h-1zM41 35h1v1h-1zM59 35h1v1h-1zM4 36h1v1h-1zM20 36h1v1h-1zM58 36h1v1h-1zM6 37h1v1h-1zM19 37h1v1h-1zM44 37h2v1h-2zM55 37h2v1h-2zM8 38h3v1h-3zM15 38h2v1h-2zM47 38h7v1h-7z"/>
<path fill="#00efff" d="M11 5h4v1h-4zM7 6h2v1h-2zM17 6h2v1h-2zM46 6h2v1h-2zM53 6h2v1h-2zM5 7h1v1h-1zM43 7h1v1h-1zM56 7h2v1h-2zM4 8h1v1h-1zM21 8h1v1h-1zM42 8h1v1h-1zM58 8h1v1h-1zM22 9h1v1h-1zM60 9h1v1h-1zM23 10h1v1h-1zM39 10h1v1h-1zM61 10h1v1h-1zM1 11h1v1h-1zM0 12h1v1h-1zM62 12h1v1h-1zM25 13h1v1h-1zM63 13h1v1h-1zM26 15h1v1h-1zM64 15h1v1h-1zM35 16h1v1h-1zM65 17h1v1h-1zM65 18h1v1h-1zM65 25h1v1h-1zM65 26h1v1h-1zM35 27h1v1h-1zM26 28h1v1h-1zM64 28h1v1h-1zM25 30h1v1h-1zM63 30h1v1h-1zM0 31h1v1h-1zM62 31h1v1h-1zM1 32h1v1h-1zM23 33h1v1h-1zM39 33h1v1h-1zM61 33h1v1h-1zM22 34h1v1h-1zM60 34h1v1h-1zM4 35h1v1h-1zM21 35h1v1h-1zM42 35h1v1h-1zM58 35h1v1h-1zM5 36h1v1h-1zM43 36h1v1h-1zM56 36h2v1h-2zM7 37h2v1h-2zM17 37h2v1h-2zM46 37h2v1h-2zM53 37h2v1h-2zM11 38h4v1h-4z"/>
<path fill="#00ffff" d="M9 6h2v1h-2zM15 6h2v1h-2zM48 6h5v1h-5zM6 7h2v1h-2zM19 7h1v1h-1zM44 7h2v1h-2zM55 7h1v1h-1zM5 8h1v1h-1zM20 8h1v1h-1zM57 8h1v1h-1zM3 9h1v1h-1zM41 9h1v1h-1zM59 9h1v1h-1zM2 10h1v1h-1zM60 10h1v1h-1zM61 11h1v1h-1zM1 12h1v1h-1zM38 12h1v1h-1zM0 13h1v1h-1zM37 13h1v1h-1zM62 13h1v1h-1zM63 14h1v1h-1zM63 15h1v1h-1zM64 16h1v1h-1zM64 17h1v1h-1zM65 19h1v1h-1zM65 20h1v1h-1zM65 21h1v1h-1zM65 22h1v1h-1zM65 23h1v1h-1zM65 24h1v1h-1zM64 26h1v1h-1zM64 27h1v1h-1zM63 28h1v1h-1zM63 29h1v1h-1zM0 30h1v1h-1zM37 30h1v1h-1zM62 30h1v1h-1zM1 31h1v1h-1zM38 31h1v1h-1zM61 32h1v1h-1zM2 33h1v1h-1zM60 33h1v1h-1zM3 34h1v1h-1zM41 34h1v1h-1zM59 34h1v1h-1zM5 35h1v1h-1zM20 35h1v1h-1zM57 35h1v1h-1zM6 36h2v1h-2zM19 36h1v1h-1zM44 36h2v1h-2zM55 36h1v1h-1zM9 37h2v1h-2zM15 37h2v1h-2zM48 37h5v1h-5z"/>
<path fill="#10ffef" d="M11 6h4v1h-4zM8 7h1v1h-1zM17 7h2v1h-2zM46 7h2v1h-2zM52 7h3v1h-3zM6 8h1v1h-1zM43 8h1v1h-1zM56 8h1v1h-1zM4 9h1v1h-1zM21 9h1v1h-1zM58 9h1v1h-1zM3 10h1v1h-1zM22 10h1v1h-1zM40 10h1v1h-1zM59 10h1v1h-1zM2 11h1v1h-1zM23 11h1v1h-1zM39 11h1v1h-1zM60 11h1v1h-1zM24 12h1v1h-1zM61 12h1v1h-1zM0 14h1v1h-1zM25 14h1v1h-1zM62 14h1v1h-1zM36 15h1v1h-1zM26 16h1v1h-1zM63 16h1v1h-1zM35 17h1v1h-1zM64 18h1v1h-1zM64 19h1v1h-1zM64 24h1v1h-1zM64 25h1v1h-1zM35 26h1v1h-1zM26 27h1v1h-1zM63 27h1v1h-1zM36 28h1v1h-1zM0 29h1v1h-1zM25 29h1v1h-1zM62 29h1v1h-1zM24 31h1v1h-1zM61 31h1v1h-1zM2 32h1v1h-1zM23 32h1v1h-1zM39 32h1v1h-1zM60 32h1v1h-1zM3 33h1v1h-1zM22 33h1v1h-1zM40 33h1v1h-1zM59 33h1v1h-1zM4 34h1v1h-1zM21 34h1v1h-1zM58 34h1v1h-1zM6 35h1v1h-1zM43 35h1v1h-1zM56 35h1v1h-1zM8 36h1v1h-1zM17 36h2v1h-2zM46 36h2v1h-2zM52 36h3v1h-3zM11 37h4v1h-4z"/>
<path fill="#20ffdf" d="M9 7h2v1h-2zM16 7h1v1h-1zM48 7h4v1h-4zM7 8h1v1h-1zM19 8h1v1h-1zM44 8h1v1h-1zM54 8h2v1h-2zM5 9h1v1h-1zM42 9h1v1h-1zM57 9h1v1h-1zM4 10h1v1h-1zM41 10h1v1h-1zM58 10h1v1h-1zM3 11h1v1h-1zM59 11h1v1h-1zM2 12h1v1h-1zM60 12h1v1h-1zM1 13h1v1h-1zM61 13h1v1h-1zM37 14h1v1h-1zM61 14h1v1h-1zM0 15h1v1h-1zM62 15h1v1h-1zM0 16h1v1h-1zM26 17h1v1h-1zM63 17h1v1h-1zM63 18h1v1h-1zM64 20h1v1h-1zM64 21h1v1h-1zM64 22h1v1h-1zM64 23h1v1h-1zM63 25h1v1h-1zM26 26h1v1h-1zM63 26h1v1h-1zM0 27h1v1h-1zM0 28h1v1h-1zM62 28h1v1h-1zM37 29h1v1h-1zM61 29h1v1h-1zM1 30h1v1h-1zM61 30h1v1h-1zM2 31h1v1h-1zM60 31h1v1h-1zM3 32h1v1h-1zM59 32h1v1h-1zM4 33h1v1h-1zM41 33h1v1h-1zM58 33h1v1h-1zM5 34h1v1h-1zM42 34h1v1h-1zM57 34h1v1h-1zM7 35h1v1h-1zM19 35h1v1h-1zM44 35h1v1h-1zM54 35h2v1h-2zM9 36h2v1h-2zM16 36h1v1h-1zM48 36h4v1h-4z"/>
<path fill="#30ffcf" d="M11 7h5v1h-5zM8 8h1v1h-1zM18 8h1v1h-1zM45 8h2v1h-2zM52 8h2v1h-2zM6 9h1v1h-1zM20 9h1v1h-1zM43 9h1v1h-1zM55 9h2v1h-2zM21 10h1v1h-1zM57 10h1v1h-1zM40 11h1v1h-1zM58 11h1v1h-1zM39 12h1v1h-1zM59 12h1v1h-1zM2 13h1v1h-1zM24 13h1v1h-1zM38 13h1v1h-1zM60 13h1v1h-1zM1 14h1v1h-1zM1 15h1v1h-1zM25 15h1v1h-1zM61 15h1v1h-1zM36 16h1v1h-1zM62 16h1v1h-1zM0 17h1v1h-1zM62 17h1v1h-1zM0 18h1v1h-1zM63 19h1v1h-1zM63 20h1v1h-1zM63 23h1v1h-1zM63 24h1v1h-1zM0 25h1v1h-1zM0 26h1v1h-1zM62 26h1v1h-1zM36 27h1v1h-1zM62 27h1v1h-1zM1 28h1v1h-1zM25 28h1v1h-1zM61 28h1v1h-1zM1 29h1v1h-1zM2 30h1v1h-1zM24 30h1v1h-1zM38 30h1v1h-1zM60 30h1v1h-1zM39 31h1v1h-1zM59 31h1v1h-1zM40 32h1v1h-1zM58 32h1v1h-1zM21 33h1v1h-1zM57 33h1v1h-1zM6 34h1v1h-1zM20 34h1v1h-1zM43 34h1v1h-1zM55 34h2v1h-2zM8 35h1v1h-1zM18 35h1v1h-1zM45 35h2v1h-2zM52 35h2v1h-2zM11 36h5v1h-5z"/>
<path fill="#40ffbf" d="M9 8h2v1h-2zM17 8h1v1h-1zM47 8h5v1h-5zM7 9h1v1h-1zM19 9h1v1h-1zM44 9h1v1h-1zM54 9h1v1h-1zM5 10h1v1h-1zM42 10h1v1h-1zM56 10h1v1h-1zM4 11h1v1h-1zM22 11h1v1h-1zM3 12h1v1h-1zM23 12h1v1h-1zM2 14h1v1h-1zM60 14h1v1h-1zM1 16h1v1h-1zM61 16h1v1h-1zM62 18h1v1h-1zM0 19h1v1h-1zM0 20h1v1h-1zM0 21h1v1h-1zM63 21h1v1h-1zM0 22h1v1h-1zM63 22h1v1h-1zM0 23h1v1h-1zM0 24h1v1h-1zM62 25h1v1h-1zM1 27h1v1h-1zM61 27h1v1h-1zM2 29h1v1h-1zM60 29h1v1h-1zM3 31h1v1h-1zM23 31h1v1h-1zM4 32h1v1h-1zM22 32h1v1h-1zM5 33h1v1h-1zM42 33h1v1h-1zM56 33h1v1h-1zM7 34h1v1h-1zM19 34h1v1h-1zM44 34h1v1h-1zM54 34h1v1h-1zM9 35h2v1h-2zM17 35h1v1h-1zM47 35h5v1h-5z"/>
<path fill="#50ffaf" d="M11 8h6v1h-6zM8 9h1v1h-1zM18 9h1v1h-1zM45 9h1v1h-1zM53 9h1v1h-1zM6 10h1v1h-1zM20 10h1v1h-1zM43 10h1v1h-1zM55 10h1v1h-1zM5 11h1v1h-1zM41 11h1v1h-1zM57 11h1v1h-1zM4 12h1v1h-1zM40 12h1v1h-1zM58 12h1v1h-1zM3 13h1v1h-1zM59 13h1v1h-1zM24 14h1v1h-1zM2 15h1v1h-1zM37 15h1v1h-1zM60 15h1v1h-1zM60 16h1v1h-1zM1 17h1v1h-1zM61 17h1v1h-1zM62 19h1v1h-1zM62 24h1v1h-1zM1 26h1v1h-1zM61 26h1v1h-1zM60 27h1v1h-1zM2 28h1v1h-1zM37 28h1v1h-1zM60 28h1v1h-1zM24 29h1v1h-1zM3 30h1v1h-1zM59 30h1v1h-1zM4 31h1v1h-1zM40 31h1v1h-1zM58 31h1v1h-1zM5 32h1v1h-1zM41 32h1v1h-1zM57 32h1v1h-1zM6 33h1v1h-1zM20 33h1v1h-1zM43 33h1v1h-1zM55 33h1v1h-1zM8 34h1v1h-1zM18 34h1v1h-1zM45 34h1v1h-1zM53 34h1v1h-1zM11 35h6v1h-6z"/>
<path fill="#60ff9f" d="M9 9h1v1h-1zM17 9h1v1h-1zM46 9h7v1h-7zM7 10h1v1h-1zM54 10h1v1h-1zM21 11h1v1h-1zM56 11h1v1h-1zM22 12h1v1h-1zM57 12h1v1h-1zM23 13h1v1h-1zM39 13h1v1h-1zM58 13h1v1h-1zM3 14h1v1h-1zM38 14h1v1h-1zM59 14h1v1h-1zM59 15h1v1h-1zM2 16h1v1h-1zM25 16h1v1h-1zM36 17h1v1h-1zM59 17h2v1h-2zM1 18h1v1h-1zM61 18h1v1h-1zM1 19h1v1h-1zM1 20h1v1h-1zM62 20h1v1h-1zM62 21h1v1h-1zM62 22h1v1h-1zM1 23h1v1h-1zM62 23h1v1h-1zM1 24h1v1h-1zM1 25h1v1h-1zM61 25h1v1h-1zM36 26h1v1h-1zM59 26h2v1h-2zM2 27h1v1h-1zM25 27h1v1h-1zM59 28h1v1h-1zM3 29h1v1h-1zM38 29h1v1h-1zM59 29h1v1h-1zM23 30h1v1h-1zM39 30h1v1h-1zM58 30h1v1h-1zM22 31h1v1h-1zM57 31h1v1h-1zM21 32h1v1h-1zM56 32h1v1h-1zM7 33h1v1h-1zM54 33h1v1h-1zM9 34h1v1h-1zM17 34h1v1h-1zM46 34h7v1h-7z"/>
<path fill="#70ff8f" d="M10 9h2v1h-2zM16 9h1v1h-1zM8 10h1v1h-1zM19 10h1v1h-1zM44 10h2v1h-2zM53 10h1v1h-1zM6 11h1v1h-1zM42 11h1v1h-1zM55 11h1v1h-1zM5 12h1v1h-1zM4 13h1v1h-1zM3 15h1v1h-1zM59 16h1v1h-1zM2 17h1v1h-1zM61 19h1v1h-1zM1 21h1v1h-1zM1 22h1v1h-1zM61 24h1v1h-1zM2 26h1v1h-1zM59 27h1v1h-1zM3 28h1v1h-1zM4 30h1v1h-1zM5 31h1v1h-1zM6 32h1v1h-1zM42 32h1v1h-1zM55 32h1v1h-1zM8 33h1v1h-1zM19 33h1v1h-1zM44 33h2v1h-2zM53 33h1v1h-1zM10 34h2v1h-2zM16 34h1v1h-1z"/>
<path fill="#80ff80" d="M12 9h4v1h-4zM9 10h1v1h-1zM18 10h1v1h-1zM46 10h1v1h-1zM51 10h2v1h-2zM7 11h1v1h-1zM20 11h1v1h-1zM43 11h1v1h-1zM54 11h1v1h-1zM41 12h1v1h-1zM56 12h1v1h-1zM40 13h1v1h-1zM57 13h1v1h-1zM4 14h1v1h-1zM58 14h1v1h-1zM24 15h1v1h-1zM38 15h1v1h-1zM37 16h1v1h-1zM25 17h1v1h-1zM2 18h1v1h-1zM60 18h1v1h-1zM2 19h1v1h-1zM61 20h1v1h-1zM61 21h1v1h-1zM61 22h1v1h-1zM61 23h1v1h-1zM2 24h1v1h-1zM2 25h1v1h-1zM60 25h1v1h-1zM25 26h1v1h-1zM37 27h1v1h-1zM24 28h1v1h-1zM38 28h1v1h-1zM4 29h1v1h-1zM58 29h1v1h-1zM40 30h1v1h-1zM57 30h1v1h-1zM41 31h1v1h-1zM56 31h1v1h-1zM7 32h1v1h-1zM20 32h1v1h-1zM43 32h1v1h-1zM54 32h1v1h-1zM9 33h1v1h-1zM18 33h1v1h-1zM46 33h1v1h-1zM51 33h2v1h-2zM12 34h4v1h-4z"/>
<path fill="#8fff70" d="M10 10h1v1h-1zM17 10h1v1h-1zM47 10h4v1h-4zM8 11h1v1h-1zM44 11h1v1h-1zM53 11h1v1h-1zM6 12h1v1h-1zM21 12h1v1h-1zM42 12h1v1h-1zM55 12h1v1h-1zM5 13h1v1h-1zM22 13h1v1h-1zM23 14h1v1h-1zM39 14h1v1h-1zM58 15h1v1h-1zM3 16h1v1h-1zM58 16h1v1h-1zM58 17h1v1h-1zM2 20h1v1h-1zM2 21h1v1h-1zM2 22h1v1h-1zM2 23h1v1h-1zM58 26h1v1h-1zM3 27h1v1h-1zM58 27h1v1h-1zM58 28h1v1h-1zM23 29h1v1h-1zM39 29h1v1h-1zM5 30h1v1h-1zM22 30h1v1h-1zM6 31h1v1h-1zM21 31h1v1h-1zM42 31h1v1h-1zM55 31h1v1h-1zM8 32h1v1h-1zM44 32h1v1h-1zM53 32h1v1h-1zM10 33h1v1h-1zM17 33h1v1h-1zM47 33h4v1h-4z"/>
<path fill="#9fff60" d="M11 10h2v1h-2zM15 10h2v1h-2zM19 11h1v1h-1zM45 11h1v1h-1zM52 11h1v1h-1zM7 12h1v1h-1zM6 13h1v1h-1zM56 13h1v1h-1zM5 14h1v1h-1zM57 14h1v1h-1zM4 15h1v1h-1zM3 17h1v1h-1zM3 18h1v1h-1zM60 19h1v1h-1zM60 24h1v1h-1zM3 25h1v1h-1zM3 26h1v1h-1zM4 28h1v1h-1zM5 29h1v1h-1zM57 29h1v1h-1zM6 30h1v1h-1zM56 30h1v1h-1zM7 31h1v1h-1zM19 32h1v1h-1zM45 32h1v1h-1zM52 32h1v1h-1zM11 33h2v1h-2zM15 33h2v1h-2z"/>
<path fill="#afff50" d="M13 10h2v1h-2zM9 11h1v1h-1zM18 11h1v1h-1zM46 11h2v1h-2zM50 11h2v1h-2zM20 12h1v1h-1zM43 12h1v1h-1zM54 12h1v1h-1zM41 13h1v1h-1zM40 14h1v1h-1zM57 15h1v1h-1zM4 16h1v1h-1zM24 16h1v1h-1zM37 17h1v1h-1zM3 19h1v1h-1zM3 20h1v1h-1zM60 20h1v1h-1zM60 21h1v1h-1zM60 22h1v1h-1zM3 23h1v1h-1zM60 23h1v1h-1zM3 24h1v1h-1zM37 26h1v1h-1zM4 27h1v1h-1zM24 27h1v1h-1zM57 28h1v1h-1zM40 29h1v1h-1zM41 30h1v1h-1zM20 31h1v1h-1zM43 31h1v1h-1zM54 31h1v1h-1zM9 32h1v1h-1zM18 32h1v1h-1zM46 32h2v1h-2zM50 32h2v1h-2zM13 33h2v1h-2z"/>
<path fill="#bfff40" d="M10 11h1v1h-1zM17 11h1v1h-1zM48 11h2v1h-2zM8 12h1v1h-1zM44 12h1v1h-1zM53 12h1v1h-1zM7 13h1v1h-1zM21 13h1v1h-1zM55 13h1v1h-1zM6 14h1v1h-1zM22 14h1v1h-1zM56 14h1v1h-1zM5 15h1v1h-1zM23 15h1v1h-1zM39 15h1v1h-1zM38 16h1v1h-1zM4 17h1v1h-1zM3 21h1v1h-1zM3 22h1v1h-1zM4 26h1v1h-1zM38 27h1v1h-1zM5 28h1v1h-1zM23 28h1v1h-1zM39 28h1v1h-1zM6 29h1v1h-1zM22 29h1v1h-1zM56 29h1v1h-1zM7 30h1v1h-1zM21 30h1v1h-1zM55 30h1v1h-1zM8 31h1v1h-1zM44 31h1v1h-1zM53 31h1v1h-1zM10 32h1v1h-1zM17 32h1v1h-1zM48 32h2v1h-2z"/>
<path fill="#cfff30" d="M11 11h2v1h-2zM16 11h1v1h-1zM9 12h1v1h-1zM19 12h1v1h-1zM45 12h1v1h-1zM52 12h1v1h-1zM42 13h1v1h-1zM54 13h1v1h-1zM5 16h1v1h-1zM57 16h1v1h-1zM4 18h1v1h-1zM4 25h1v1h-1zM5 27h1v1h-1zM57 27h1v1h-1zM42 30h1v1h-1zM54 30h1v1h-1zM9 31h1v1h-1zM19 31h1v1h-1zM45 31h1v1h-1zM52 31h1v1h-1zM11 32h2v1h-2zM16 32h1v1h-1z"/>
<path fill="#dfff20" d="M13 11h3v1h-3zM10 12h1v1h-1zM18 12h1v1h-1zM46 12h2v1h-2zM49 12h3v1h-3zM8 13h1v1h-1zM20 13h1v1h-1zM43 13h1v1h-1zM53 13h1v1h-1zM7 14h1v1h-1zM41 14h1v1h-1zM55 14h1v1h-1zM6 15h1v1h-1zM56 15h1v1h-1zM24 17h1v1h-1zM4 19h1v1h-1zM4 20h1v1h-1zM4 23h1v1h-1zM4 24h1v1h-1zM24 26h1v1h-1zM6 28h1v1h-1zM56 28h1v1h-1zM7 29h1v1h-1zM41 29h1v1h-1zM55 29h1v1h-1zM8 30h1v1h-1zM20 30h1v1h-1zM43 30h1v1h-1zM53 30h1v1h-1zM10 31h1v1h-1zM18 31h1v1h-1zM46 31h2v1h-2zM49 31h3v1h-3zM13 32h3v1h-3z"/>
<path fill="#efff10" d="M48 12h1v1h-1zM52 13h1v1h-1zM40 15h1v1h-1zM23 16h1v1h-1zM39 16h1v1h-1zM5 17h1v1h-1zM57 17h1v1h-1zM4 21h1v1h-1zM4 22h1v1h-1zM5 26h1v1h-1zM57 26h1v1h-1zM23 27h1v1h-1zM39 27h1v1h-1zM40 28h1v1h-1zM52 30h1v1h-1zM48 31h1v1h-1z"/>
<path fill="#ffff00" d="M11 12h2v1h-2zM17 12h1v1h-1zM9 13h1v1h-1zM44 13h1v1h-1zM51 13h1v1h-1zM21 14h1v1h-1zM42 14h1v1h-1zM54 14h1v1h-1zM22 15h1v1h-1zM6 16h1v1h-1zM38 17h1v1h-1zM5 18h1v1h-1zM5 25h1v1h-1zM38 26h1v1h-1zM6 27h1v1h-1zM22 28h1v1h-1zM21 29h1v1h-1zM42 29h1v1h-1zM54 29h1v1h-1zM9 30h1v1h-1zM44 30h1v1h-1zM51 30h1v1h-1zM11 31h2v1h-2zM17 31h1v1h-1z"/>
<path fill="#ffef00" d="M13 12h4v1h-4zM10 13h1v1h-1zM19 13h1v1h-1zM45 13h2v1h-2zM50 13h1v1h-1zM8 14h1v1h-1zM53 14h1v1h-1zM7 15h1v1h-1zM55 15h1v1h-1zM56 16h1v1h-1zM5 19h1v1h-1zM5 20h1v1h-1zM5 23h1v1h-1zM5 24h1v1h-1zM56 27h1v1h-1zM7 28h1v1h-1zM55 28h1v1h-1zM8 29h1v1h-1zM53 29h1v1h-1zM10 30h1v1h-1zM19 30h1v1h-1zM45 30h2v1h-2zM50 30h1v1h-1zM13 31h4v1h-4z"/>
<path fill="#ffdf00" d="M18 13h1v1h-1zM47 13h3v1h-3zM20 14h1v1h-1zM43 14h1v1h-1zM52 14h1v1h-1zM41 15h1v1h-1zM6 17h1v1h-1zM5 21h1v1h-1zM5 22h1v1h-1zM6 26h1v1h-1zM41 28h1v1h-1zM20 29h1v1h-1zM43 29h1v1h-1zM52 29h1v1h-1zM18 30h1v1h-1zM47 30h3v1h-3z"/>
<path fill="#ffcf00" d="M11 13h1v1h-1zM17 13h1v1h-1zM9 14h1v1h-1zM44 14h1v1h-1zM8 15h1v1h-1zM21 15h1v1h-1zM54 15h1v1h-1zM7 16h1v1h-1zM40 16h1v1h-1zM23 17h1v1h-1zM6 18h1v1h-1zM6 25h1v1h-1zM23 26h1v1h-1zM7 27h1v1h-1zM40 27h1v1h-1zM8 28h1v1h-1zM21 28h1v1h-1zM54 28h1v1h-1zM9 29h1v1h-1zM44 29h1v1h-1zM11 30h1v1h-1zM17 30h1v1h-1z"/>
<path fill="#ffbf00" d="M12 13h1v1h-1zM16 13h1v1h-1zM19 14h1v1h-1zM45 14h1v1h-1zM50 14h2v1h-2zM42 15h1v1h-1zM53 15h1v1h-1zM22 16h1v1h-1zM55 16h1v1h-1zM39 17h1v1h-1zM56 17h1v1h-1zM6 19h1v1h-1zM6 24h1v1h-1zM39 26h1v1h-1zM56 26h1v1h-1zM22 27h1v1h-1zM55 27h1v1h-1zM42 28h1v1h-1zM53 28h1v1h-1zM19 29h1v1h-1zM45 29h1v1h-1zM50 29h2v1h-2zM12 30h1v1h-1zM16 30h1v1h-1z"/>
<path fill="#ffaf00" d="M13 13h3v1h-3zM10 14h1v1h-1zM46 14h4v1h-4zM7 17h1v1h-1zM6 20h1v1h-1zM6 21h1v1h-1zM6 22h1v1h-1zM6 23h1v1h-1zM7 26h1v1h-1zM10 29h1v1h-1zM46 29h4v1h-4zM13 30h3v1h-3z"/>
<path fill="#ff9f00" d="M11 14h1v1h-1zM18 14h1v1h-1zM9 15h1v1h-1zM20 15h1v1h-1zM43 15h1v1h-1zM52 15h1v1h-1zM8 16h1v1h-1zM41 16h1v1h-1zM54 16h1v1h-1zM7 18h1v1h-1zM7 25h1v1h-1zM8 27h1v1h-1zM41 27h1v1h-1zM54 27h1v1h-1zM9 28h1v1h-1zM20 28h1v1h-1zM43 28h1v1h-1zM52 28h1v1h-1zM11 29h1v1h-1zM18 29h1v1h-1z"/>
<path fill="#ff8f00" d="M44 15h1v1h-1zM51 15h1v1h-1zM53 16h1v1h-1zM40 17h1v1h-1zM40 26h1v1h-1zM53 27h1v1h-1zM44 28h1v1h-1zM51 28h1v1h-1z"/>
<path fill="#ff8000" d="M12 14h1v1h-1zM17 14h1v1h-1zM10 15h1v1h-1zM45 15h1v1h-1zM50 15h1v1h-1zM21 16h1v1h-1zM42 16h1v1h-1zM8 17h1v1h-1zM55 17h1v1h-1zM7 19h1v1h-1zM7 20h1v1h-1zM7 23h1v1h-1zM7 24h1v1h-1zM8 26h1v1h-1zM55 26h1v1h-1zM21 27h1v1h-1zM42 27h1v1h-1zM10 28h1v1h-1zM45 28h1v1h-1zM50 28h1v1h-1zM12 29h1v1h-1zM17 29h1v1h-1z"/>
<path fill="#ff7000" d="M13 14h4v1h-4zM19 15h1v1h-1zM46 15h4v1h-4zM9 16h1v1h-1zM52 16h1v1h-1zM22 17h1v1h-1zM7 21h1v1h-1zM7 22h1v1h-1zM22 26h1v1h-1zM9 27h1v1h-1zM52 27h1v1h-1zM19 28h1v1h-1zM46 28h4v1h-4zM13 29h4v1h-4z"/>
<path fill="#ff6000" d="M11 15h1v1h-1zM43 16h1v1h-1zM51 16h1v1h-1zM41 17h1v1h-1zM54 17h1v1h-1zM8 18h1v1h-1zM8 25h1v1h-1zM41 26h1v1h-1zM54 26h1v1h-1zM43 27h1v1h-1zM51 27h1v1h-1zM11 28h1v1h-1z"/>
<path fill="#ff5000" d="M18 15h1v1h-1zM20 16h1v1h-1zM53 17h1v1h-1zM53 26h1v1h-1zM20 27h1v1h-1zM18 28h1v1h-1z"/>
<path fill="#ff4000" d="M12 15h1v1h-1zM17 15h1v1h-1zM10 16h1v1h-1zM44 16h1v1h-1zM50 16h1v1h-1zM9 17h1v1h-1zM42 17h1v1h-1zM52 17h1v1h-1zM8 19h1v1h-1zM8 24h1v1h-1zM9 26h1v1h-1zM42 26h1v1h-1zM52 26h1v1h-1zM10 27h1v1h-1zM44 27h1v1h-1zM50 27h1v1h-1zM12 28h1v1h-1zM17 28h1v1h-1z"/>
<path fill="#ff3000" d="M13 15h1v1h-1zM16 15h1v1h-1zM45 16h1v1h-1zM49 16h1v1h-1zM21 17h1v1h-1zM8 20h1v1h-1zM8 21h1v1h-1zM8 22h1v1h-1zM8 23h1v1h-1zM21 26h1v1h-1zM45 27h1v1h-1zM49 27h1v1h-1zM13 28h1v1h-1zM16 28h1v1h-1z"/>
<path fill="#ff2000" d="M14 15h2v1h-2zM19 16h1v1h-1zM46 16h3v1h-3zM51 17h1v1h-1zM9 18h1v1h-1zM9 25h1v1h-1zM51 26h1v1h-1zM19 27h1v1h-1zM46 27h3v1h-3zM14 28h2v1h-2z"/>
<path fill="#ff1000" d="M11 16h1v1h-1zM43 17h1v1h-1zM50 17h1v1h-1zM43 26h1v1h-1zM50 26h1v1h-1zM11 27h1v1h-1z"/>
<path fill="#ff0000" d="M18 16h1v1h-1zM10 17h1v1h-1zM44 17h1v1h-1zM9 19h1v1h-1zM9 24h1v1h-1zM10 26h1v1h-1zM44 26h1v1h-1zM18 27h1v1h-1z"/>
<path fill="#ef0000" d="M12 16h1v1h-1zM17 16h1v1h-1zM20 17h1v1h-1zM49 17h1v1h-1zM9 20h1v1h-1zM9 23h1v1h-1zM20 26h1v1h-1zM49 26h1v1h-1zM12 27h1v1h-1zM17 27h1v1h-1z"/>
<path fill="#df0000" d="M13 16h1v1h-1zM16 16h1v1h-1zM45 17h1v1h-1zM48 17h1v1h-1zM9 21h1v1h-1zM9 22h1v1h-1zM45 26h1v1h-1zM48 26h1v1h-1zM13 27h1v1h-1zM16 27h1v1h-1z"/>
<path fill="#cf0000" d="M14 16h2v1h-2zM19 17h1v1h-1zM46 17h2v1h-2zM10 18h1v1h-1zM10 25h1v1h-1zM19 26h1v1h-1zM46 26h2v1h-2zM14 27h2v1h-2z"/>
<path fill="#bf0000" d="M11 17h1v1h-1zM11 26h1v1h-1z"/>
<path fill="#af0000" d="M18 17h1v1h-1zM10 19h1v1h-1zM10 24h1v1h-1zM18 26h1v1h-1z"/>
<path fill="#9f0000" d="M12 17h1v1h-1zM12 26h1v1h-1z"/>
<path fill="#8f0000" d="M17 17h1v1h-1zM10 20h1v1h-1zM10 21h1v1h-1zM10 22h1v1h-1zM10 23h1v1h-1zM17 26h1v1h-1z"/>
<path fill="#800000" d="M13 17h4v1h-4zM13 26h4v1h-4z"/>
</g>
<rect x="146.40" y="935.85" width="424.90" height="313.70" fill="none" stroke="#262626" stroke-width="1.2"/>
<g transform="translate(787.600 1057.052) scale(6.07000 7.12955)" shape-rendering="crispEdges">
<path fill="#00008f" d="M44 0h7v1h-7zM44 1h7v1h-7zM45 2h6v1h-6zM45 3h6v1h-6zM45 4h6v1h-6zM45 5h6v1h-6zM45 6h6v1h-6zM45 7h6v1h-6zM44 8h7v1h-7zM44 9h7v1h-7z"/>
<path fill="#00009f" d="M43 0h1v1h-1zM43 1h1v1h-1zM43 2h2v1h-2zM43 3h2v1h-2zM43 4h2v1h-2zM43 5h2v1h-2zM43 6h2v1h-2zM43 7h2v1h-2zM43 8h1v1h-1zM43 9h1v1h-1z"/>
<path fill="#0000af" d="M42 0h1v1h-1zM42 1h1v1h-1zM42 2h1v1h-1zM42 3h1v1h-1zM42 4h1v1h-1zM42 5h1v1h-1zM42 6h1v1h-1zM42 7h1v1h-1zM42 8h1v1h-1zM42 9h1v1h-1z"/>
<path fill="#0000bf" d="M40 0h2v1h-2zM41 1h1v1h-1zM41 2h1v1h-1zM41 3h1v1h-1zM41 4h1v1h-1zM41 5h1v1h-1zM41 6h1v1h-1zM41 7h1v1h-1zM41 8h1v1h-1zM40 9h2v1h-2z"/>
<path fill="#0000cf" d="M39 0h1v1h-1zM39 1h2v1h-2zM39 2h2v1h-2zM39 3h2v1h-2zM39 4h2v1h-2zM39 5h2v1h-2zM39 6h2v1h-2zM39 7h2v1h-2zM39 8h2v1h-2zM39 9h1v1h-1z"/>
<path fill="#0000df" d="M38 0h1v1h-1zM38 1h1v1h-1zM38 2h1v1h-1zM38 3h1v1h-1zM38 4h1v1h-1zM38 5h1v1h-1zM38 6h1v1h-1zM38 7h1v1h-1zM38 8h1v1h-1zM38 9h1v1h-1z"/>
<path fill="#0000ef" d="M37 0h1v1h-1zM37 1h1v1h-1zM37 2h1v1h-1zM37 3h1v1h-1zM37 4h1v1h-1zM37 5h1v1h-1zM37 6h1v1h-1zM37 7h1v1h-1zM37 8h1v1h-1zM37 9h1v1h-1z"/>
<path fill="#0000ff" d="M36 0h1v1h-1zM36 1h1v1h-1zM36 2h1v1h-1zM36 3h1v1h-1zM36 4h1v1h-1zM36 5h1v1h-1zM36 6h1v1h-1zM36 7h1v1h-1zM36 8h1v1h-1zM36 9h1v1h-1z"/>
<path fill="#0010ff" d="M35 0h1v1h-1zM35 1h1v1h-1zM35 2h1v1h-1zM35 3h1v1h-1zM35 4h1v1h-1zM35 5h1v1h-1zM35 6h1v1h-1zM35 7h1v1h-1zM35 8h1v1h-1zM35 9h1v1h-1z"/>
<path fill="#0020ff" d="M34 0h1v1h-1zM34 1h1v1h-1zM34 2h1v1h-1zM34 3h1v1h-1zM34 4h1v1h-1zM34 5h1v1h-1zM34 6h1v1h-1zM34 7h1v1h-1zM34 8h1v1h-1zM34 9h1v1h-1z"/>
<path fill="#0030ff" d="M33 0h1v1h-1zM33 9h1v1h-1z"/>
<path fill="#0040ff" d="M33 1h1v1h-1zM33 2h1v1h-1zM33 3h1v1h-1zM33 4h1v1h-1zM33 5h1v1h-1zM33 6h1v1h-1zM33 7h1v1h-1zM33 8h1v1h-1z"/>
<path fill="#0050ff" d="M32 0h1v1h-1zM32 1h1v1h-1zM32 2h1v1h-1zM32 3h1v1h-1zM32 4h1v1h-1zM32 5h1v1h-1zM32 6h1v1h-1zM32 7h1v1h-1zM32 8h1v1h-1zM32 9h1v1h-1z"/>
<path fill="#0070ff" d="M31 0h1v1h-1zM31 1h1v1h-1zM31 2h1v1h-1zM31 3h1v1h-1zM31 4h1v1h-1zM31 5h1v1h-1zM31 6h1v1h-1zM31 7h1v1h-1zM31 8h1v1h-1zM31 9h1v1h-1z"/>
<path fill="#0080ff" d="M30 0h1v1h-1zM30 9h1v1h-1z"/>
<path fill="#008fff" d="M30 1h1v1h-1zM30 2h1v1h-1zM30 3h1v1h-1zM30 4h1v1h-1zM30 5h1v1h-1zM30 6h1v1h-1zM30 7h1v1h-1zM30 8h1v1h-1z"/>
<path fill="#009fff" d="M29 0h1v1h-1zM29 1h1v1h-1zM29 2h1v1h-1zM29 3h1v1h-1zM29 4h1v1h-1zM29 5h1v1h-1zM29 6h1v1h-1zM29 7h1v1h-1zM29 8h1v1h-1zM29 9h1v1h-1z"/>
<path fill="#00bfff" d="M28 0h1v1h-1zM28 9h1v1h-1z"/>
<path fill="#00cfff" d="M28 1h1v1h-1zM28 2h1v1h-1zM28 3h1v1h-1zM28 4h1v1h-1zM28 5h1v1h-1zM28 6h1v1h-1zM28 7h1v1h-1zM28 8h1v1h-1z"/>
<path fill="#00efff" d="M27 0h1v1h-1zM27 1h1v1h-1zM27 2h1v1h-1zM27 3h1v1h-1zM27 4h1v1h-1zM27 5h1v1h-1zM27 6h1v1h-1zM27 7h1v1h-1zM27 8h1v1h-1zM27 9h1v1h-1z"/>
<path fill="#00ffff" d="M26 0h1v1h-1zM26 9h1v1h-1z"/>
<path fill="#10ffef" d="M26 1h1v1h-1zM26 2h1v1h-1zM26 3h1v1h-1zM26 4h1v1h-1zM26 5h1v1h-1zM26 6h1v1h-1zM26 7h1v1h-1zM26 8h1v1h-1z"/>
<path fill="#20ffdf" d="M25 0h1v1h-1zM25 1h1v1h-1zM25 2h1v1h-1zM25 3h1v1h-1zM25 4h1v1h-1zM25 5h1v1h-1zM25 6h1v1h-1zM25 7h1v1h-1zM25 8h1v1h-1zM25 9h1v1h-1z"/>
<path fill="#40ffbf" d="M24 0h1v1h-1zM24 1h1v1h-1zM24 2h1v1h-1zM24 3h1v1h-1zM24 4h1v1h-1zM24 5h1v1h-1zM24 6h1v1h-1zM24 7h1v1h-1zM24 8h1v1h-1zM24 9h1v1h-1z"/>
<path fill="#60ff9f" d="M23 0h1v1h-1zM23 1h1v1h-1zM23 2h1v1h-1zM23 3h1v1h-1zM23 4h1v1h-1zM23 5h1v1h-1zM23 6h1v1h-1zM23 7h1v1h-1zM23 8h1v1h-1zM23 9h1v1h-1z"/>
<path fill="#80ff80" d="M22 0h1v1h-1zM22 1h1v1h-1zM22 2h1v1h-1zM22 3h1v1h-1zM22 4h1v1h-1zM22 5h1v1h-1zM22 6h1v1h-1zM22 7h1v1h-1zM22 8h1v1h-1zM22 9h1v1h-1z"/>
<path fill="#9fff60" d="M21 0h1v1h-1zM21 1h1v1h-1zM21 2h1v1h-1zM21 3h1v1h-1zM21 4h1v1h-1zM21 5h1v1h-1zM21 6h1v1h-1zM21 7h1v1h-1zM21 8h1v1h-1zM21 9h1v1h-1z"/>
<path fill="#bfff40" d="M20 0h1v1h-1zM20 1h1v1h-1zM20 2h1v1h-1zM20 3h1v1h-1zM20 4h1v1h-1zM20 5h1v1h-1zM20 6h1v1h-1zM20 7h1v1h-1zM20 8h1v1h-1zM20 9h1v1h-1z"/>
<path fill="#dfff20" d="M19 0h1v1h-1zM19 1h1v1h-1zM19 2h1v1h-1zM19 3h1v1h-1zM19 4h1v1h-1zM19 5h1v1h-1zM19 6h1v1h-1zM19 7h1v1h-1zM19 8h1v1h-1zM19 9h1v1h-1z"/>
<path fill="#ffff00" d="M18 0h1v1h-1zM18 1h1v1h-1zM18 2h1v1h-1zM18 3h1v1h-1zM18 4h1v1h-1zM18 5h1v1h-1zM18 6h1v1h-1zM18 7h1v1h-1zM18 8h1v1h-1zM18 9h1v1h-1z"/>
<path fill="#ffdf00" d="M17 0h1v1h-1zM17 1h1v1h-1zM17 2h1v1h-1zM17 3h1v1h-1zM17 4h1v1h-1zM17 5h1v1h-1zM17 6h1v1h-1zM17 7h1v1h-1zM17 8h1v1h-1zM17 9h1v1h-1z"/>
<path fill="#ffbf00" d="M16 0h1v1h-1zM16 1h1v1h-1zM16 2h1v1h-1zM16 3h1v1h-1zM16 4h1v1h-1zM16 5h1v1h-1zM16 6h1v1h-1zM16 7h1v1h-1zM16 8h1v1h-1zM16 9h1v1h-1z"/>
<path fill="#ff9f00" d="M15 0h1v1h-1zM15 1h1v1h-1zM15 2h1v1h-1zM15 3h1v1h-1zM15 4h1v1h-1zM15 5h1v1h-1zM15 6h1v1h-1zM15 7h1v1h-1zM15 8h1v1h-1zM15 9h1v1h-1z"/>
<path fill="#ff8000" d="M14 0h1v1h-1zM14 1h1v1h-1zM14 2h1v1h-1zM14 3h1v1h-1zM14 4h1v1h-1zM14 5h1v1h-1zM14 6h1v1h-1zM14 7h1v1h-1zM14 8h1v1h-1zM14 9h1v1h-1z"/>
<path fill="#ff6000" d="M13 0h1v1h-1zM13 1h1v1h-1zM13 2h1v1h-1zM13 3h1v1h-1zM13 4h1v1h-1zM13 5h1v1h-1zM13 6h1v1h-1zM13 7h1v1h-1zM13 8h1v1h-1zM13 9h1v1h-1z"/>
<path fill="#ff4000" d="M12 0h1v1h-1zM12 1h1v1h-1zM12 2h1v1h-1zM12 3h1v1h-1zM12 4h1v1h-1zM12 5h1v1h-1zM12 6h1v1h-1zM12 7h1v1h-1zM12 8h1v1h-1zM12 9h1v1h-1z"/>
<path fill="#ff3000" d="M11 4h1v1h-1zM11 5h1v1h-1z"/>
<path fill="#ff2000" d="M11 0h1v1h-1zM11 1h1v1h-1zM11 2h1v1h-1zM11 3h1v1h-1zM11 6h1v1h-1zM11 7h1v1h-1zM11 8h1v1h-1zM11 9h1v1h-1z"/>
<path fill="#ff1000" d="M10 1h1v1h-1zM10 2h1v1h-1zM10 3h1v1h-1zM10 4h1v1h-1zM10 5h1v1h-1zM10 6h1v1h-1zM10 7h1v1h-1zM10 8h1v1h-1z"/>
<path fill="#ff0000" d="M10 0h1v1h-1zM9 2h1v1h-1zM9 3h1v1h-1zM9 4h1v1h-1zM9 5h1v1h-1zM9 6h1v1h-1zM9 7h1v1h-1zM10 9h1v1h-1z"/>
<path fill="#ef0000" d="M9 0h1v1h-1zM9 1h1v1h-1zM8 2h1v1h-1zM8 3h1v1h-1zM8 4h1v1h-1zM8 5h1v1h-1zM8 6h1v1h-1zM8 7h1v1h-1zM9 8h1v1h-1zM9 9h1v1h-1z"/>
<path fill="#df0000" d="M8 0h1v1h-1zM7 1h2v1h-2zM7 2h1v1h-1zM7 3h1v1h-1zM7 4h1v1h-1zM7 5h1v1h-1zM7 6h1v1h-1zM7 7h1v1h-1zM7 8h2v1h-2zM8 9h1v1h-1z"/>
<path fill="#cf0000" d="M7 0h1v1h-1zM6 1h1v1h-1zM6 2h1v1h-1zM6 3h1v1h-1zM6 4h1v1h-1zM6 5h1v1h-1zM6 6h1v1h-1zM6 7h1v1h-1zM6 8h1v1h-1zM7 9h1v1h-1z"/>
<path fill="#bf0000" d="M6 0h1v1h-1zM5 1h1v1h-1zM5 2h1v1h-1zM5 3h1v1h-1zM5 4h1v1h-1zM5 5h1v1h-1zM5 6h1v1h-1zM5 7h1v1h-1zM5 8h1v1h-1zM6 9h1v1h-1z"/>
<path fill="#af0000" d="M5 0h1v1h-1zM4 1h1v1h-1zM4 2h1v1h-1zM4 3h1v1h-1zM4 4h1v1h-1zM4 5h1v1h-1zM4 6h1v1h-1zM4 7h1v1h-1zM4 8h1v1h-1zM5 9h1v1h-1z"/>
<path fill="#9f0000" d="M4 0h1v1h-1zM3 1h1v1h-1zM3 2h1v1h-1zM3 3h1v1h-1zM3 4h1v1h-1zM3 5h1v1h-1zM3 6h1v1h-1zM3 7h1v1h-1zM3 8h1v1h-1zM4 9h1v1h-1z"/>
<path fill="#8f0000" d="M3 0h1v1h-1zM1 1h2v1h-2zM0 2h3v1h-3zM0 3h3v1h-3zM0 4h3v1h-3zM0 5h3v1h-3zM0 6h3v1h-3zM0 7h3v1h-3zM1 8h2v1h-2zM3 9h1v1h-1z"/>
<path fill="#800000" d="M0 0h3v1h-3zM0 1h1v1h-1zM0 8h1v1h-1zM0 9h3v1h-3z"/>
</g>
<rect x="726.90" y="935.85" width="423.60" height="313.70" fill="none" stroke="#1e1e1e" stroke-width="1.6"/>
<path d="M817.95 1249.55v-5M817.95 935.85v5M969.70 1249.55v-5M969.70 935.85v5M1121.45 1249.55v-5M1121.45 935.85v5M726.90 1185.38h5M1150.50 1185.38h-5M726.90 1114.09h5M1150.50 1114.09h-5M726.90 1042.79h5M1150.50 1042.79h-5M726.90 971.50h5M1150.50 971.50h-5" stroke="#1e1e1e" stroke-width="1.6" fill="none"/>
<text x="100.77 118.29" y="980.55" font-size="31.50" font-family='"Liberation Sans", sans-serif'>00</text>
<path transform="translate(83.26 980.55) scale(31.500)" d="M0.342 0L0.342 -0.703L0.273 -0.703C0.258 -0.632 0.200 -0.582 0.094 -0.575L0.094 -0.506L0.257 -0.506L0.257 0Z"/>
<text x="100.77 118.29" y="1051.84" font-size="31.50" font-family='"Liberation Sans", sans-serif'>80</text>
<text x="100.77 118.29" y="1123.14" font-size="31.50" font-family='"Liberation Sans", sans-serif'>60</text>
<text x="100.77 118.29" y="1194.43" font-size="31.50" font-family='"Liberation Sans", sans-serif'>40</text>
<g transform="translate(29.5 1093.50) rotate(-90) scale(1 1.0)">
<text x="0.00" y="0.00" font-size="36.20" text-anchor="middle" font-weight="bold" font-style="normal" font-family='"Liberation Sans", sans-serif' >Difference</text>
</g>
<g transform="translate(68.6 1092.70) rotate(-90)">
<text y="0" font-size="31.50" font-family='"Liberation Sans", sans-serif'><tspan x="-47.56">y</tspan><tspan x="-22.10">(</tspan><tspan x="10.86">m</tspan><tspan x="40.50">)</tspan></text>
<g transform="translate(-9.80 0.00)" fill="none" stroke="#000" stroke-linecap="round">
<path d="M6.3 -13.2L1.0 6.0M15.5 -13.2L12.4 -1.6" stroke-width="2.3"/>
<path d="M4.3 -2.2C4.9 0.8 9.9 1.2 12.4 -1.8M12.4 -1.8C12.8 1.2 16.2 0.6 17.9 -4.1" stroke-width="1.1"/>
</g>
</g>
<g shape-rendering="crispEdges">
<rect x="590.50" y="1244.59" width="40.80" height="5.21" fill="#00008f"/>
<rect x="590.50" y="1239.67" width="40.80" height="5.21" fill="#00009f"/>
<rect x="590.50" y="1234.76" width="40.80" height="5.21" fill="#0000af"/>
<rect x="590.50" y="1229.85" width="40.80" height="5.21" fill="#0000bf"/>
<rect x="590.50" y="1224.94" width="40.80" height="5.21" fill="#0000cf"/>
<rect x="590.50" y="1220.03" width="40.80" height="5.21" fill="#0000df"/>
<rect x="590.50" y="1215.11" width="40.80" height="5.21" fill="#0000ef"/>
<rect x="590.50" y="1210.20" width="40.80" height="5.21" fill="#0000ff"/>
<rect x="590.50" y="1205.29" width="40.80" height="5.21" fill="#0010ff"/>
<rect x="590.50" y="1200.38" width="40.80" height="5.21" fill="#0020ff"/>
<rect x="590.50" y="1195.46" width="40.80" height="5.21" fill="#0030ff"/>
<rect x="590.50" y="1190.55" width="40.80" height="5.21" fill="#0040ff"/>
<rect x="590.50" y="1185.64" width="40.80" height="5.21" fill="#0050ff"/>
<rect x="590.50" y="1180.72" width="40.80" height="5.21" fill="#0060ff"/>
<rect x="590.50" y="1175.81" width="40.80" height="5.21" fill="#0070ff"/>
<rect x="590.50" y="1170.90" width="40.80" height="5.21" fill="#0080ff"/>
<rect x="590.50" y="1165.99" width="40.80" height="5.21" fill="#008fff"/>
<rect x="590.50" y="1161.08" width="40.80" height="5.21" fill="#009fff"/>
<rect x="590.50" y="1156.16" width="40.80" height="5.21" fill="#00afff"/>
<rect x="590.50" y="1151.25" width="40.80" height="5.21" fill="#00bfff"/>
<rect x="590.50" y="1146.34" width="40.80" height="5.21" fill="#00cfff"/>
<rect x="590.50" y="1141.42" width="40.80" height="5.21" fill="#00dfff"/>
<rect x="590.50" y="1136.51" width="40.80" height="5.21" fill="#00efff"/>
<rect x="590.50" y="1131.60" width="40.80" height="5.21" fill="#00ffff"/>
<rect x="590.50" y="1126.69" width="40.80" height="5.21" fill="#10ffef"/>
<rect x="590.50" y="1121.78" width="40.80" height="5.21" fill="#20ffdf"/>
<rect x="590.50" y="1116.86" width="40.80" height="5.21" fill="#30ffcf"/>
<rect x="590.50" y="1111.95" width="40.80" height="5.21" fill="#40ffbf"/>
<rect x="590.50" y="1107.04" width="40.80" height="5.21" fill="#50ffaf"/>
<rect x="590.50" y="1102.12" width="40.80" height="5.21" fill="#60ff9f"/>
<rect x="590.50" y="1097.21" width="40.80" height="5.21" fill="#70ff8f"/>
<rect x="590.50" y="1092.30" width="40.80" height="5.21" fill="#80ff80"/>
<rect x="590.50" y="1087.39" width="40.80" height="5.21" fill="#8fff70"/>
<rect x="590.50" y="1082.47" width="40.80" height="5.21" fill="#9fff60"/>
<rect x="590.50" y="1077.56" width="40.80" height="5.21" fill="#afff50"/>
<rect x="590.50" y="1072.65" width="40.80" height="5.21" fill="#bfff40"/>
<rect x="590.50" y="1067.74" width="40.80" height="5.21" fill="#cfff30"/>
<rect x="590.50" y="1062.83" width="40.80" height="5.21" fill="#dfff20"/>
<rect x="590.50" y="1057.91" width="40.80" height="5.21" fill="#efff10"/>
<rect x="590.50" y="1053.00" width="40.80" height="5.21" fill="#ffff00"/>
<rect x="590.50" y="1048.09" width="40.80" height="5.21" fill="#ffef00"/>
<rect x="590.50" y="1043.17" width="40.80" height="5.21" fill="#ffdf00"/>
<rect x="590.50" y="1038.26" width="40.80" height="5.21" fill="#ffcf00"/>
<rect x="590.50" y="1033.35" width="40.80" height="5.21" fill="#ffbf00"/>
<rect x="590.50" y="1028.44" width="40.80" height="5.21" fill="#ffaf00"/>
<rect x="590.50" y="1023.52" width="40.80" height="5.21" fill="#ff9f00"/>
<rect x="590.50" y="1018.61" width="40.80" height="5.21" fill="#ff8f00"/>
<rect x="590.50" y="1013.70" width="40.80" height="5.21" fill="#ff8000"/>
<rect x="590.50" y="1008.79" width="40.80" height="5.21" fill="#ff7000"/>
<rect x="590.50" y="1003.88" width="40.80" height="5.21" fill="#ff6000"/>
<rect x="590.50" y="998.96" width="40.80" height="5.21" fill="#ff5000"/>
<rect x="590.50" y="994.05" width="40.80" height="5.21" fill="#ff4000"/>
<rect x="590.50" y="989.14" width="40.80" height="5.21" fill="#ff3000"/>
<rect x="590.50" y="984.23" width="40.80" height="5.21" fill="#ff2000"/>
<rect x="590.50" y="979.31" width="40.80" height="5.21" fill="#ff1000"/>
<rect x="590.50" y="974.40" width="40.80" height="5.21" fill="#ff0000"/>
<rect x="590.50" y="969.49" width="40.80" height="5.21" fill="#ef0000"/>
<rect x="590.50" y="964.58" width="40.80" height="5.21" fill="#df0000"/>
<rect x="590.50" y="959.66" width="40.80" height="5.21" fill="#cf0000"/>
<rect x="590.50" y="954.75" width="40.80" height="5.21" fill="#bf0000"/>
<rect x="590.50" y="949.84" width="40.80" height="5.21" fill="#af0000"/>
<rect x="590.50" y="944.92" width="40.80" height="5.21" fill="#9f0000"/>
<rect x="590.50" y="940.01" width="40.80" height="5.21" fill="#8f0000"/>
<rect x="590.50" y="935.10" width="40.80" height="4.91" fill="#800000"/>
</g>
<rect x="590.50" y="935.10" width="40.80" height="314.40" fill="none" stroke="#1e1e1e" stroke-width="1.5"/>
<g shape-rendering="crispEdges">
<rect x="1171.10" y="1244.78" width="40.70" height="5.22" fill="#00008f"/>
<rect x="1171.10" y="1239.86" width="40.70" height="5.22" fill="#00009f"/>
<rect x="1171.10" y="1234.93" width="40.70" height="5.22" fill="#0000af"/>
<rect x="1171.10" y="1230.01" width="40.70" height="5.22" fill="#0000bf"/>
<rect x="1171.10" y="1225.09" width="40.70" height="5.22" fill="#0000cf"/>
<rect x="1171.10" y="1220.17" width="40.70" height="5.22" fill="#0000df"/>
<rect x="1171.10" y="1215.25" width="40.70" height="5.22" fill="#0000ef"/>
<rect x="1171.10" y="1210.33" width="40.70" height="5.22" fill="#0000ff"/>
<rect x="1171.10" y="1205.40" width="40.70" height="5.22" fill="#0010ff"/>
<rect x="1171.10" y="1200.48" width="40.70" height="5.22" fill="#0020ff"/>
<rect x="1171.10" y="1195.56" width="40.70" height="5.22" fill="#0030ff"/>
<rect x="1171.10" y="1190.64" width="40.70" height="5.22" fill="#0040ff"/>
<rect x="1171.10" y="1185.72" width="40.70" height="5.22" fill="#0050ff"/>
<rect x="1171.10" y="1180.79" width="40.70" height="5.22" fill="#0060ff"/>
<rect x="1171.10" y="1175.87" width="40.70" height="5.22" fill="#0070ff"/>
<rect x="1171.10" y="1170.95" width="40.70" height="5.22" fill="#0080ff"/>
<rect x="1171.10" y="1166.03" width="40.70" height="5.22" fill="#008fff"/>
<rect x="1171.10" y="1161.11" width="40.70" height="5.22" fill="#009fff"/>
<rect x="1171.10" y="1156.18" width="40.70" height="5.22" fill="#00afff"/>
<rect x="1171.10" y="1151.26" width="40.70" height="5.22" fill="#00bfff"/>
<rect x="1171.10" y="1146.34" width="40.70" height="5.22" fill="#00cfff"/>
<rect x="1171.10" y="1141.42" width="40.70" height="5.22" fill="#00dfff"/>
<rect x="1171.10" y="1136.50" width="40.70" height="5.22" fill="#00efff"/>
<rect x="1171.10" y="1131.58" width="40.70" height="5.22" fill="#00ffff"/>
<rect x="1171.10" y="1126.65" width="40.70" height="5.22" fill="#10ffef"/>
<rect x="1171.10" y="1121.73" width="40.70" height="5.22" fill="#20ffdf"/>
<rect x="1171.10" y="1116.81" width="40.70" height="5.22" fill="#30ffcf"/>
<rect x="1171.10" y="1111.89" width="40.70" height="5.22" fill="#40ffbf"/>
<rect x="1171.10" y="1106.97" width="40.70" height="5.22" fill="#50ffaf"/>
<rect x="1171.10" y="1102.04" width="40.70" height="5.22" fill="#60ff9f"/>
<rect x="1171.10" y="1097.12" width="40.70" height="5.22" fill="#70ff8f"/>
<rect x="1171.10" y="1092.20" width="40.70" height="5.22" fill="#80ff80"/>
<rect x="1171.10" y="1087.28" width="40.70" height="5.22" fill="#8fff70"/>
<rect x="1171.10" y="1082.36" width="40.70" height="5.22" fill="#9fff60"/>
<rect x="1171.10" y="1077.43" width="40.70" height="5.22" fill="#afff50"/>
<rect x="1171.10" y="1072.51" width="40.70" height="5.22" fill="#bfff40"/>
<rect x="1171.10" y="1067.59" width="40.70" height="5.22" fill="#cfff30"/>
<rect x="1171.10" y="1062.67" width="40.70" height="5.22" fill="#dfff20"/>
<rect x="1171.10" y="1057.75" width="40.70" height="5.22" fill="#efff10"/>
<rect x="1171.10" y="1052.83" width="40.70" height="5.22" fill="#ffff00"/>
<rect x="1171.10" y="1047.90" width="40.70" height="5.22" fill="#ffef00"/>
<rect x="1171.10" y="1042.98" width="40.70" height="5.22" fill="#ffdf00"/>
<rect x="1171.10" y="1038.06" width="40.70" height="5.22" fill="#ffcf00"/>
<rect x="1171.10" y="1033.14" width="40.70" height="5.22" fill="#ffbf00"/>
<rect x="1171.10" y="1028.22" width="40.70" height="5.22" fill="#ffaf00"/>
<rect x="1171.10" y="1023.29" width="40.70" height="5.22" fill="#ff9f00"/>
<rect x="1171.10" y="1018.37" width="40.70" height="5.22" fill="#ff8f00"/>
<rect x="1171.10" y="1013.45" width="40.70" height="5.22" fill="#ff8000"/>
<rect x="1171.10" y="1008.53" width="40.70" height="5.22" fill="#ff7000"/>
<rect x="1171.10" y="1003.61" width="40.70" height="5.22" fill="#ff6000"/>
<rect x="1171.10" y="998.68" width="40.70" height="5.22" fill="#ff5000"/>
<rect x="1171.10" y="993.76" width="40.70" height="5.22" fill="#ff4000"/>
<rect x="1171.10" y="988.84" width="40.70" height="5.22" fill="#ff3000"/>
<rect x="1171.10" y="983.92" width="40.70" height="5.22" fill="#ff2000"/>
<rect x="1171.10" y="979.00" width="40.70" height="5.22" fill="#ff1000"/>
<rect x="1171.10" y="974.08" width="40.70" height="5.22" fill="#ff0000"/>
<rect x="1171.10" y="969.15" width="40.70" height="5.22" fill="#ef0000"/>
<rect x="1171.10" y="964.23" width="40.70" height="5.22" fill="#df0000"/>
<rect x="1171.10" y="959.31" width="40.70" height="5.22" fill="#cf0000"/>
<rect x="1171.10" y="954.39" width="40.70" height="5.22" fill="#bf0000"/>
<rect x="1171.10" y="949.47" width="40.70" height="5.22" fill="#af0000"/>
<rect x="1171.10" y="944.54" width="40.70" height="5.22" fill="#9f0000"/>
<rect x="1171.10" y="939.62" width="40.70" height="5.22" fill="#8f0000"/>
<rect x="1171.10" y="934.70" width="40.70" height="4.92" fill="#800000"/>
</g>
<rect x="1171.10" y="934.70" width="40.70" height="315.00" fill="none" stroke="#1e1e1e" stroke-width="1.5"/>
<path d="M631.30 74.10h-4M631.30 173.50h-4M631.30 273.20h-4M631.30 372.30h-4" stroke="#262626" stroke-width="1.3" fill="none"/>
<text x="640.60" y="81.90" font-size="28.35" font-family='"Liberation Sans", sans-serif'>2</text>
<text x="640.60" y="181.30" font-size="28.35" font-family='"Liberation Sans", sans-serif'>0</text>
<text x="640.60 650.04" y="281.00" font-size="28.35" font-family='"Liberation Sans", sans-serif'>-2</text>
<text x="640.60 650.04" y="380.10" font-size="28.35" font-family='"Liberation Sans", sans-serif'>-4</text>
<path d="M631.30 509.10h-4M631.30 608.50h-4M631.30 708.20h-4M631.30 807.30h-4" stroke="#262626" stroke-width="1.3" fill="none"/>
<text x="640.60" y="516.90" font-size="28.35" font-family='"Liberation Sans", sans-serif'>2</text>
<text x="640.60" y="616.30" font-size="28.35" font-family='"Liberation Sans", sans-serif'>0</text>
<text x="640.60 650.04" y="716.00" font-size="28.35" font-family='"Liberation Sans", sans-serif'>-2</text>
<text x="640.60 650.04" y="815.10" font-size="28.35" font-family='"Liberation Sans", sans-serif'>-4</text>
<path d="M631.30 936.90h-4M631.30 1014.90h-4M631.30 1092.90h-4M631.30 1170.90h-4M631.30 1248.90h-4" stroke="#262626" stroke-width="1.3" fill="none"/>
<text x="640.60" y="944.70" font-size="28.35" font-family='"Liberation Sans", sans-serif'>8</text>
<text x="640.60" y="1022.70" font-size="28.35" font-family='"Liberation Sans", sans-serif'>6</text>
<text x="640.60" y="1100.70" font-size="28.35" font-family='"Liberation Sans", sans-serif'>4</text>
<text x="640.60" y="1178.70" font-size="28.35" font-family='"Liberation Sans", sans-serif'>2</text>
<text x="640.60" y="1256.70" font-size="28.35" font-family='"Liberation Sans", sans-serif'>0</text>
<path d="M1211.80 94.40h-4M1211.80 149.20h-4M1211.80 203.90h-4M1211.80 258.60h-4M1211.80 313.30h-4M1211.80 368.00h-4" stroke="#262626" stroke-width="1.3" fill="none"/>
<text x="1221.00 1246.20 1261.97 1285.61" y="102.20" font-size="28.35" font-family='"Liberation Sans", sans-serif'>-3.5</text>
<path transform="translate(1230.44 102.20) scale(28.350)" d="M0.342 0L0.342 -0.703L0.273 -0.703C0.258 -0.632 0.200 -0.582 0.094 -0.575L0.094 -0.506L0.257 -0.506L0.257 0Z"/>
<path transform="translate(1269.85 102.20) scale(28.350)" d="M0.342 0L0.342 -0.703L0.273 -0.703C0.258 -0.632 0.200 -0.582 0.094 -0.575L0.094 -0.506L0.257 -0.506L0.257 0Z"/>
<text x="1221.00 1246.20 1261.97 1269.85" y="157.00" font-size="28.35" font-family='"Liberation Sans", sans-serif'>-3.2</text>
<path transform="translate(1230.44 157.00) scale(28.350)" d="M0.342 0L0.342 -0.703L0.273 -0.703C0.258 -0.632 0.200 -0.582 0.094 -0.575L0.094 -0.506L0.257 -0.506L0.257 0Z"/>
<text x="1221.00 1246.20 1261.97 1269.85 1285.61" y="211.70" font-size="28.35" font-family='"Liberation Sans", sans-serif'>-3.25</text>
<path transform="translate(1230.44 211.70) scale(28.350)" d="M0.342 0L0.342 -0.703L0.273 -0.703C0.258 -0.632 0.200 -0.582 0.094 -0.575L0.094 -0.506L0.257 -0.506L0.257 0Z"/>
<text x="1221.00 1246.20 1261.97 1269.85" y="266.40" font-size="28.35" font-family='"Liberation Sans", sans-serif'>-3.3</text>
<path transform="translate(1230.44 266.40) scale(28.350)" d="M0.342 0L0.342 -0.703L0.273 -0.703C0.258 -0.632 0.200 -0.582 0.094 -0.575L0.094 -0.506L0.257 -0.506L0.257 0Z"/>
<text x="1221.00 1246.20 1261.97 1269.85 1285.61" y="321.10" font-size="28.35" font-family='"Liberation Sans", sans-serif'>-3.35</text>
<path transform="translate(1230.44 321.10) scale(28.350)" d="M0.342 0L0.342 -0.703L0.273 -0.703C0.258 -0.632 0.200 -0.582 0.094 -0.575L0.094 -0.506L0.257 -0.506L0.257 0Z"/>
<text x="1221.00 1246.20 1261.97 1269.85" y="375.80" font-size="28.35" font-family='"Liberation Sans", sans-serif'>-3.4</text>
<path transform="translate(1230.44 375.80) scale(28.350)" d="M0.342 0L0.342 -0.703L0.273 -0.703C0.258 -0.632 0.200 -0.582 0.094 -0.575L0.094 -0.506L0.257 -0.506L0.257 0Z"/>
<path d="M1211.80 512.90h-4M1211.80 567.40h-4M1211.80 622.10h-4M1211.80 676.60h-4M1211.80 731.30h-4M1211.80 786.10h-4" stroke="#262626" stroke-width="1.3" fill="none"/>
<text x="1221.00 1246.20 1261.97 1285.61" y="520.70" font-size="28.35" font-family='"Liberation Sans", sans-serif'>-3.5</text>
<path transform="translate(1230.44 520.70) scale(28.350)" d="M0.342 0L0.342 -0.703L0.273 -0.703C0.258 -0.632 0.200 -0.582 0.094 -0.575L0.094 -0.506L0.257 -0.506L0.257 0Z"/>
<path transform="translate(1269.85 520.70) scale(28.350)" d="M0.342 0L0.342 -0.703L0.273 -0.703C0.258 -0.632 0.200 -0.582 0.094 -0.575L0.094 -0.506L0.257 -0.506L0.257 0Z"/>
<text x="1221.00 1246.20 1261.97 1269.85" y="575.20" font-size="28.35" font-family='"Liberation Sans", sans-serif'>-3.2</text>
<path transform="translate(1230.44 575.20) scale(28.350)" d="M0.342 0L0.342 -0.703L0.273 -0.703C0.258 -0.632 0.200 -0.582 0.094 -0.575L0.094 -0.506L0.257 -0.506L0.257 0Z"/>
<text x="1221.00 1246.20 1261.97 1269.85 1285.61" y="629.90" font-size="28.35" font-family='"Liberation Sans", sans-serif'>-3.25</text>
<path transform="translate(1230.44 629.90) scale(28.350)" d="M0.342 0L0.342 -0.703L0.273 -0.703C0.258 -0.632 0.200 -0.582 0.094 -0.575L0.094 -0.506L0.257 -0.506L0.257 0Z"/>
<text x="1221.00 1246.20 1261.97 1269.85" y="684.40" font-size="28.35" font-family='"Liberation Sans", sans-serif'>-3.3</text>
<path transform="translate(1230.44 684.40) scale(28.350)" d="M0.342 0L0.342 -0.703L0.273 -0.703C0.258 -0.632 0.200 -0.582 0.094 -0.575L0.094 -0.506L0.257 -0.506L0.257 0Z"/>
<text x="1221.00 1246.20 1261.97 1269.85 1285.61" y="739.10" font-size="28.35" font-family='"Liberation Sans", sans-serif'>-3.35</text>
<path transform="translate(1230.44 739.10) scale(28.350)" d="M0.342 0L0.342 -0.703L0.273 -0.703C0.258 -0.632 0.200 -0.582 0.094 -0.575L0.094 -0.506L0.257 -0.506L0.257 0Z"/>
<text x="1221.00 1246.20 1261.97 1269.85" y="793.90" font-size="28.35" font-family='"Liberation Sans", sans-serif'>-3.4</text>
<path transform="translate(1230.44 793.90) scale(28.350)" d="M0.342 0L0.342 -0.703L0.273 -0.703C0.258 -0.632 0.200 -0.582 0.094 -0.575L0.094 -0.506L0.257 -0.506L0.257 0Z"/>
<path d="M1211.80 992.90h-4M1211.80 1070.80h-4M1211.80 1148.70h-4M1211.80 1226.80h-4" stroke="#262626" stroke-width="1.3" fill="none"/>
<text x="1221.00 1236.76 1244.64 1276.17 1291.93" y="1000.70" font-size="28.35" font-family='"Liberation Sans", sans-serif'>0.060</text>
<path transform="translate(1260.41 1000.70) scale(28.350)" d="M0.342 0L0.342 -0.703L0.273 -0.703C0.258 -0.632 0.200 -0.582 0.094 -0.575L0.094 -0.506L0.257 -0.506L0.257 0Z"/>
<text x="1221.00 1236.76 1244.64 1276.17 1291.93" y="1078.60" font-size="28.35" font-family='"Liberation Sans", sans-serif'>0.059</text>
<path transform="translate(1260.41 1078.60) scale(28.350)" d="M0.342 0L0.342 -0.703L0.273 -0.703C0.258 -0.632 0.200 -0.582 0.094 -0.575L0.094 -0.506L0.257 -0.506L0.257 0Z"/>
<text x="1221.00 1236.76 1244.64 1276.17 1291.93" y="1156.50" font-size="28.35" font-family='"Liberation Sans", sans-serif'>0.059</text>
<path transform="translate(1260.41 1156.50) scale(28.350)" d="M0.342 0L0.342 -0.703L0.273 -0.703C0.258 -0.632 0.200 -0.582 0.094 -0.575L0.094 -0.506L0.257 -0.506L0.257 0Z"/>
<text x="1221.00 1236.76 1244.64 1276.17 1291.93" y="1234.60" font-size="28.35" font-family='"Liberation Sans", sans-serif'>0.059</text>
<path transform="translate(1260.41 1234.60) scale(28.350)" d="M0.342 0L0.342 -0.703L0.273 -0.703C0.258 -0.632 0.200 -0.582 0.094 -0.575L0.094 -0.506L0.257 -0.506L0.257 0Z"/>
<path d="M634.6 37.20L647.6 50.00M647.6 37.20L634.6 50.00" stroke="#000" stroke-width="1.25" fill="none"/>
<text x="668.26" y="50.50" font-size="28.35" font-family='"Liberation Sans", sans-serif'>0</text>
<path transform="translate(652.50 50.50) scale(28.350)" d="M0.342 0L0.342 -0.703L0.273 -0.703C0.258 -0.632 0.200 -0.582 0.094 -0.575L0.094 -0.506L0.257 -0.506L0.257 0Z"/>
<text x="683.30" y="36.60" font-size="21.50" text-anchor="start" font-weight="normal" font-style="normal" font-family='"Liberation Sans", sans-serif' >-3</text>
<path d="M634.6 472.20L647.6 485.00M647.6 472.20L634.6 485.00" stroke="#000" stroke-width="1.25" fill="none"/>
<text x="668.26" y="485.50" font-size="28.35" font-family='"Liberation Sans", sans-serif'>0</text>
<path transform="translate(652.50 485.50) scale(28.350)" d="M0.342 0L0.342 -0.703L0.273 -0.703C0.258 -0.632 0.200 -0.582 0.094 -0.575L0.094 -0.506L0.257 -0.506L0.257 0Z"/>
<text x="683.30" y="471.60" font-size="21.50" text-anchor="start" font-weight="normal" font-style="normal" font-family='"Liberation Sans", sans-serif' >-3</text>
<path d="M634.6 910.00L647.6 922.80M647.6 910.00L634.6 922.80" stroke="#000" stroke-width="1.25" fill="none"/>
<text x="668.26" y="923.30" font-size="28.35" font-family='"Liberation Sans", sans-serif'>0</text>
<path transform="translate(652.50 923.30) scale(28.350)" d="M0.342 0L0.342 -0.703L0.273 -0.703C0.258 -0.632 0.200 -0.582 0.094 -0.575L0.094 -0.506L0.257 -0.506L0.257 0Z"/>
<text x="683.30" y="909.40" font-size="21.50" text-anchor="start" font-weight="normal" font-style="normal" font-family='"Liberation Sans", sans-serif' >-7</text>
<g transform="translate(694.80 220.05) rotate(-90) scale(1 1.04)">
<text x="0.00" y="0.00" font-size="28.35" text-anchor="middle" font-weight="normal" font-style="normal" font-family='"Liberation Sans", sans-serif' >mV</text>
</g>
<g transform="translate(1331.20 220.05) rotate(-90) scale(1 1.04)">
<text x="0.00" y="0.00" font-size="28.35" text-anchor="middle" font-weight="normal" font-style="normal" font-family='"Liberation Sans", sans-serif' >mV</text>
</g>
<g transform="translate(694.80 655.90) rotate(-90) scale(1 1.04)">
<text x="0.00" y="0.00" font-size="28.35" text-anchor="middle" font-weight="normal" font-style="normal" font-family='"Liberation Sans", sans-serif' >mV</text>
</g>
<g transform="translate(1331.20 655.85) rotate(-90) scale(1 1.04)">
<text x="0.00" y="0.00" font-size="28.35" text-anchor="middle" font-weight="normal" font-style="normal" font-family='"Liberation Sans", sans-serif' >mV</text>
</g>
<g transform="translate(685.10 1092.60) rotate(-90) scale(1 1.04)">
<text x="0.00" y="0.00" font-size="28.35" text-anchor="middle" font-weight="normal" font-style="normal" font-family='"Liberation Sans", sans-serif' >mV</text>
</g>
<g transform="translate(1336.80 1092.80) rotate(-90) scale(1 1.04)">
<text x="0.00" y="0.00" font-size="28.35" text-anchor="middle" font-weight="normal" font-style="normal" font-family='"Liberation Sans", sans-serif' >mV</text>
</g>
<text x="220.44 237.95" y="1285.20" font-size="31.50" font-family='"Liberation Sans", sans-serif'>50</text>
<text x="380.94 398.46" y="1285.20" font-size="31.50" font-family='"Liberation Sans", sans-serif'>00</text>
<path transform="translate(363.43 1285.20) scale(31.500)" d="M0.342 0L0.342 -0.703L0.273 -0.703C0.258 -0.632 0.200 -0.582 0.094 -0.575L0.094 -0.506L0.257 -0.506L0.257 0Z"/>
<text x="532.69 550.21" y="1285.20" font-size="31.50" font-family='"Liberation Sans", sans-serif'>50</text>
<path transform="translate(515.18 1285.20) scale(31.500)" d="M0.342 0L0.342 -0.703L0.273 -0.703C0.258 -0.632 0.200 -0.582 0.094 -0.575L0.094 -0.506L0.257 -0.506L0.257 0Z"/>
<text y="1319.5" font-size="31.50" font-family='"Liberation Sans", sans-serif'><tspan x="310.35">x</tspan><tspan x="336.50">(</tspan><tspan x="368.20">m</tspan><tspan x="396.90">)</tspan></text>
<g transform="translate(348.30 1319.50)" fill="none" stroke="#000" stroke-linecap="round">
<path d="M6.3 -13.2L1.0 6.0M15.5 -13.2L12.4 -1.6" stroke-width="2.3"/>
<path d="M4.3 -2.2C4.9 0.8 9.9 1.2 12.4 -1.8M12.4 -1.8C12.8 1.2 16.2 0.6 17.9 -4.1" stroke-width="1.1"/>
</g>
<text x="800.94 818.45" y="1285.20" font-size="31.50" font-family='"Liberation Sans", sans-serif'>50</text>
<text x="961.44 978.96" y="1285.20" font-size="31.50" font-family='"Liberation Sans", sans-serif'>00</text>
<path transform="translate(943.93 1285.20) scale(31.500)" d="M0.342 0L0.342 -0.703L0.273 -0.703C0.258 -0.632 0.200 -0.582 0.094 -0.575L0.094 -0.506L0.257 -0.506L0.257 0Z"/>
<text x="1113.19 1130.71" y="1285.20" font-size="31.50" font-family='"Liberation Sans", sans-serif'>50</text>
<path transform="translate(1095.68 1285.20) scale(31.500)" d="M0.342 0L0.342 -0.703L0.273 -0.703C0.258 -0.632 0.200 -0.582 0.094 -0.575L0.094 -0.506L0.257 -0.506L0.257 0Z"/>
<text y="1319.5" font-size="31.50" font-family='"Liberation Sans", sans-serif'><tspan x="890.20">x</tspan><tspan x="916.35">(</tspan><tspan x="948.05">m</tspan><tspan x="976.75">)</tspan></text>
<g transform="translate(928.15 1319.50)" fill="none" stroke="#000" stroke-linecap="round">
<path d="M6.3 -13.2L1.0 6.0M15.5 -13.2L12.4 -1.6" stroke-width="2.3"/>
<path d="M4.3 -2.2C4.9 0.8 9.9 1.2 12.4 -1.8M12.4 -1.8C12.8 1.2 16.2 0.6 17.9 -4.1" stroke-width="1.1"/>
</g>
</svg></body></html>
